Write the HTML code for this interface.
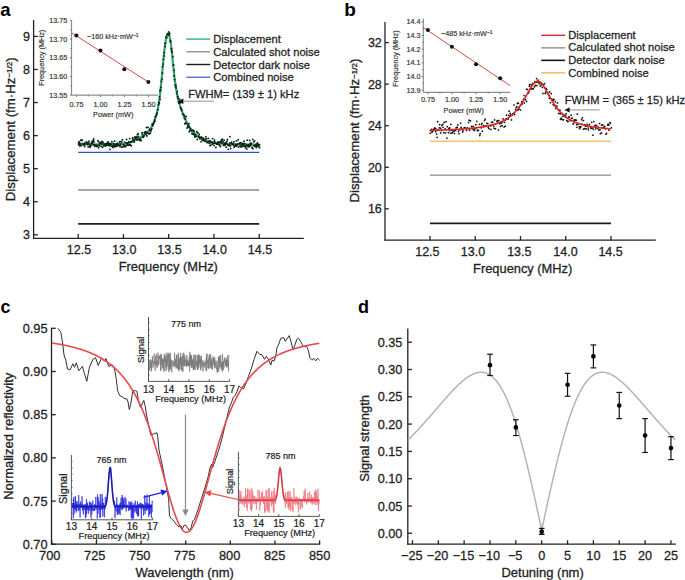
<!DOCTYPE html>
<html><head><meta charset="utf-8"><style>
html,body{margin:0;padding:0;background:#fff;}
svg{display:block;}
text{font-family:"Liberation Sans",sans-serif;}
</style></head><body>
<svg width="685" height="580" viewBox="0 0 685 580" font-family="Liberation Sans, sans-serif">
<rect width="685" height="580" fill="#fff"/>
<text x="0.3" y="15.7" font-size="18.5" text-anchor="start" font-weight="bold" fill="#000" >a</text>
<line x1="33.6" y1="20" x2="33.6" y2="238.9" stroke="#222" stroke-width="1.3" />
<line x1="33" y1="238.3" x2="303.8" y2="238.3" stroke="#222" stroke-width="1.3" />
<line x1="33.6" y1="234.82" x2="37.8" y2="234.82" stroke="#222" stroke-width="1.3" />
<text x="29.9" y="239.22" font-size="12.5" text-anchor="end" fill="#1f1f1f"  stroke="#1f1f1f" stroke-width="0.30">3</text>
<line x1="33.6" y1="201.75" x2="37.8" y2="201.75" stroke="#222" stroke-width="1.3" />
<text x="29.9" y="206.15" font-size="12.5" text-anchor="end" fill="#1f1f1f"  stroke="#1f1f1f" stroke-width="0.30">4</text>
<line x1="33.6" y1="168.68" x2="37.8" y2="168.68" stroke="#222" stroke-width="1.3" />
<text x="29.9" y="173.08" font-size="12.5" text-anchor="end" fill="#1f1f1f"  stroke="#1f1f1f" stroke-width="0.30">5</text>
<line x1="33.6" y1="135.61" x2="37.8" y2="135.61" stroke="#222" stroke-width="1.3" />
<text x="29.9" y="140.01" font-size="12.5" text-anchor="end" fill="#1f1f1f"  stroke="#1f1f1f" stroke-width="0.30">6</text>
<line x1="33.6" y1="102.54" x2="37.8" y2="102.54" stroke="#222" stroke-width="1.3" />
<text x="29.9" y="106.94" font-size="12.5" text-anchor="end" fill="#1f1f1f"  stroke="#1f1f1f" stroke-width="0.30">7</text>
<line x1="33.6" y1="69.47" x2="37.8" y2="69.47" stroke="#222" stroke-width="1.3" />
<text x="29.9" y="73.87" font-size="12.5" text-anchor="end" fill="#1f1f1f"  stroke="#1f1f1f" stroke-width="0.30">8</text>
<line x1="33.6" y1="36.4" x2="37.8" y2="36.4" stroke="#222" stroke-width="1.3" />
<text x="29.9" y="40.8" font-size="12.5" text-anchor="end" fill="#1f1f1f"  stroke="#1f1f1f" stroke-width="0.30">9</text>
<line x1="78.2" y1="238.3" x2="78.2" y2="234.1" stroke="#222" stroke-width="1.3" />
<text x="79" y="254.1" font-size="12.5" text-anchor="middle" fill="#1f1f1f"  stroke="#1f1f1f" stroke-width="0.30">12.5</text>
<line x1="123.45" y1="238.3" x2="123.45" y2="234.1" stroke="#222" stroke-width="1.3" />
<text x="124.25" y="254.1" font-size="12.5" text-anchor="middle" fill="#1f1f1f"  stroke="#1f1f1f" stroke-width="0.30">13.0</text>
<line x1="168.7" y1="238.3" x2="168.7" y2="234.1" stroke="#222" stroke-width="1.3" />
<text x="169.5" y="254.1" font-size="12.5" text-anchor="middle" fill="#1f1f1f"  stroke="#1f1f1f" stroke-width="0.30">13.5</text>
<line x1="213.95" y1="238.3" x2="213.95" y2="234.1" stroke="#222" stroke-width="1.3" />
<text x="214.75" y="254.1" font-size="12.5" text-anchor="middle" fill="#1f1f1f"  stroke="#1f1f1f" stroke-width="0.30">14.0</text>
<line x1="259.2" y1="238.3" x2="259.2" y2="234.1" stroke="#222" stroke-width="1.3" />
<text x="260" y="254.1" font-size="12.5" text-anchor="middle" fill="#1f1f1f"  stroke="#1f1f1f" stroke-width="0.30">14.5</text>
<text x="168.3" y="271" font-size="12.85" text-anchor="middle" fill="#1f1f1f"  stroke="#1f1f1f" stroke-width="0.30">Frequency (MHz)</text>
<text x="14.8" y="129.3" font-size="13.25" text-anchor="middle" fill="#1f1f1f" transform="rotate(-90 14.8 129.3)"  stroke="#1f1f1f" stroke-width="0.30">Displacement (fm·Hz<tspan font-size="8" dy="-2.4">−1/2</tspan><tspan dy="2.4">)</tspan></text>
<line x1="78.2" y1="152.4" x2="259.2" y2="152.4" stroke="#2e4cc4" stroke-width="1.3" />
<line x1="78.2" y1="190" x2="259.2" y2="190" stroke="#8a8a8a" stroke-width="1.3" />
<line x1="78.2" y1="223.85" x2="259.2" y2="223.85" stroke="#1c1c1c" stroke-width="1.8" />
<path d="M78.5 143.6 L78.75 143.62 L79 143.63 L79.25 143.65 L79.5 143.67 L79.75 143.69 L80 143.7 L80.25 143.72 L80.5 143.73 L80.75 143.75 L81 143.77 L81.25 143.78 L81.5 143.8 L81.75 143.81 L82 143.83 L82.25 143.84 L82.5 143.86 L82.75 143.87 L83 143.89 L83.25 143.9 L83.5 143.92 L83.75 143.93 L84 143.95 L84.25 143.96 L84.5 143.97 L84.75 143.99 L85 144 L85.25 144.01 L85.5 144.02 L85.75 144.04 L86 144.05 L86.25 144.06 L86.5 144.07 L86.75 144.08 L87 144.09 L87.25 144.1 L87.5 144.11 L87.75 144.12 L88 144.13 L88.25 144.14 L88.5 144.15 L88.75 144.16 L89 144.17 L89.25 144.18 L89.5 144.19 L89.75 144.19 L90 144.2 L90.25 144.21 L90.5 144.21 L90.75 144.22 L91 144.23 L91.25 144.24 L91.5 144.24 L91.75 144.25 L92 144.26 L92.25 144.26 L92.5 144.27 L92.75 144.28 L93 144.29 L93.25 144.29 L93.5 144.3 L93.75 144.31 L94 144.31 L94.25 144.32 L94.5 144.32 L94.75 144.33 L95 144.34 L95.25 144.34 L95.5 144.35 L95.75 144.35 L96 144.36 L96.25 144.36 L96.5 144.37 L96.75 144.37 L97 144.37 L97.25 144.38 L97.5 144.38 L97.75 144.39 L98 144.39 L98.25 144.39 L98.5 144.39 L98.75 144.4 L99 144.4 L99.25 144.4 L99.5 144.4 L99.75 144.4 L100 144.4 L100.25 144.4 L100.5 144.4 L100.75 144.4 L101 144.4 L101.25 144.4 L101.5 144.4 L101.75 144.4 L102 144.39 L102.25 144.39 L102.5 144.39 L102.75 144.39 L103 144.39 L103.25 144.39 L103.5 144.38 L103.75 144.38 L104 144.38 L104.25 144.38 L104.5 144.37 L104.75 144.37 L105 144.37 L105.25 144.37 L105.5 144.36 L105.75 144.36 L106 144.36 L106.25 144.35 L106.5 144.35 L106.75 144.35 L107 144.34 L107.25 144.34 L107.5 144.34 L107.75 144.33 L108 144.33 L108.25 144.33 L108.5 144.32 L108.75 144.32 L109 144.31 L109.25 144.31 L109.5 144.31 L109.75 144.3 L110 144.3 L110.25 144.3 L110.5 144.29 L110.75 144.29 L111 144.28 L111.25 144.28 L111.5 144.27 L111.75 144.27 L112 144.26 L112.25 144.26 L112.5 144.25 L112.75 144.25 L113 144.24 L113.25 144.24 L113.5 144.23 L113.75 144.22 L114 144.22 L114.25 144.21 L114.5 144.2 L114.75 144.2 L115 144.19 L115.25 144.18 L115.5 144.17 L115.75 144.17 L116 144.16 L116.25 144.15 L116.5 144.14 L116.75 144.13 L117 144.12 L117.25 144.12 L117.5 144.11 L117.75 144.1 L118 144.09 L118.25 144.08 L118.5 144.07 L118.75 144.06 L119 144.05 L119.25 144.03 L119.5 144.02 L119.75 144.01 L120 144 L120.25 143.99 L120.5 143.98 L120.75 143.96 L121 143.95 L121.25 143.93 L121.5 143.92 L121.75 143.9 L122 143.88 L122.25 143.87 L122.5 143.85 L122.75 143.83 L123 143.81 L123.25 143.79 L123.5 143.77 L123.75 143.74 L124 143.72 L124.25 143.7 L124.5 143.67 L124.75 143.64 L125 143.62 L125.25 143.59 L125.5 143.56 L125.75 143.53 L126 143.5 L126.25 143.46 L126.5 143.43 L126.75 143.39 L127 143.36 L127.25 143.32 L127.5 143.28 L127.75 143.24 L128 143.2 L128.25 143.15 L128.5 143.1 L128.75 143.03 L129 142.96 L129.25 142.88 L129.5 142.79 L129.75 142.69 L130 142.59 L130.25 142.49 L130.5 142.37 L130.75 142.26 L131 142.14 L131.25 142.01 L131.5 141.89 L131.75 141.76 L132 141.63 L132.25 141.5 L132.5 141.37 L132.75 141.24 L133 141.11 L133.25 140.98 L133.5 140.85 L133.75 140.72 L134 140.6 L134.25 140.48 L134.5 140.35 L134.75 140.23 L135 140.1 L135.25 139.97 L135.5 139.84 L135.75 139.71 L136 139.58 L136.25 139.45 L136.5 139.31 L136.75 139.17 L137 139.04 L137.25 138.9 L137.5 138.76 L137.75 138.62 L138 138.47 L138.25 138.33 L138.5 138.19 L138.75 138.04 L139 137.89 L139.25 137.75 L139.5 137.6 L139.75 137.45 L140 137.3 L140.25 137.15 L140.5 137 L140.75 136.86 L141 136.71 L141.25 136.57 L141.5 136.42 L141.75 136.28 L142 136.13 L142.25 135.99 L142.5 135.84 L142.75 135.69 L143 135.54 L143.25 135.39 L143.5 135.23 L143.75 135.07 L144 134.91 L144.25 134.74 L144.5 134.57 L144.75 134.39 L145 134.21 L145.25 134.03 L145.5 133.83 L145.75 133.64 L146 133.43 L146.25 133.22 L146.5 133 L146.75 132.77 L147 132.54 L147.25 132.3 L147.5 132.05 L147.75 131.79 L148 131.52 L148.25 131.25 L148.5 130.96 L148.75 130.67 L149 130.37 L149.25 130.05 L149.5 129.73 L149.75 129.4 L150 129.06 L150.25 128.71 L150.5 128.35 L150.75 127.97 L151 127.59 L151.25 127.19 L151.5 126.79 L151.75 126.37 L152 125.94 L152.25 125.5 L152.5 125.05 L152.75 124.58 L153 124.11 L153.25 123.6 L153.5 123.06 L153.75 122.49 L154 121.89 L154.25 121.26 L154.5 120.6 L154.75 119.91 L155 119.19 L155.25 118.43 L155.5 117.65 L155.75 116.83 L156 115.99 L156.25 115.11 L156.5 114.2 L156.75 113.27 L157 112.3 L157.25 111.3 L157.5 110.23 L157.75 109.07 L158 107.82 L158.25 106.49 L158.5 105.08 L158.75 103.59 L159 102.02 L159.25 100.37 L159.5 98.66 L159.75 96.87 L160 94.94 L160.25 92.76 L160.5 90.38 L160.75 87.86 L161 85.26 L161.25 82.63 L161.5 80.02 L161.75 77.46 L162 74.82 L162.25 72.16 L162.5 69.53 L162.75 66.96 L163 64.32 L163.25 61.65 L163.5 58.98 L163.75 56.37 L164 53.85 L164.25 51.48 L164.5 49.3 L164.75 47.36 L165 45.61 L165.25 43.94 L165.5 42.36 L165.75 40.88 L166 39.54 L166.25 38.36 L166.5 37.35 L166.75 36.49 L167 35.65 L167.25 34.86 L167.5 34.21 L167.75 33.76 L168 33.6 L168.25 33.72 L168.5 34.05 L168.75 34.56 L169 35.2 L169.25 35.92 L169.5 36.69 L169.75 37.52 L170 38.6 L170.25 39.91 L170.5 41.41 L170.75 43.06 L171 44.82 L171.25 46.63 L171.5 48.59 L171.75 50.87 L172 53.39 L172.25 56.07 L172.5 58.83 L172.75 61.58 L173 64.24 L173.25 66.73 L173.5 68.98 L173.75 71.14 L174 73.27 L174.25 75.34 L174.5 77.35 L174.75 79.3 L175 81.17 L175.25 82.95 L175.5 84.65 L175.75 86.26 L176 87.84 L176.25 89.38 L176.5 90.88 L176.75 92.33 L177 93.73 L177.25 95.08 L177.5 96.37 L177.75 97.59 L178 98.73 L178.25 99.8 L178.5 100.79 L178.75 101.72 L179 102.6 L179.25 103.45 L179.5 104.25 L179.75 105.03 L180 105.77 L180.25 106.5 L180.5 107.2 L180.75 107.88 L181 108.55 L181.25 109.22 L181.5 109.88 L181.75 110.54 L182 111.2 L182.25 111.87 L182.5 112.53 L182.75 113.19 L183 113.84 L183.25 114.49 L183.5 115.12 L183.75 115.75 L184 116.38 L184.25 116.99 L184.5 117.59 L184.75 118.17 L185 118.75 L185.25 119.31 L185.5 119.86 L185.75 120.39 L186 120.9 L186.25 121.4 L186.5 121.89 L186.75 122.36 L187 122.83 L187.25 123.3 L187.5 123.75 L187.75 124.2 L188 124.64 L188.25 125.07 L188.5 125.5 L188.75 125.92 L189 126.33 L189.25 126.73 L189.5 127.12 L189.75 127.51 L190 127.89 L190.25 128.25 L190.5 128.61 L190.75 128.96 L191 129.3 L191.25 129.63 L191.5 129.95 L191.75 130.26 L192 130.57 L192.25 130.87 L192.5 131.16 L192.75 131.45 L193 131.74 L193.25 132.02 L193.5 132.3 L193.75 132.58 L194 132.84 L194.25 133.11 L194.5 133.37 L194.75 133.62 L195 133.87 L195.25 134.11 L195.5 134.35 L195.75 134.59 L196 134.82 L196.25 135.04 L196.5 135.26 L196.75 135.47 L197 135.68 L197.25 135.88 L197.5 136.08 L197.75 136.27 L198 136.46 L198.25 136.64 L198.5 136.81 L198.75 136.99 L199 137.16 L199.25 137.34 L199.5 137.51 L199.75 137.67 L200 137.84 L200.25 138 L200.5 138.16 L200.75 138.32 L201 138.47 L201.25 138.63 L201.5 138.77 L201.75 138.92 L202 139.06 L202.25 139.19 L202.5 139.33 L202.75 139.46 L203 139.58 L203.25 139.7 L203.5 139.81 L203.75 139.93 L204 140.03 L204.25 140.13 L204.5 140.23 L204.75 140.32 L205 140.4 L205.25 140.48 L205.5 140.56 L205.75 140.64 L206 140.71 L206.25 140.79 L206.5 140.86 L206.75 140.94 L207 141.01 L207.25 141.08 L207.5 141.15 L207.75 141.22 L208 141.28 L208.25 141.35 L208.5 141.41 L208.75 141.48 L209 141.54 L209.25 141.6 L209.5 141.66 L209.75 141.72 L210 141.77 L210.25 141.83 L210.5 141.89 L210.75 141.94 L211 141.99 L211.25 142.04 L211.5 142.09 L211.75 142.14 L212 142.19 L212.25 142.24 L212.5 142.28 L212.75 142.33 L213 142.37 L213.25 142.41 L213.5 142.45 L213.75 142.49 L214 142.53 L214.25 142.57 L214.5 142.6 L214.75 142.64 L215 142.67 L215.25 142.71 L215.5 142.74 L215.75 142.77 L216 142.8 L216.25 142.83 L216.5 142.86 L216.75 142.89 L217 142.91 L217.25 142.94 L217.5 142.97 L217.75 143 L218 143.02 L218.25 143.05 L218.5 143.07 L218.75 143.1 L219 143.12 L219.25 143.15 L219.5 143.17 L219.75 143.2 L220 143.22 L220.25 143.24 L220.5 143.27 L220.75 143.29 L221 143.31 L221.25 143.33 L221.5 143.35 L221.75 143.37 L222 143.39 L222.25 143.41 L222.5 143.43 L222.75 143.45 L223 143.47 L223.25 143.49 L223.5 143.51 L223.75 143.53 L224 143.55 L224.25 143.57 L224.5 143.58 L224.75 143.6 L225 143.62 L225.25 143.63 L225.5 143.65 L225.75 143.67 L226 143.68 L226.25 143.7 L226.5 143.71 L226.75 143.73 L227 143.74 L227.25 143.76 L227.5 143.77 L227.75 143.79 L228 143.8 L228.25 143.81 L228.5 143.83 L228.75 143.84 L229 143.85 L229.25 143.86 L229.5 143.88 L229.75 143.89 L230 143.9 L230.25 143.91 L230.5 143.92 L230.75 143.93 L231 143.95 L231.25 143.96 L231.5 143.97 L231.75 143.98 L232 143.99 L232.25 144 L232.5 144.01 L232.75 144.02 L233 144.03 L233.25 144.04 L233.5 144.05 L233.75 144.06 L234 144.07 L234.25 144.07 L234.5 144.08 L234.75 144.09 L235 144.1 L235.25 144.11 L235.5 144.12 L235.75 144.13 L236 144.13 L236.25 144.14 L236.5 144.15 L236.75 144.16 L237 144.17 L237.25 144.17 L237.5 144.18 L237.75 144.19 L238 144.2 L238.25 144.21 L238.5 144.21 L238.75 144.22 L239 144.23 L239.25 144.23 L239.5 144.24 L239.75 144.25 L240 144.26 L240.25 144.26 L240.5 144.27 L240.75 144.28 L241 144.28 L241.25 144.29 L241.5 144.3 L241.75 144.31 L242 144.31 L242.25 144.32 L242.5 144.33 L242.75 144.33 L243 144.34 L243.25 144.35 L243.5 144.36 L243.75 144.36 L244 144.37 L244.25 144.38 L244.5 144.39 L244.75 144.39 L245 144.4 L245.25 144.41 L245.5 144.41 L245.75 144.42 L246 144.43 L246.25 144.44 L246.5 144.44 L246.75 144.45 L247 144.46 L247.25 144.47 L247.5 144.47 L247.75 144.48 L248 144.49 L248.25 144.5 L248.5 144.5 L248.75 144.51 L249 144.52 L249.25 144.52 L249.5 144.53 L249.75 144.54 L250 144.54 L250.25 144.55 L250.5 144.56 L250.75 144.57 L251 144.57 L251.25 144.58 L251.5 144.59 L251.75 144.59 L252 144.6 L252.25 144.61 L252.5 144.61 L252.75 144.62 L253 144.63 L253.25 144.63 L253.5 144.64 L253.75 144.65 L254 144.65 L254.25 144.66 L254.5 144.67 L254.75 144.67 L255 144.68 L255.25 144.69 L255.5 144.69 L255.75 144.7 L256 144.71 L256.25 144.71 L256.5 144.72 L256.75 144.72 L257 144.73 L257.25 144.74 L257.5 144.74 L257.75 144.75 L258 144.76 L258.25 144.76 L258.5 144.77 L258.75 144.77 L259 144.78 L259.25 144.79 L259.5 144.79 L259.75 144.8" fill="none" stroke="#30a870" stroke-width="2.2" stroke-linejoin="round" />
<path d="M77.64 143.06a0.95 0.95 0 1 0 1.9 0a0.95 0.95 0 1 0 -1.9 0M77.71 144.7a0.95 0.95 0 1 0 1.9 0a0.95 0.95 0 1 0 -1.9 0M78.11 141.7a0.95 0.95 0 1 0 1.9 0a0.95 0.95 0 1 0 -1.9 0M78.79 143.24a0.95 0.95 0 1 0 1.9 0a0.95 0.95 0 1 0 -1.9 0M78.94 145.89a0.95 0.95 0 1 0 1.9 0a0.95 0.95 0 1 0 -1.9 0M79.37 144.26a0.95 0.95 0 1 0 1.9 0a0.95 0.95 0 1 0 -1.9 0M79.8 140.27a0.95 0.95 0 1 0 1.9 0a0.95 0.95 0 1 0 -1.9 0M80.27 145.59a0.95 0.95 0 1 0 1.9 0a0.95 0.95 0 1 0 -1.9 0M80.9 140.27a0.95 0.95 0 1 0 1.9 0a0.95 0.95 0 1 0 -1.9 0M81.2 140.18a0.95 0.95 0 1 0 1.9 0a0.95 0.95 0 1 0 -1.9 0M81.89 144.51a0.95 0.95 0 1 0 1.9 0a0.95 0.95 0 1 0 -1.9 0M81.97 143.79a0.95 0.95 0 1 0 1.9 0a0.95 0.95 0 1 0 -1.9 0M82.39 144.56a0.95 0.95 0 1 0 1.9 0a0.95 0.95 0 1 0 -1.9 0M83.11 144.77a0.95 0.95 0 1 0 1.9 0a0.95 0.95 0 1 0 -1.9 0M83.42 145.13a0.95 0.95 0 1 0 1.9 0a0.95 0.95 0 1 0 -1.9 0M83.67 146.5a0.95 0.95 0 1 0 1.9 0a0.95 0.95 0 1 0 -1.9 0M83.89 143.28a0.95 0.95 0 1 0 1.9 0a0.95 0.95 0 1 0 -1.9 0M84.39 143.8a0.95 0.95 0 1 0 1.9 0a0.95 0.95 0 1 0 -1.9 0M84.87 143.1a0.95 0.95 0 1 0 1.9 0a0.95 0.95 0 1 0 -1.9 0M85.45 142.05a0.95 0.95 0 1 0 1.9 0a0.95 0.95 0 1 0 -1.9 0M85.99 142.38a0.95 0.95 0 1 0 1.9 0a0.95 0.95 0 1 0 -1.9 0M86.34 144.61a0.95 0.95 0 1 0 1.9 0a0.95 0.95 0 1 0 -1.9 0M86.65 144.22a0.95 0.95 0 1 0 1.9 0a0.95 0.95 0 1 0 -1.9 0M87.27 146.88a0.95 0.95 0 1 0 1.9 0a0.95 0.95 0 1 0 -1.9 0M87.75 143.93a0.95 0.95 0 1 0 1.9 0a0.95 0.95 0 1 0 -1.9 0M87.65 142.45a0.95 0.95 0 1 0 1.9 0a0.95 0.95 0 1 0 -1.9 0M88.08 141.1a0.95 0.95 0 1 0 1.9 0a0.95 0.95 0 1 0 -1.9 0M88.69 145.93a0.95 0.95 0 1 0 1.9 0a0.95 0.95 0 1 0 -1.9 0M89.27 147.23a0.95 0.95 0 1 0 1.9 0a0.95 0.95 0 1 0 -1.9 0M89.57 144.97a0.95 0.95 0 1 0 1.9 0a0.95 0.95 0 1 0 -1.9 0M90.06 145.52a0.95 0.95 0 1 0 1.9 0a0.95 0.95 0 1 0 -1.9 0M90.41 142.95a0.95 0.95 0 1 0 1.9 0a0.95 0.95 0 1 0 -1.9 0M90.97 142.22a0.95 0.95 0 1 0 1.9 0a0.95 0.95 0 1 0 -1.9 0M91.45 143.15a0.95 0.95 0 1 0 1.9 0a0.95 0.95 0 1 0 -1.9 0M91.33 141.21a0.95 0.95 0 1 0 1.9 0a0.95 0.95 0 1 0 -1.9 0M92.13 144.79a0.95 0.95 0 1 0 1.9 0a0.95 0.95 0 1 0 -1.9 0M92.61 140.31a0.95 0.95 0 1 0 1.9 0a0.95 0.95 0 1 0 -1.9 0M92.7 139.02a0.95 0.95 0 1 0 1.9 0a0.95 0.95 0 1 0 -1.9 0M92.96 141.96a0.95 0.95 0 1 0 1.9 0a0.95 0.95 0 1 0 -1.9 0M93.63 146.38a0.95 0.95 0 1 0 1.9 0a0.95 0.95 0 1 0 -1.9 0M93.8 144.85a0.95 0.95 0 1 0 1.9 0a0.95 0.95 0 1 0 -1.9 0M94.64 145.26a0.95 0.95 0 1 0 1.9 0a0.95 0.95 0 1 0 -1.9 0M94.83 145.44a0.95 0.95 0 1 0 1.9 0a0.95 0.95 0 1 0 -1.9 0M95.53 145.51a0.95 0.95 0 1 0 1.9 0a0.95 0.95 0 1 0 -1.9 0M95.75 146.38a0.95 0.95 0 1 0 1.9 0a0.95 0.95 0 1 0 -1.9 0M96.36 145.49a0.95 0.95 0 1 0 1.9 0a0.95 0.95 0 1 0 -1.9 0M96.41 146.15a0.95 0.95 0 1 0 1.9 0a0.95 0.95 0 1 0 -1.9 0M96.91 140.58a0.95 0.95 0 1 0 1.9 0a0.95 0.95 0 1 0 -1.9 0M97.65 141.64a0.95 0.95 0 1 0 1.9 0a0.95 0.95 0 1 0 -1.9 0M97.58 147.78a0.95 0.95 0 1 0 1.9 0a0.95 0.95 0 1 0 -1.9 0M98.04 145.08a0.95 0.95 0 1 0 1.9 0a0.95 0.95 0 1 0 -1.9 0M98.6 145.76a0.95 0.95 0 1 0 1.9 0a0.95 0.95 0 1 0 -1.9 0M98.73 143.01a0.95 0.95 0 1 0 1.9 0a0.95 0.95 0 1 0 -1.9 0M99.39 143.53a0.95 0.95 0 1 0 1.9 0a0.95 0.95 0 1 0 -1.9 0M100.12 142.55a0.95 0.95 0 1 0 1.9 0a0.95 0.95 0 1 0 -1.9 0M100.38 146.39a0.95 0.95 0 1 0 1.9 0a0.95 0.95 0 1 0 -1.9 0M100.78 141.5a0.95 0.95 0 1 0 1.9 0a0.95 0.95 0 1 0 -1.9 0M100.82 144.11a0.95 0.95 0 1 0 1.9 0a0.95 0.95 0 1 0 -1.9 0M101.73 147.34a0.95 0.95 0 1 0 1.9 0a0.95 0.95 0 1 0 -1.9 0M102.09 142.23a0.95 0.95 0 1 0 1.9 0a0.95 0.95 0 1 0 -1.9 0M102.09 142.73a0.95 0.95 0 1 0 1.9 0a0.95 0.95 0 1 0 -1.9 0M102.82 145.71a0.95 0.95 0 1 0 1.9 0a0.95 0.95 0 1 0 -1.9 0M102.98 145.1a0.95 0.95 0 1 0 1.9 0a0.95 0.95 0 1 0 -1.9 0M103.37 144.67a0.95 0.95 0 1 0 1.9 0a0.95 0.95 0 1 0 -1.9 0M103.68 144a0.95 0.95 0 1 0 1.9 0a0.95 0.95 0 1 0 -1.9 0M104.18 144.95a0.95 0.95 0 1 0 1.9 0a0.95 0.95 0 1 0 -1.9 0M104.52 145.96a0.95 0.95 0 1 0 1.9 0a0.95 0.95 0 1 0 -1.9 0M105.44 145.54a0.95 0.95 0 1 0 1.9 0a0.95 0.95 0 1 0 -1.9 0M105.48 143.45a0.95 0.95 0 1 0 1.9 0a0.95 0.95 0 1 0 -1.9 0M105.95 143.56a0.95 0.95 0 1 0 1.9 0a0.95 0.95 0 1 0 -1.9 0M106.67 143.63a0.95 0.95 0 1 0 1.9 0a0.95 0.95 0 1 0 -1.9 0M107.17 145.14a0.95 0.95 0 1 0 1.9 0a0.95 0.95 0 1 0 -1.9 0M107.04 141.97a0.95 0.95 0 1 0 1.9 0a0.95 0.95 0 1 0 -1.9 0M107.46 144.83a0.95 0.95 0 1 0 1.9 0a0.95 0.95 0 1 0 -1.9 0M108.31 143.41a0.95 0.95 0 1 0 1.9 0a0.95 0.95 0 1 0 -1.9 0M108.32 145.68a0.95 0.95 0 1 0 1.9 0a0.95 0.95 0 1 0 -1.9 0M108.95 149.4a0.95 0.95 0 1 0 1.9 0a0.95 0.95 0 1 0 -1.9 0M109.14 145.04a0.95 0.95 0 1 0 1.9 0a0.95 0.95 0 1 0 -1.9 0M109.78 143.81a0.95 0.95 0 1 0 1.9 0a0.95 0.95 0 1 0 -1.9 0M110.46 144.15a0.95 0.95 0 1 0 1.9 0a0.95 0.95 0 1 0 -1.9 0M110.45 146.39a0.95 0.95 0 1 0 1.9 0a0.95 0.95 0 1 0 -1.9 0M110.92 141.81a0.95 0.95 0 1 0 1.9 0a0.95 0.95 0 1 0 -1.9 0M111.43 146.06a0.95 0.95 0 1 0 1.9 0a0.95 0.95 0 1 0 -1.9 0M112 147.38a0.95 0.95 0 1 0 1.9 0a0.95 0.95 0 1 0 -1.9 0M112.43 143.52a0.95 0.95 0 1 0 1.9 0a0.95 0.95 0 1 0 -1.9 0M112.94 145.54a0.95 0.95 0 1 0 1.9 0a0.95 0.95 0 1 0 -1.9 0M113.26 146.5a0.95 0.95 0 1 0 1.9 0a0.95 0.95 0 1 0 -1.9 0M113.62 141.17a0.95 0.95 0 1 0 1.9 0a0.95 0.95 0 1 0 -1.9 0M113.81 144.56a0.95 0.95 0 1 0 1.9 0a0.95 0.95 0 1 0 -1.9 0M114.02 146.69a0.95 0.95 0 1 0 1.9 0a0.95 0.95 0 1 0 -1.9 0M114.57 145.84a0.95 0.95 0 1 0 1.9 0a0.95 0.95 0 1 0 -1.9 0M115.25 144.45a0.95 0.95 0 1 0 1.9 0a0.95 0.95 0 1 0 -1.9 0M115.81 146.34a0.95 0.95 0 1 0 1.9 0a0.95 0.95 0 1 0 -1.9 0M116.25 143.51a0.95 0.95 0 1 0 1.9 0a0.95 0.95 0 1 0 -1.9 0M116.2 146.03a0.95 0.95 0 1 0 1.9 0a0.95 0.95 0 1 0 -1.9 0M116.62 143.54a0.95 0.95 0 1 0 1.9 0a0.95 0.95 0 1 0 -1.9 0M117.27 144.55a0.95 0.95 0 1 0 1.9 0a0.95 0.95 0 1 0 -1.9 0M117.85 145.41a0.95 0.95 0 1 0 1.9 0a0.95 0.95 0 1 0 -1.9 0M118.11 145.34a0.95 0.95 0 1 0 1.9 0a0.95 0.95 0 1 0 -1.9 0M118.62 142.01a0.95 0.95 0 1 0 1.9 0a0.95 0.95 0 1 0 -1.9 0M119.09 146.67a0.95 0.95 0 1 0 1.9 0a0.95 0.95 0 1 0 -1.9 0M119.43 145.56a0.95 0.95 0 1 0 1.9 0a0.95 0.95 0 1 0 -1.9 0M119.48 143.97a0.95 0.95 0 1 0 1.9 0a0.95 0.95 0 1 0 -1.9 0M120.26 141.55a0.95 0.95 0 1 0 1.9 0a0.95 0.95 0 1 0 -1.9 0M120.78 142.05a0.95 0.95 0 1 0 1.9 0a0.95 0.95 0 1 0 -1.9 0M120.85 147.17a0.95 0.95 0 1 0 1.9 0a0.95 0.95 0 1 0 -1.9 0M121.46 139.72a0.95 0.95 0 1 0 1.9 0a0.95 0.95 0 1 0 -1.9 0M121.54 146.79a0.95 0.95 0 1 0 1.9 0a0.95 0.95 0 1 0 -1.9 0M122.4 144.64a0.95 0.95 0 1 0 1.9 0a0.95 0.95 0 1 0 -1.9 0M122.75 144.63a0.95 0.95 0 1 0 1.9 0a0.95 0.95 0 1 0 -1.9 0M123.27 146.11a0.95 0.95 0 1 0 1.9 0a0.95 0.95 0 1 0 -1.9 0M123.49 146.81a0.95 0.95 0 1 0 1.9 0a0.95 0.95 0 1 0 -1.9 0M123.58 142.08a0.95 0.95 0 1 0 1.9 0a0.95 0.95 0 1 0 -1.9 0M123.93 145.74a0.95 0.95 0 1 0 1.9 0a0.95 0.95 0 1 0 -1.9 0M124.65 146.54a0.95 0.95 0 1 0 1.9 0a0.95 0.95 0 1 0 -1.9 0M125.3 142.94a0.95 0.95 0 1 0 1.9 0a0.95 0.95 0 1 0 -1.9 0M125.65 139.55a0.95 0.95 0 1 0 1.9 0a0.95 0.95 0 1 0 -1.9 0M125.7 145.1a0.95 0.95 0 1 0 1.9 0a0.95 0.95 0 1 0 -1.9 0M126.13 143.3a0.95 0.95 0 1 0 1.9 0a0.95 0.95 0 1 0 -1.9 0M126.75 145.01a0.95 0.95 0 1 0 1.9 0a0.95 0.95 0 1 0 -1.9 0M126.89 143.06a0.95 0.95 0 1 0 1.9 0a0.95 0.95 0 1 0 -1.9 0M127.77 145.29a0.95 0.95 0 1 0 1.9 0a0.95 0.95 0 1 0 -1.9 0M127.98 141.58a0.95 0.95 0 1 0 1.9 0a0.95 0.95 0 1 0 -1.9 0M128.59 144.71a0.95 0.95 0 1 0 1.9 0a0.95 0.95 0 1 0 -1.9 0M128.76 138.59a0.95 0.95 0 1 0 1.9 0a0.95 0.95 0 1 0 -1.9 0M129.19 144.79a0.95 0.95 0 1 0 1.9 0a0.95 0.95 0 1 0 -1.9 0M129.55 141.95a0.95 0.95 0 1 0 1.9 0a0.95 0.95 0 1 0 -1.9 0M129.81 142.1a0.95 0.95 0 1 0 1.9 0a0.95 0.95 0 1 0 -1.9 0M130.22 145.72a0.95 0.95 0 1 0 1.9 0a0.95 0.95 0 1 0 -1.9 0M130.81 141.84a0.95 0.95 0 1 0 1.9 0a0.95 0.95 0 1 0 -1.9 0M131.13 141.12a0.95 0.95 0 1 0 1.9 0a0.95 0.95 0 1 0 -1.9 0M131.66 138.67a0.95 0.95 0 1 0 1.9 0a0.95 0.95 0 1 0 -1.9 0M131.83 137.64a0.95 0.95 0 1 0 1.9 0a0.95 0.95 0 1 0 -1.9 0M132.51 139.63a0.95 0.95 0 1 0 1.9 0a0.95 0.95 0 1 0 -1.9 0M133.05 140.69a0.95 0.95 0 1 0 1.9 0a0.95 0.95 0 1 0 -1.9 0M133.31 142.17a0.95 0.95 0 1 0 1.9 0a0.95 0.95 0 1 0 -1.9 0M133.96 136.99a0.95 0.95 0 1 0 1.9 0a0.95 0.95 0 1 0 -1.9 0M134.09 138.72a0.95 0.95 0 1 0 1.9 0a0.95 0.95 0 1 0 -1.9 0M134.55 137.95a0.95 0.95 0 1 0 1.9 0a0.95 0.95 0 1 0 -1.9 0M135.07 138.01a0.95 0.95 0 1 0 1.9 0a0.95 0.95 0 1 0 -1.9 0M135.35 136.93a0.95 0.95 0 1 0 1.9 0a0.95 0.95 0 1 0 -1.9 0M136.05 139.95a0.95 0.95 0 1 0 1.9 0a0.95 0.95 0 1 0 -1.9 0M136.46 137.61a0.95 0.95 0 1 0 1.9 0a0.95 0.95 0 1 0 -1.9 0M136.46 134.65a0.95 0.95 0 1 0 1.9 0a0.95 0.95 0 1 0 -1.9 0M137.22 133.81a0.95 0.95 0 1 0 1.9 0a0.95 0.95 0 1 0 -1.9 0M137.21 136.42a0.95 0.95 0 1 0 1.9 0a0.95 0.95 0 1 0 -1.9 0M137.59 139.65a0.95 0.95 0 1 0 1.9 0a0.95 0.95 0 1 0 -1.9 0M138.1 139.34a0.95 0.95 0 1 0 1.9 0a0.95 0.95 0 1 0 -1.9 0M138.84 140.33a0.95 0.95 0 1 0 1.9 0a0.95 0.95 0 1 0 -1.9 0M139.32 138.66a0.95 0.95 0 1 0 1.9 0a0.95 0.95 0 1 0 -1.9 0M139.59 138.92a0.95 0.95 0 1 0 1.9 0a0.95 0.95 0 1 0 -1.9 0M139.7 139.54a0.95 0.95 0 1 0 1.9 0a0.95 0.95 0 1 0 -1.9 0M140.16 140.63a0.95 0.95 0 1 0 1.9 0a0.95 0.95 0 1 0 -1.9 0M141.01 132.62a0.95 0.95 0 1 0 1.9 0a0.95 0.95 0 1 0 -1.9 0M141.44 134.13a0.95 0.95 0 1 0 1.9 0a0.95 0.95 0 1 0 -1.9 0M141.76 137.28a0.95 0.95 0 1 0 1.9 0a0.95 0.95 0 1 0 -1.9 0M141.98 136.76a0.95 0.95 0 1 0 1.9 0a0.95 0.95 0 1 0 -1.9 0M142.29 137.23a0.95 0.95 0 1 0 1.9 0a0.95 0.95 0 1 0 -1.9 0M142.93 135.68a0.95 0.95 0 1 0 1.9 0a0.95 0.95 0 1 0 -1.9 0M142.93 136.53a0.95 0.95 0 1 0 1.9 0a0.95 0.95 0 1 0 -1.9 0M143.34 132.38a0.95 0.95 0 1 0 1.9 0a0.95 0.95 0 1 0 -1.9 0M143.94 133.47a0.95 0.95 0 1 0 1.9 0a0.95 0.95 0 1 0 -1.9 0M144.19 132.12a0.95 0.95 0 1 0 1.9 0a0.95 0.95 0 1 0 -1.9 0M145.16 131.81a0.95 0.95 0 1 0 1.9 0a0.95 0.95 0 1 0 -1.9 0M145.04 134.58a0.95 0.95 0 1 0 1.9 0a0.95 0.95 0 1 0 -1.9 0M145.55 127.43a0.95 0.95 0 1 0 1.9 0a0.95 0.95 0 1 0 -1.9 0M145.97 136.02a0.95 0.95 0 1 0 1.9 0a0.95 0.95 0 1 0 -1.9 0M146.3 132.98a0.95 0.95 0 1 0 1.9 0a0.95 0.95 0 1 0 -1.9 0M147.12 127.57a0.95 0.95 0 1 0 1.9 0a0.95 0.95 0 1 0 -1.9 0M147.2 133.37a0.95 0.95 0 1 0 1.9 0a0.95 0.95 0 1 0 -1.9 0M147.8 133.5a0.95 0.95 0 1 0 1.9 0a0.95 0.95 0 1 0 -1.9 0M148.29 134.02a0.95 0.95 0 1 0 1.9 0a0.95 0.95 0 1 0 -1.9 0M148.7 130.3a0.95 0.95 0 1 0 1.9 0a0.95 0.95 0 1 0 -1.9 0M148.95 129.52a0.95 0.95 0 1 0 1.9 0a0.95 0.95 0 1 0 -1.9 0M149.49 133a0.95 0.95 0 1 0 1.9 0a0.95 0.95 0 1 0 -1.9 0M150 130.12a0.95 0.95 0 1 0 1.9 0a0.95 0.95 0 1 0 -1.9 0M149.98 130.87a0.95 0.95 0 1 0 1.9 0a0.95 0.95 0 1 0 -1.9 0M150.87 128.7a0.95 0.95 0 1 0 1.9 0a0.95 0.95 0 1 0 -1.9 0M151.09 124.09a0.95 0.95 0 1 0 1.9 0a0.95 0.95 0 1 0 -1.9 0M151.73 125.74a0.95 0.95 0 1 0 1.9 0a0.95 0.95 0 1 0 -1.9 0M151.9 124.3a0.95 0.95 0 1 0 1.9 0a0.95 0.95 0 1 0 -1.9 0M152.14 124.7a0.95 0.95 0 1 0 1.9 0a0.95 0.95 0 1 0 -1.9 0M152.44 123.66a0.95 0.95 0 1 0 1.9 0a0.95 0.95 0 1 0 -1.9 0M152.95 122.5a0.95 0.95 0 1 0 1.9 0a0.95 0.95 0 1 0 -1.9 0M153.69 119.95a0.95 0.95 0 1 0 1.9 0a0.95 0.95 0 1 0 -1.9 0M153.83 121.13a0.95 0.95 0 1 0 1.9 0a0.95 0.95 0 1 0 -1.9 0M154.27 116.92a0.95 0.95 0 1 0 1.9 0a0.95 0.95 0 1 0 -1.9 0M154.49 116.91a0.95 0.95 0 1 0 1.9 0a0.95 0.95 0 1 0 -1.9 0M155.33 115.5a0.95 0.95 0 1 0 1.9 0a0.95 0.95 0 1 0 -1.9 0M155.63 114.37a0.95 0.95 0 1 0 1.9 0a0.95 0.95 0 1 0 -1.9 0M156.28 113.31a0.95 0.95 0 1 0 1.9 0a0.95 0.95 0 1 0 -1.9 0M156.19 112.96a0.95 0.95 0 1 0 1.9 0a0.95 0.95 0 1 0 -1.9 0M156.84 109.8a0.95 0.95 0 1 0 1.9 0a0.95 0.95 0 1 0 -1.9 0M157.46 104.7a0.95 0.95 0 1 0 1.9 0a0.95 0.95 0 1 0 -1.9 0M157.78 102.43a0.95 0.95 0 1 0 1.9 0a0.95 0.95 0 1 0 -1.9 0M158.37 103.37a0.95 0.95 0 1 0 1.9 0a0.95 0.95 0 1 0 -1.9 0M158.62 96.86a0.95 0.95 0 1 0 1.9 0a0.95 0.95 0 1 0 -1.9 0M158.99 99.38a0.95 0.95 0 1 0 1.9 0a0.95 0.95 0 1 0 -1.9 0M159.05 90.96a0.95 0.95 0 1 0 1.9 0a0.95 0.95 0 1 0 -1.9 0M159.51 89.63a0.95 0.95 0 1 0 1.9 0a0.95 0.95 0 1 0 -1.9 0M160 87.36a0.95 0.95 0 1 0 1.9 0a0.95 0.95 0 1 0 -1.9 0M160.36 81.4a0.95 0.95 0 1 0 1.9 0a0.95 0.95 0 1 0 -1.9 0M161.2 79.12a0.95 0.95 0 1 0 1.9 0a0.95 0.95 0 1 0 -1.9 0M161.49 73.29a0.95 0.95 0 1 0 1.9 0a0.95 0.95 0 1 0 -1.9 0M161.67 66.66a0.95 0.95 0 1 0 1.9 0a0.95 0.95 0 1 0 -1.9 0M162.19 64.13a0.95 0.95 0 1 0 1.9 0a0.95 0.95 0 1 0 -1.9 0M162.48 59.44a0.95 0.95 0 1 0 1.9 0a0.95 0.95 0 1 0 -1.9 0M163.31 55.88a0.95 0.95 0 1 0 1.9 0a0.95 0.95 0 1 0 -1.9 0M163.3 52.75a0.95 0.95 0 1 0 1.9 0a0.95 0.95 0 1 0 -1.9 0M164.14 46.45a0.95 0.95 0 1 0 1.9 0a0.95 0.95 0 1 0 -1.9 0M163.98 43.37a0.95 0.95 0 1 0 1.9 0a0.95 0.95 0 1 0 -1.9 0M164.62 43.36a0.95 0.95 0 1 0 1.9 0a0.95 0.95 0 1 0 -1.9 0M164.92 36.83a0.95 0.95 0 1 0 1.9 0a0.95 0.95 0 1 0 -1.9 0M165.52 37.87a0.95 0.95 0 1 0 1.9 0a0.95 0.95 0 1 0 -1.9 0M165.68 37.7a0.95 0.95 0 1 0 1.9 0a0.95 0.95 0 1 0 -1.9 0M166.28 34.79a0.95 0.95 0 1 0 1.9 0a0.95 0.95 0 1 0 -1.9 0M166.64 34.26a0.95 0.95 0 1 0 1.9 0a0.95 0.95 0 1 0 -1.9 0M167.01 33.74a0.95 0.95 0 1 0 1.9 0a0.95 0.95 0 1 0 -1.9 0M167.73 31.89a0.95 0.95 0 1 0 1.9 0a0.95 0.95 0 1 0 -1.9 0M168.09 33.72a0.95 0.95 0 1 0 1.9 0a0.95 0.95 0 1 0 -1.9 0M168.34 35.33a0.95 0.95 0 1 0 1.9 0a0.95 0.95 0 1 0 -1.9 0M168.72 33.37a0.95 0.95 0 1 0 1.9 0a0.95 0.95 0 1 0 -1.9 0M169.37 40.72a0.95 0.95 0 1 0 1.9 0a0.95 0.95 0 1 0 -1.9 0M169.73 41.91a0.95 0.95 0 1 0 1.9 0a0.95 0.95 0 1 0 -1.9 0M170.29 48.71a0.95 0.95 0 1 0 1.9 0a0.95 0.95 0 1 0 -1.9 0M170.55 49.02a0.95 0.95 0 1 0 1.9 0a0.95 0.95 0 1 0 -1.9 0M170.67 51.31a0.95 0.95 0 1 0 1.9 0a0.95 0.95 0 1 0 -1.9 0M171.31 52.22a0.95 0.95 0 1 0 1.9 0a0.95 0.95 0 1 0 -1.9 0M171.89 56.62a0.95 0.95 0 1 0 1.9 0a0.95 0.95 0 1 0 -1.9 0M172.32 64.88a0.95 0.95 0 1 0 1.9 0a0.95 0.95 0 1 0 -1.9 0M172.65 65.02a0.95 0.95 0 1 0 1.9 0a0.95 0.95 0 1 0 -1.9 0M173.07 70.18a0.95 0.95 0 1 0 1.9 0a0.95 0.95 0 1 0 -1.9 0M173.14 75.91a0.95 0.95 0 1 0 1.9 0a0.95 0.95 0 1 0 -1.9 0M173.69 79.63a0.95 0.95 0 1 0 1.9 0a0.95 0.95 0 1 0 -1.9 0M174.22 85.32a0.95 0.95 0 1 0 1.9 0a0.95 0.95 0 1 0 -1.9 0M174.68 87.43a0.95 0.95 0 1 0 1.9 0a0.95 0.95 0 1 0 -1.9 0M175.01 85.39a0.95 0.95 0 1 0 1.9 0a0.95 0.95 0 1 0 -1.9 0M175.13 87.88a0.95 0.95 0 1 0 1.9 0a0.95 0.95 0 1 0 -1.9 0M175.84 93.59a0.95 0.95 0 1 0 1.9 0a0.95 0.95 0 1 0 -1.9 0M176.27 91.5a0.95 0.95 0 1 0 1.9 0a0.95 0.95 0 1 0 -1.9 0M176.81 96.52a0.95 0.95 0 1 0 1.9 0a0.95 0.95 0 1 0 -1.9 0M176.93 98.21a0.95 0.95 0 1 0 1.9 0a0.95 0.95 0 1 0 -1.9 0M177.63 102.04a0.95 0.95 0 1 0 1.9 0a0.95 0.95 0 1 0 -1.9 0M177.73 102.84a0.95 0.95 0 1 0 1.9 0a0.95 0.95 0 1 0 -1.9 0M178.31 103.14a0.95 0.95 0 1 0 1.9 0a0.95 0.95 0 1 0 -1.9 0M178.66 99.1a0.95 0.95 0 1 0 1.9 0a0.95 0.95 0 1 0 -1.9 0M179.3 102.89a0.95 0.95 0 1 0 1.9 0a0.95 0.95 0 1 0 -1.9 0M179.63 107.63a0.95 0.95 0 1 0 1.9 0a0.95 0.95 0 1 0 -1.9 0M179.76 107.81a0.95 0.95 0 1 0 1.9 0a0.95 0.95 0 1 0 -1.9 0M180.24 108.78a0.95 0.95 0 1 0 1.9 0a0.95 0.95 0 1 0 -1.9 0M180.84 110.45a0.95 0.95 0 1 0 1.9 0a0.95 0.95 0 1 0 -1.9 0M180.92 109.84a0.95 0.95 0 1 0 1.9 0a0.95 0.95 0 1 0 -1.9 0M181.73 114.26a0.95 0.95 0 1 0 1.9 0a0.95 0.95 0 1 0 -1.9 0M182.15 114.42a0.95 0.95 0 1 0 1.9 0a0.95 0.95 0 1 0 -1.9 0M182.46 114.08a0.95 0.95 0 1 0 1.9 0a0.95 0.95 0 1 0 -1.9 0M182.84 114.35a0.95 0.95 0 1 0 1.9 0a0.95 0.95 0 1 0 -1.9 0M183.51 115.89a0.95 0.95 0 1 0 1.9 0a0.95 0.95 0 1 0 -1.9 0M183.51 118.13a0.95 0.95 0 1 0 1.9 0a0.95 0.95 0 1 0 -1.9 0M183.81 123.74a0.95 0.95 0 1 0 1.9 0a0.95 0.95 0 1 0 -1.9 0M184.49 119.1a0.95 0.95 0 1 0 1.9 0a0.95 0.95 0 1 0 -1.9 0M184.9 123a0.95 0.95 0 1 0 1.9 0a0.95 0.95 0 1 0 -1.9 0M185.2 116.49a0.95 0.95 0 1 0 1.9 0a0.95 0.95 0 1 0 -1.9 0M185.58 123.54a0.95 0.95 0 1 0 1.9 0a0.95 0.95 0 1 0 -1.9 0M186.21 127.95a0.95 0.95 0 1 0 1.9 0a0.95 0.95 0 1 0 -1.9 0M186.85 125.41a0.95 0.95 0 1 0 1.9 0a0.95 0.95 0 1 0 -1.9 0M186.77 126.53a0.95 0.95 0 1 0 1.9 0a0.95 0.95 0 1 0 -1.9 0M187.64 126.32a0.95 0.95 0 1 0 1.9 0a0.95 0.95 0 1 0 -1.9 0M187.94 123.68a0.95 0.95 0 1 0 1.9 0a0.95 0.95 0 1 0 -1.9 0M188.22 127.14a0.95 0.95 0 1 0 1.9 0a0.95 0.95 0 1 0 -1.9 0M188.36 131.72a0.95 0.95 0 1 0 1.9 0a0.95 0.95 0 1 0 -1.9 0M189.03 130.34a0.95 0.95 0 1 0 1.9 0a0.95 0.95 0 1 0 -1.9 0M189.35 128.55a0.95 0.95 0 1 0 1.9 0a0.95 0.95 0 1 0 -1.9 0M189.77 130.29a0.95 0.95 0 1 0 1.9 0a0.95 0.95 0 1 0 -1.9 0M190.5 131.11a0.95 0.95 0 1 0 1.9 0a0.95 0.95 0 1 0 -1.9 0M190.91 133.65a0.95 0.95 0 1 0 1.9 0a0.95 0.95 0 1 0 -1.9 0M190.89 130.69a0.95 0.95 0 1 0 1.9 0a0.95 0.95 0 1 0 -1.9 0M191.77 134.11a0.95 0.95 0 1 0 1.9 0a0.95 0.95 0 1 0 -1.9 0M191.82 130.14a0.95 0.95 0 1 0 1.9 0a0.95 0.95 0 1 0 -1.9 0M192.66 130.63a0.95 0.95 0 1 0 1.9 0a0.95 0.95 0 1 0 -1.9 0M192.83 134.05a0.95 0.95 0 1 0 1.9 0a0.95 0.95 0 1 0 -1.9 0M193.05 131.56a0.95 0.95 0 1 0 1.9 0a0.95 0.95 0 1 0 -1.9 0M193.33 135.12a0.95 0.95 0 1 0 1.9 0a0.95 0.95 0 1 0 -1.9 0M193.88 137.03a0.95 0.95 0 1 0 1.9 0a0.95 0.95 0 1 0 -1.9 0M194.69 136.61a0.95 0.95 0 1 0 1.9 0a0.95 0.95 0 1 0 -1.9 0M194.84 134.63a0.95 0.95 0 1 0 1.9 0a0.95 0.95 0 1 0 -1.9 0M195.06 136.65a0.95 0.95 0 1 0 1.9 0a0.95 0.95 0 1 0 -1.9 0M195.89 131.68a0.95 0.95 0 1 0 1.9 0a0.95 0.95 0 1 0 -1.9 0M196.26 139.45a0.95 0.95 0 1 0 1.9 0a0.95 0.95 0 1 0 -1.9 0M196.75 132.87a0.95 0.95 0 1 0 1.9 0a0.95 0.95 0 1 0 -1.9 0M196.93 132.94a0.95 0.95 0 1 0 1.9 0a0.95 0.95 0 1 0 -1.9 0M197.45 136.52a0.95 0.95 0 1 0 1.9 0a0.95 0.95 0 1 0 -1.9 0M197.7 136.28a0.95 0.95 0 1 0 1.9 0a0.95 0.95 0 1 0 -1.9 0M198.01 137.28a0.95 0.95 0 1 0 1.9 0a0.95 0.95 0 1 0 -1.9 0M198.28 134.49a0.95 0.95 0 1 0 1.9 0a0.95 0.95 0 1 0 -1.9 0M198.95 138.77a0.95 0.95 0 1 0 1.9 0a0.95 0.95 0 1 0 -1.9 0M199.29 137.57a0.95 0.95 0 1 0 1.9 0a0.95 0.95 0 1 0 -1.9 0M200.08 137.3a0.95 0.95 0 1 0 1.9 0a0.95 0.95 0 1 0 -1.9 0M200.06 141.86a0.95 0.95 0 1 0 1.9 0a0.95 0.95 0 1 0 -1.9 0M200.65 137.82a0.95 0.95 0 1 0 1.9 0a0.95 0.95 0 1 0 -1.9 0M200.97 137.57a0.95 0.95 0 1 0 1.9 0a0.95 0.95 0 1 0 -1.9 0M201.27 139.89a0.95 0.95 0 1 0 1.9 0a0.95 0.95 0 1 0 -1.9 0M202.1 140.57a0.95 0.95 0 1 0 1.9 0a0.95 0.95 0 1 0 -1.9 0M202.51 138.21a0.95 0.95 0 1 0 1.9 0a0.95 0.95 0 1 0 -1.9 0M202.98 139.9a0.95 0.95 0 1 0 1.9 0a0.95 0.95 0 1 0 -1.9 0M202.91 138.95a0.95 0.95 0 1 0 1.9 0a0.95 0.95 0 1 0 -1.9 0M203.26 140.57a0.95 0.95 0 1 0 1.9 0a0.95 0.95 0 1 0 -1.9 0M203.77 139.86a0.95 0.95 0 1 0 1.9 0a0.95 0.95 0 1 0 -1.9 0M204.19 141.26a0.95 0.95 0 1 0 1.9 0a0.95 0.95 0 1 0 -1.9 0M204.9 136.65a0.95 0.95 0 1 0 1.9 0a0.95 0.95 0 1 0 -1.9 0M205.11 138.89a0.95 0.95 0 1 0 1.9 0a0.95 0.95 0 1 0 -1.9 0M205.5 138.68a0.95 0.95 0 1 0 1.9 0a0.95 0.95 0 1 0 -1.9 0M205.89 142.31a0.95 0.95 0 1 0 1.9 0a0.95 0.95 0 1 0 -1.9 0M206.68 142.67a0.95 0.95 0 1 0 1.9 0a0.95 0.95 0 1 0 -1.9 0M206.59 141.86a0.95 0.95 0 1 0 1.9 0a0.95 0.95 0 1 0 -1.9 0M207.44 138.37a0.95 0.95 0 1 0 1.9 0a0.95 0.95 0 1 0 -1.9 0M207.47 141.37a0.95 0.95 0 1 0 1.9 0a0.95 0.95 0 1 0 -1.9 0M207.99 141.33a0.95 0.95 0 1 0 1.9 0a0.95 0.95 0 1 0 -1.9 0M208.43 143.21a0.95 0.95 0 1 0 1.9 0a0.95 0.95 0 1 0 -1.9 0M209.1 145.65a0.95 0.95 0 1 0 1.9 0a0.95 0.95 0 1 0 -1.9 0M209 140.66a0.95 0.95 0 1 0 1.9 0a0.95 0.95 0 1 0 -1.9 0M209.94 145.15a0.95 0.95 0 1 0 1.9 0a0.95 0.95 0 1 0 -1.9 0M210.1 142.67a0.95 0.95 0 1 0 1.9 0a0.95 0.95 0 1 0 -1.9 0M210.47 142.05a0.95 0.95 0 1 0 1.9 0a0.95 0.95 0 1 0 -1.9 0M211.2 142.15a0.95 0.95 0 1 0 1.9 0a0.95 0.95 0 1 0 -1.9 0M211.64 144.13a0.95 0.95 0 1 0 1.9 0a0.95 0.95 0 1 0 -1.9 0M211.62 138.65a0.95 0.95 0 1 0 1.9 0a0.95 0.95 0 1 0 -1.9 0M212.2 143.33a0.95 0.95 0 1 0 1.9 0a0.95 0.95 0 1 0 -1.9 0M212.71 143.23a0.95 0.95 0 1 0 1.9 0a0.95 0.95 0 1 0 -1.9 0M213.1 145.66a0.95 0.95 0 1 0 1.9 0a0.95 0.95 0 1 0 -1.9 0M213.58 141.38a0.95 0.95 0 1 0 1.9 0a0.95 0.95 0 1 0 -1.9 0M213.56 140.08a0.95 0.95 0 1 0 1.9 0a0.95 0.95 0 1 0 -1.9 0M214.42 143.4a0.95 0.95 0 1 0 1.9 0a0.95 0.95 0 1 0 -1.9 0M214.75 143.27a0.95 0.95 0 1 0 1.9 0a0.95 0.95 0 1 0 -1.9 0M214.96 147.49a0.95 0.95 0 1 0 1.9 0a0.95 0.95 0 1 0 -1.9 0M215.57 143.96a0.95 0.95 0 1 0 1.9 0a0.95 0.95 0 1 0 -1.9 0M216.02 144.05a0.95 0.95 0 1 0 1.9 0a0.95 0.95 0 1 0 -1.9 0M216.33 143.55a0.95 0.95 0 1 0 1.9 0a0.95 0.95 0 1 0 -1.9 0M216.78 143.51a0.95 0.95 0 1 0 1.9 0a0.95 0.95 0 1 0 -1.9 0M217.2 141.89a0.95 0.95 0 1 0 1.9 0a0.95 0.95 0 1 0 -1.9 0M217.26 144.04a0.95 0.95 0 1 0 1.9 0a0.95 0.95 0 1 0 -1.9 0M218.24 142.37a0.95 0.95 0 1 0 1.9 0a0.95 0.95 0 1 0 -1.9 0M218.46 145.37a0.95 0.95 0 1 0 1.9 0a0.95 0.95 0 1 0 -1.9 0M218.63 144.97a0.95 0.95 0 1 0 1.9 0a0.95 0.95 0 1 0 -1.9 0M219.05 141.64a0.95 0.95 0 1 0 1.9 0a0.95 0.95 0 1 0 -1.9 0M219.5 146.45a0.95 0.95 0 1 0 1.9 0a0.95 0.95 0 1 0 -1.9 0M219.74 142.5a0.95 0.95 0 1 0 1.9 0a0.95 0.95 0 1 0 -1.9 0M220.39 140.2a0.95 0.95 0 1 0 1.9 0a0.95 0.95 0 1 0 -1.9 0M220.71 143.41a0.95 0.95 0 1 0 1.9 0a0.95 0.95 0 1 0 -1.9 0M221.1 141.04a0.95 0.95 0 1 0 1.9 0a0.95 0.95 0 1 0 -1.9 0M221.4 139.29a0.95 0.95 0 1 0 1.9 0a0.95 0.95 0 1 0 -1.9 0M222.2 142.32a0.95 0.95 0 1 0 1.9 0a0.95 0.95 0 1 0 -1.9 0M222.33 145.37a0.95 0.95 0 1 0 1.9 0a0.95 0.95 0 1 0 -1.9 0M222.92 144.54a0.95 0.95 0 1 0 1.9 0a0.95 0.95 0 1 0 -1.9 0M223.16 140.27a0.95 0.95 0 1 0 1.9 0a0.95 0.95 0 1 0 -1.9 0M223.94 145.38a0.95 0.95 0 1 0 1.9 0a0.95 0.95 0 1 0 -1.9 0M224 143.28a0.95 0.95 0 1 0 1.9 0a0.95 0.95 0 1 0 -1.9 0M224.45 144.29a0.95 0.95 0 1 0 1.9 0a0.95 0.95 0 1 0 -1.9 0M225.26 147.17a0.95 0.95 0 1 0 1.9 0a0.95 0.95 0 1 0 -1.9 0M225.23 142.35a0.95 0.95 0 1 0 1.9 0a0.95 0.95 0 1 0 -1.9 0M225.76 143.76a0.95 0.95 0 1 0 1.9 0a0.95 0.95 0 1 0 -1.9 0M226.01 141.15a0.95 0.95 0 1 0 1.9 0a0.95 0.95 0 1 0 -1.9 0M226.57 139.36a0.95 0.95 0 1 0 1.9 0a0.95 0.95 0 1 0 -1.9 0M226.84 145.11a0.95 0.95 0 1 0 1.9 0a0.95 0.95 0 1 0 -1.9 0M227.19 149.34a0.95 0.95 0 1 0 1.9 0a0.95 0.95 0 1 0 -1.9 0M228.12 145.79a0.95 0.95 0 1 0 1.9 0a0.95 0.95 0 1 0 -1.9 0M228.52 144.64a0.95 0.95 0 1 0 1.9 0a0.95 0.95 0 1 0 -1.9 0M228.96 143.1a0.95 0.95 0 1 0 1.9 0a0.95 0.95 0 1 0 -1.9 0M229.01 136.67a0.95 0.95 0 1 0 1.9 0a0.95 0.95 0 1 0 -1.9 0M229.68 145.86a0.95 0.95 0 1 0 1.9 0a0.95 0.95 0 1 0 -1.9 0M229.66 148.46a0.95 0.95 0 1 0 1.9 0a0.95 0.95 0 1 0 -1.9 0M230.28 142.91a0.95 0.95 0 1 0 1.9 0a0.95 0.95 0 1 0 -1.9 0M230.67 142.22a0.95 0.95 0 1 0 1.9 0a0.95 0.95 0 1 0 -1.9 0M231.05 144.07a0.95 0.95 0 1 0 1.9 0a0.95 0.95 0 1 0 -1.9 0M231.5 144.15a0.95 0.95 0 1 0 1.9 0a0.95 0.95 0 1 0 -1.9 0M232.28 145.06a0.95 0.95 0 1 0 1.9 0a0.95 0.95 0 1 0 -1.9 0M232.24 143.74a0.95 0.95 0 1 0 1.9 0a0.95 0.95 0 1 0 -1.9 0M233.03 141.64a0.95 0.95 0 1 0 1.9 0a0.95 0.95 0 1 0 -1.9 0M233.2 147.13a0.95 0.95 0 1 0 1.9 0a0.95 0.95 0 1 0 -1.9 0M233.58 146.35a0.95 0.95 0 1 0 1.9 0a0.95 0.95 0 1 0 -1.9 0M234.32 144.83a0.95 0.95 0 1 0 1.9 0a0.95 0.95 0 1 0 -1.9 0M234.72 144.82a0.95 0.95 0 1 0 1.9 0a0.95 0.95 0 1 0 -1.9 0M234.62 146a0.95 0.95 0 1 0 1.9 0a0.95 0.95 0 1 0 -1.9 0M235.47 140.89a0.95 0.95 0 1 0 1.9 0a0.95 0.95 0 1 0 -1.9 0M235.45 146.2a0.95 0.95 0 1 0 1.9 0a0.95 0.95 0 1 0 -1.9 0M236.39 144.91a0.95 0.95 0 1 0 1.9 0a0.95 0.95 0 1 0 -1.9 0M236.4 144.35a0.95 0.95 0 1 0 1.9 0a0.95 0.95 0 1 0 -1.9 0M236.87 144.12a0.95 0.95 0 1 0 1.9 0a0.95 0.95 0 1 0 -1.9 0M237.24 139.72a0.95 0.95 0 1 0 1.9 0a0.95 0.95 0 1 0 -1.9 0M237.65 147.03a0.95 0.95 0 1 0 1.9 0a0.95 0.95 0 1 0 -1.9 0M238.33 143.47a0.95 0.95 0 1 0 1.9 0a0.95 0.95 0 1 0 -1.9 0M238.32 143.56a0.95 0.95 0 1 0 1.9 0a0.95 0.95 0 1 0 -1.9 0M239.18 145.8a0.95 0.95 0 1 0 1.9 0a0.95 0.95 0 1 0 -1.9 0M239.71 146.84a0.95 0.95 0 1 0 1.9 0a0.95 0.95 0 1 0 -1.9 0M239.57 142.79a0.95 0.95 0 1 0 1.9 0a0.95 0.95 0 1 0 -1.9 0M240.54 144.53a0.95 0.95 0 1 0 1.9 0a0.95 0.95 0 1 0 -1.9 0M240.95 146.68a0.95 0.95 0 1 0 1.9 0a0.95 0.95 0 1 0 -1.9 0M241.05 143.11a0.95 0.95 0 1 0 1.9 0a0.95 0.95 0 1 0 -1.9 0M241.5 145.37a0.95 0.95 0 1 0 1.9 0a0.95 0.95 0 1 0 -1.9 0M242.1 145.54a0.95 0.95 0 1 0 1.9 0a0.95 0.95 0 1 0 -1.9 0M242.47 143.77a0.95 0.95 0 1 0 1.9 0a0.95 0.95 0 1 0 -1.9 0M242.81 145.96a0.95 0.95 0 1 0 1.9 0a0.95 0.95 0 1 0 -1.9 0M243.05 141.13a0.95 0.95 0 1 0 1.9 0a0.95 0.95 0 1 0 -1.9 0M243.74 143.54a0.95 0.95 0 1 0 1.9 0a0.95 0.95 0 1 0 -1.9 0M243.73 146.2a0.95 0.95 0 1 0 1.9 0a0.95 0.95 0 1 0 -1.9 0M244.24 145.55a0.95 0.95 0 1 0 1.9 0a0.95 0.95 0 1 0 -1.9 0M244.55 147.74a0.95 0.95 0 1 0 1.9 0a0.95 0.95 0 1 0 -1.9 0M245.12 147.04a0.95 0.95 0 1 0 1.9 0a0.95 0.95 0 1 0 -1.9 0M245.92 145.01a0.95 0.95 0 1 0 1.9 0a0.95 0.95 0 1 0 -1.9 0M245.91 149.1a0.95 0.95 0 1 0 1.9 0a0.95 0.95 0 1 0 -1.9 0M246.21 140.3a0.95 0.95 0 1 0 1.9 0a0.95 0.95 0 1 0 -1.9 0M247 146.51a0.95 0.95 0 1 0 1.9 0a0.95 0.95 0 1 0 -1.9 0M247.25 145.9a0.95 0.95 0 1 0 1.9 0a0.95 0.95 0 1 0 -1.9 0M247.77 144.72a0.95 0.95 0 1 0 1.9 0a0.95 0.95 0 1 0 -1.9 0M248.22 146.69a0.95 0.95 0 1 0 1.9 0a0.95 0.95 0 1 0 -1.9 0M248.62 144.48a0.95 0.95 0 1 0 1.9 0a0.95 0.95 0 1 0 -1.9 0M248.71 140.47a0.95 0.95 0 1 0 1.9 0a0.95 0.95 0 1 0 -1.9 0M249.39 145.5a0.95 0.95 0 1 0 1.9 0a0.95 0.95 0 1 0 -1.9 0M249.69 143.09a0.95 0.95 0 1 0 1.9 0a0.95 0.95 0 1 0 -1.9 0M250.03 144.47a0.95 0.95 0 1 0 1.9 0a0.95 0.95 0 1 0 -1.9 0M250.44 143.19a0.95 0.95 0 1 0 1.9 0a0.95 0.95 0 1 0 -1.9 0M251.05 147.09a0.95 0.95 0 1 0 1.9 0a0.95 0.95 0 1 0 -1.9 0M251.31 148.19a0.95 0.95 0 1 0 1.9 0a0.95 0.95 0 1 0 -1.9 0M251.83 139.41a0.95 0.95 0 1 0 1.9 0a0.95 0.95 0 1 0 -1.9 0M252.08 148.62a0.95 0.95 0 1 0 1.9 0a0.95 0.95 0 1 0 -1.9 0M252.95 145.74a0.95 0.95 0 1 0 1.9 0a0.95 0.95 0 1 0 -1.9 0M252.83 141.8a0.95 0.95 0 1 0 1.9 0a0.95 0.95 0 1 0 -1.9 0M253.69 140.83a0.95 0.95 0 1 0 1.9 0a0.95 0.95 0 1 0 -1.9 0M254.14 145.29a0.95 0.95 0 1 0 1.9 0a0.95 0.95 0 1 0 -1.9 0M254.08 146.38a0.95 0.95 0 1 0 1.9 0a0.95 0.95 0 1 0 -1.9 0M254.53 145.14a0.95 0.95 0 1 0 1.9 0a0.95 0.95 0 1 0 -1.9 0M255.39 147.45a0.95 0.95 0 1 0 1.9 0a0.95 0.95 0 1 0 -1.9 0M255.47 144.25a0.95 0.95 0 1 0 1.9 0a0.95 0.95 0 1 0 -1.9 0M255.82 146.26a0.95 0.95 0 1 0 1.9 0a0.95 0.95 0 1 0 -1.9 0M256.54 143.03a0.95 0.95 0 1 0 1.9 0a0.95 0.95 0 1 0 -1.9 0M256.84 145.69a0.95 0.95 0 1 0 1.9 0a0.95 0.95 0 1 0 -1.9 0M257.27 144.43a0.95 0.95 0 1 0 1.9 0a0.95 0.95 0 1 0 -1.9 0M257.4 145.18a0.95 0.95 0 1 0 1.9 0a0.95 0.95 0 1 0 -1.9 0M257.85 146.75a0.95 0.95 0 1 0 1.9 0a0.95 0.95 0 1 0 -1.9 0M258.53 144.7a0.95 0.95 0 1 0 1.9 0a0.95 0.95 0 1 0 -1.9 0M258.67 147.64a0.95 0.95 0 1 0 1.9 0a0.95 0.95 0 1 0 -1.9 0" fill="#0c2418"/>
<line x1="186.3" y1="39.1" x2="210.3" y2="39.1" stroke="#35b37a" stroke-width="1.4" />
<line x1="186.3" y1="51.8" x2="210.3" y2="51.8" stroke="#8a8a8a" stroke-width="1.3" />
<line x1="186.3" y1="64.5" x2="210.3" y2="64.5" stroke="#1c1c1c" stroke-width="1.4" />
<line x1="186.3" y1="77.2" x2="210.3" y2="77.2" stroke="#3a56c8" stroke-width="1.2" />
<text x="213.3" y="43.1" font-size="11.15" text-anchor="start" fill="#1f1f1f"  stroke="#1f1f1f" stroke-width="0.27">Displacement</text>
<text x="213.3" y="55.8" font-size="11.15" text-anchor="start" fill="#1f1f1f"  stroke="#1f1f1f" stroke-width="0.27">Calculated shot noise</text>
<text x="213.3" y="68.5" font-size="11.15" text-anchor="start" fill="#1f1f1f"  stroke="#1f1f1f" stroke-width="0.27">Detector dark noise</text>
<text x="213.3" y="81.2" font-size="11.15" text-anchor="start" fill="#1f1f1f"  stroke="#1f1f1f" stroke-width="0.27">Combined noise</text>
<text x="188.2" y="97.6" font-size="11.15" text-anchor="start" fill="#1f1f1f"  stroke="#1f1f1f" stroke-width="0.27">FWHM= (139 ± 1) kHz</text>
<line x1="183.2" y1="101.2" x2="213.8" y2="101.2" stroke="#9a9a9a" stroke-width="1.1" />
<path d="M177.7 101.2 L183.4 98.5 L183.4 103.9 Z" fill="#111"/>
<line x1="71.5" y1="20.4" x2="71.5" y2="95.2" stroke="#8e8e8e" stroke-width="1.2" />
<line x1="71.5" y1="95.2" x2="158" y2="95.2" stroke="#8e8e8e" stroke-width="1.2" />
<line x1="70.4" y1="85.85" x2="71.5" y2="85.85" stroke="#555" stroke-width="0.7" />
<line x1="70.4" y1="67.15" x2="71.5" y2="67.15" stroke="#555" stroke-width="0.7" />
<line x1="70.4" y1="48.45" x2="71.5" y2="48.45" stroke="#555" stroke-width="0.7" />
<line x1="70.4" y1="29.75" x2="71.5" y2="29.75" stroke="#555" stroke-width="0.7" />
<line x1="69.9" y1="95.2" x2="71.5" y2="95.2" stroke="#555" stroke-width="0.8" />
<text x="67.3" y="97.7" font-size="7.2" text-anchor="end" fill="#333"  stroke="#333" stroke-width="0.17">13.55</text>
<line x1="69.9" y1="76.5" x2="71.5" y2="76.5" stroke="#555" stroke-width="0.8" />
<text x="67.3" y="79" font-size="7.2" text-anchor="end" fill="#333"  stroke="#333" stroke-width="0.17">13.60</text>
<line x1="69.9" y1="57.8" x2="71.5" y2="57.8" stroke="#555" stroke-width="0.8" />
<text x="67.3" y="60.3" font-size="7.2" text-anchor="end" fill="#333"  stroke="#333" stroke-width="0.17">13.65</text>
<line x1="69.9" y1="39.1" x2="71.5" y2="39.1" stroke="#555" stroke-width="0.8" />
<text x="67.3" y="41.6" font-size="7.2" text-anchor="end" fill="#333"  stroke="#333" stroke-width="0.17">13.70</text>
<line x1="69.9" y1="20.4" x2="71.5" y2="20.4" stroke="#555" stroke-width="0.8" />
<text x="67.3" y="22.9" font-size="7.2" text-anchor="end" fill="#333"  stroke="#333" stroke-width="0.17">13.75</text>
<line x1="76.4" y1="95.2" x2="76.4" y2="97" stroke="#555" stroke-width="0.8" />
<text x="76.4" y="106.7" font-size="7.2" text-anchor="middle" fill="#333"  stroke="#333" stroke-width="0.17">0.75</text>
<line x1="88.4" y1="95.2" x2="88.4" y2="96.5" stroke="#555" stroke-width="0.8" />
<line x1="100.4" y1="95.2" x2="100.4" y2="97" stroke="#555" stroke-width="0.8" />
<text x="100.4" y="106.7" font-size="7.2" text-anchor="middle" fill="#333"  stroke="#333" stroke-width="0.17">1.00</text>
<line x1="112.4" y1="95.2" x2="112.4" y2="96.5" stroke="#555" stroke-width="0.8" />
<line x1="124.4" y1="95.2" x2="124.4" y2="97" stroke="#555" stroke-width="0.8" />
<text x="124.4" y="106.7" font-size="7.2" text-anchor="middle" fill="#333"  stroke="#333" stroke-width="0.17">1.25</text>
<line x1="136.4" y1="95.2" x2="136.4" y2="96.5" stroke="#555" stroke-width="0.8" />
<line x1="148.4" y1="95.2" x2="148.4" y2="97" stroke="#555" stroke-width="0.8" />
<text x="148.4" y="106.7" font-size="7.2" text-anchor="middle" fill="#333"  stroke="#333" stroke-width="0.17">1.50</text>
<text x="113.2" y="117.2" font-size="7.25" text-anchor="middle" fill="#333"  stroke="#333" stroke-width="0.17">Power (mW)</text>
<text x="44.5" y="57.8" font-size="7.25" text-anchor="middle" fill="#333" transform="rotate(-90 44.5 57.8)"  stroke="#333" stroke-width="0.17">Frequency (MHz)</text>
<line x1="71.5" y1="32.7" x2="148.4" y2="82.1" stroke="#e04848" stroke-width="1.0" />
<circle cx="76.4" cy="35.5" r="2.0" fill="#111"/>
<circle cx="100.4" cy="50.5" r="2.0" fill="#111"/>
<circle cx="124.3" cy="69.3" r="2.0" fill="#111"/>
<circle cx="148.4" cy="82.1" r="2.0" fill="#111"/>
<text x="87" y="39.3" font-size="7.2" text-anchor="start" fill="#333"  stroke="#333" stroke-width="0.17">−160 kHz·mW<tspan font-size="5.2" dy="-2.5">−1</tspan></text>
<text x="344.3" y="15.7" font-size="19" text-anchor="start" font-weight="bold" fill="#000" >b</text>
<line x1="385" y1="21.9" x2="385" y2="240.8" stroke="#222" stroke-width="1.3" />
<line x1="384.4" y1="240.2" x2="655.8" y2="240.2" stroke="#222" stroke-width="1.3" />
<line x1="385" y1="208.84" x2="388.8" y2="208.84" stroke="#222" stroke-width="1.3" />
<text x="381.8" y="213.24" font-size="12.5" text-anchor="end" fill="#1f1f1f"  stroke="#1f1f1f" stroke-width="0.30">16</text>
<line x1="385" y1="167.28" x2="388.8" y2="167.28" stroke="#222" stroke-width="1.3" />
<text x="381.8" y="171.68" font-size="12.5" text-anchor="end" fill="#1f1f1f"  stroke="#1f1f1f" stroke-width="0.30">20</text>
<line x1="385" y1="125.72" x2="388.8" y2="125.72" stroke="#222" stroke-width="1.3" />
<text x="381.8" y="130.12" font-size="12.5" text-anchor="end" fill="#1f1f1f"  stroke="#1f1f1f" stroke-width="0.30">24</text>
<line x1="385" y1="84.16" x2="388.8" y2="84.16" stroke="#222" stroke-width="1.3" />
<text x="381.8" y="88.56" font-size="12.5" text-anchor="end" fill="#1f1f1f"  stroke="#1f1f1f" stroke-width="0.30">28</text>
<line x1="385" y1="42.6" x2="388.8" y2="42.6" stroke="#222" stroke-width="1.3" />
<text x="381.8" y="47" font-size="12.5" text-anchor="end" fill="#1f1f1f"  stroke="#1f1f1f" stroke-width="0.30">32</text>
<line x1="430" y1="240.2" x2="430" y2="236" stroke="#222" stroke-width="1.3" />
<text x="427.4" y="256" font-size="12.5" text-anchor="middle" fill="#1f1f1f"  stroke="#1f1f1f" stroke-width="0.30">12.5</text>
<line x1="475.25" y1="240.2" x2="475.25" y2="236" stroke="#222" stroke-width="1.3" />
<text x="473" y="256" font-size="12.5" text-anchor="middle" fill="#1f1f1f"  stroke="#1f1f1f" stroke-width="0.30">13.0</text>
<line x1="520.5" y1="240.2" x2="520.5" y2="236" stroke="#222" stroke-width="1.3" />
<text x="519.3" y="256" font-size="12.5" text-anchor="middle" fill="#1f1f1f"  stroke="#1f1f1f" stroke-width="0.30">13.5</text>
<line x1="565.75" y1="240.2" x2="565.75" y2="236" stroke="#222" stroke-width="1.3" />
<text x="565.5" y="256" font-size="12.5" text-anchor="middle" fill="#1f1f1f"  stroke="#1f1f1f" stroke-width="0.30">14.0</text>
<line x1="611" y1="240.2" x2="611" y2="236" stroke="#222" stroke-width="1.3" />
<text x="610.6" y="256" font-size="12.5" text-anchor="middle" fill="#1f1f1f"  stroke="#1f1f1f" stroke-width="0.30">14.5</text>
<text x="522.7" y="273" font-size="12.85" text-anchor="middle" fill="#1f1f1f"  stroke="#1f1f1f" stroke-width="0.30">Frequency (MHz)</text>
<text x="359.3" y="130.6" font-size="13.25" text-anchor="middle" fill="#1f1f1f" transform="rotate(-90 359.3 130.6)"  stroke="#1f1f1f" stroke-width="0.30">Displacement (fm·Hz<tspan font-size="8" dy="-2.4">−1/2</tspan><tspan dy="2.4">)</tspan></text>
<line x1="430" y1="141.2" x2="611" y2="141.2" stroke="#f3c468" stroke-width="1.5" />
<line x1="430" y1="175.2" x2="611" y2="175.2" stroke="#8a8a8a" stroke-width="1.3" />
<line x1="430" y1="223.3" x2="611" y2="223.3" stroke="#1c1c1c" stroke-width="1.7" />
<path d="M429.26 133.29a0.88 0.88 0 1 0 1.76 0a0.88 0.88 0 1 0 -1.76 0M429.47 130.55a0.88 0.88 0 1 0 1.76 0a0.88 0.88 0 1 0 -1.76 0M430.57 129.48a0.88 0.88 0 1 0 1.76 0a0.88 0.88 0 1 0 -1.76 0M430.97 132.37a0.88 0.88 0 1 0 1.76 0a0.88 0.88 0 1 0 -1.76 0M431.46 131.7a0.88 0.88 0 1 0 1.76 0a0.88 0.88 0 1 0 -1.76 0M432.19 130.87a0.88 0.88 0 1 0 1.76 0a0.88 0.88 0 1 0 -1.76 0M432.48 129.34a0.88 0.88 0 1 0 1.76 0a0.88 0.88 0 1 0 -1.76 0M433.51 129.14a0.88 0.88 0 1 0 1.76 0a0.88 0.88 0 1 0 -1.76 0M433.81 127.96a0.88 0.88 0 1 0 1.76 0a0.88 0.88 0 1 0 -1.76 0M434.93 131.66a0.88 0.88 0 1 0 1.76 0a0.88 0.88 0 1 0 -1.76 0M435.06 128.56a0.88 0.88 0 1 0 1.76 0a0.88 0.88 0 1 0 -1.76 0M435.71 134.12a0.88 0.88 0 1 0 1.76 0a0.88 0.88 0 1 0 -1.76 0M436.28 137.48a0.88 0.88 0 1 0 1.76 0a0.88 0.88 0 1 0 -1.76 0M436.75 121.75a0.88 0.88 0 1 0 1.76 0a0.88 0.88 0 1 0 -1.76 0M437.2 129.81a0.88 0.88 0 1 0 1.76 0a0.88 0.88 0 1 0 -1.76 0M438.52 127.89a0.88 0.88 0 1 0 1.76 0a0.88 0.88 0 1 0 -1.76 0M438.73 124.65a0.88 0.88 0 1 0 1.76 0a0.88 0.88 0 1 0 -1.76 0M439.72 132.88a0.88 0.88 0 1 0 1.76 0a0.88 0.88 0 1 0 -1.76 0M439.63 128.13a0.88 0.88 0 1 0 1.76 0a0.88 0.88 0 1 0 -1.76 0M440.66 130.5a0.88 0.88 0 1 0 1.76 0a0.88 0.88 0 1 0 -1.76 0M440.9 125.41a0.88 0.88 0 1 0 1.76 0a0.88 0.88 0 1 0 -1.76 0M441.93 124.38a0.88 0.88 0 1 0 1.76 0a0.88 0.88 0 1 0 -1.76 0M442.15 127.26a0.88 0.88 0 1 0 1.76 0a0.88 0.88 0 1 0 -1.76 0M442.87 132.77a0.88 0.88 0 1 0 1.76 0a0.88 0.88 0 1 0 -1.76 0M443.34 122.46a0.88 0.88 0 1 0 1.76 0a0.88 0.88 0 1 0 -1.76 0M444.25 128.89a0.88 0.88 0 1 0 1.76 0a0.88 0.88 0 1 0 -1.76 0M444.62 132.77a0.88 0.88 0 1 0 1.76 0a0.88 0.88 0 1 0 -1.76 0M445.17 121.73a0.88 0.88 0 1 0 1.76 0a0.88 0.88 0 1 0 -1.76 0M446.06 138.24a0.88 0.88 0 1 0 1.76 0a0.88 0.88 0 1 0 -1.76 0M446.32 126.64a0.88 0.88 0 1 0 1.76 0a0.88 0.88 0 1 0 -1.76 0M447.6 132.69a0.88 0.88 0 1 0 1.76 0a0.88 0.88 0 1 0 -1.76 0M447.98 128.27a0.88 0.88 0 1 0 1.76 0a0.88 0.88 0 1 0 -1.76 0M448.72 130.59a0.88 0.88 0 1 0 1.76 0a0.88 0.88 0 1 0 -1.76 0M448.87 127.94a0.88 0.88 0 1 0 1.76 0a0.88 0.88 0 1 0 -1.76 0M449.97 124.39a0.88 0.88 0 1 0 1.76 0a0.88 0.88 0 1 0 -1.76 0M450.05 133.24a0.88 0.88 0 1 0 1.76 0a0.88 0.88 0 1 0 -1.76 0M450.93 130.26a0.88 0.88 0 1 0 1.76 0a0.88 0.88 0 1 0 -1.76 0M451.42 132.84a0.88 0.88 0 1 0 1.76 0a0.88 0.88 0 1 0 -1.76 0M452.3 131.32a0.88 0.88 0 1 0 1.76 0a0.88 0.88 0 1 0 -1.76 0M453.05 131.25a0.88 0.88 0 1 0 1.76 0a0.88 0.88 0 1 0 -1.76 0M453.54 133.58a0.88 0.88 0 1 0 1.76 0a0.88 0.88 0 1 0 -1.76 0M453.57 130.53a0.88 0.88 0 1 0 1.76 0a0.88 0.88 0 1 0 -1.76 0M454.62 130.28a0.88 0.88 0 1 0 1.76 0a0.88 0.88 0 1 0 -1.76 0M455.19 127.98a0.88 0.88 0 1 0 1.76 0a0.88 0.88 0 1 0 -1.76 0M455.69 127.38a0.88 0.88 0 1 0 1.76 0a0.88 0.88 0 1 0 -1.76 0M456.43 127.29a0.88 0.88 0 1 0 1.76 0a0.88 0.88 0 1 0 -1.76 0M456.92 124.96a0.88 0.88 0 1 0 1.76 0a0.88 0.88 0 1 0 -1.76 0M457.52 131.42a0.88 0.88 0 1 0 1.76 0a0.88 0.88 0 1 0 -1.76 0M458.17 133.74a0.88 0.88 0 1 0 1.76 0a0.88 0.88 0 1 0 -1.76 0M458.57 129.84a0.88 0.88 0 1 0 1.76 0a0.88 0.88 0 1 0 -1.76 0M459.35 129.62a0.88 0.88 0 1 0 1.76 0a0.88 0.88 0 1 0 -1.76 0M459.74 123.37a0.88 0.88 0 1 0 1.76 0a0.88 0.88 0 1 0 -1.76 0M460.3 127.5a0.88 0.88 0 1 0 1.76 0a0.88 0.88 0 1 0 -1.76 0M461.15 129.27a0.88 0.88 0 1 0 1.76 0a0.88 0.88 0 1 0 -1.76 0M461.82 131.96a0.88 0.88 0 1 0 1.76 0a0.88 0.88 0 1 0 -1.76 0M462.05 130.87a0.88 0.88 0 1 0 1.76 0a0.88 0.88 0 1 0 -1.76 0M463.21 127.99a0.88 0.88 0 1 0 1.76 0a0.88 0.88 0 1 0 -1.76 0M463.85 127.8a0.88 0.88 0 1 0 1.76 0a0.88 0.88 0 1 0 -1.76 0M464.23 127.69a0.88 0.88 0 1 0 1.76 0a0.88 0.88 0 1 0 -1.76 0M464.74 128.66a0.88 0.88 0 1 0 1.76 0a0.88 0.88 0 1 0 -1.76 0M465.73 130.4a0.88 0.88 0 1 0 1.76 0a0.88 0.88 0 1 0 -1.76 0M466.44 128.1a0.88 0.88 0 1 0 1.76 0a0.88 0.88 0 1 0 -1.76 0M466.41 127.91a0.88 0.88 0 1 0 1.76 0a0.88 0.88 0 1 0 -1.76 0M467.64 122.52a0.88 0.88 0 1 0 1.76 0a0.88 0.88 0 1 0 -1.76 0M468.2 120.23a0.88 0.88 0 1 0 1.76 0a0.88 0.88 0 1 0 -1.76 0M468.2 128.86a0.88 0.88 0 1 0 1.76 0a0.88 0.88 0 1 0 -1.76 0M468.73 130.2a0.88 0.88 0 1 0 1.76 0a0.88 0.88 0 1 0 -1.76 0M469.56 120.92a0.88 0.88 0 1 0 1.76 0a0.88 0.88 0 1 0 -1.76 0M470.6 128.34a0.88 0.88 0 1 0 1.76 0a0.88 0.88 0 1 0 -1.76 0M470.71 126.27a0.88 0.88 0 1 0 1.76 0a0.88 0.88 0 1 0 -1.76 0M471.5 128.88a0.88 0.88 0 1 0 1.76 0a0.88 0.88 0 1 0 -1.76 0M472.44 126.4a0.88 0.88 0 1 0 1.76 0a0.88 0.88 0 1 0 -1.76 0M472.71 128.69a0.88 0.88 0 1 0 1.76 0a0.88 0.88 0 1 0 -1.76 0M473.17 130.44a0.88 0.88 0 1 0 1.76 0a0.88 0.88 0 1 0 -1.76 0M473.64 129.92a0.88 0.88 0 1 0 1.76 0a0.88 0.88 0 1 0 -1.76 0M474.87 128.29a0.88 0.88 0 1 0 1.76 0a0.88 0.88 0 1 0 -1.76 0M474.86 124.75a0.88 0.88 0 1 0 1.76 0a0.88 0.88 0 1 0 -1.76 0M475.96 121.33a0.88 0.88 0 1 0 1.76 0a0.88 0.88 0 1 0 -1.76 0M476.45 130.64a0.88 0.88 0 1 0 1.76 0a0.88 0.88 0 1 0 -1.76 0M476.83 130.2a0.88 0.88 0 1 0 1.76 0a0.88 0.88 0 1 0 -1.76 0M477.61 130.37a0.88 0.88 0 1 0 1.76 0a0.88 0.88 0 1 0 -1.76 0M478.46 124.35a0.88 0.88 0 1 0 1.76 0a0.88 0.88 0 1 0 -1.76 0M478.86 135.5a0.88 0.88 0 1 0 1.76 0a0.88 0.88 0 1 0 -1.76 0M479.28 133.53a0.88 0.88 0 1 0 1.76 0a0.88 0.88 0 1 0 -1.76 0M480.36 127.86a0.88 0.88 0 1 0 1.76 0a0.88 0.88 0 1 0 -1.76 0M480.64 124.53a0.88 0.88 0 1 0 1.76 0a0.88 0.88 0 1 0 -1.76 0M481.13 123.33a0.88 0.88 0 1 0 1.76 0a0.88 0.88 0 1 0 -1.76 0M481.53 131.14a0.88 0.88 0 1 0 1.76 0a0.88 0.88 0 1 0 -1.76 0M482.65 126.68a0.88 0.88 0 1 0 1.76 0a0.88 0.88 0 1 0 -1.76 0M482.8 125.58a0.88 0.88 0 1 0 1.76 0a0.88 0.88 0 1 0 -1.76 0M483.67 120.42a0.88 0.88 0 1 0 1.76 0a0.88 0.88 0 1 0 -1.76 0M484.34 119.12a0.88 0.88 0 1 0 1.76 0a0.88 0.88 0 1 0 -1.76 0M484.44 126.21a0.88 0.88 0 1 0 1.76 0a0.88 0.88 0 1 0 -1.76 0M485.14 126.36a0.88 0.88 0 1 0 1.76 0a0.88 0.88 0 1 0 -1.76 0M486.03 123.44a0.88 0.88 0 1 0 1.76 0a0.88 0.88 0 1 0 -1.76 0M486.94 123.59a0.88 0.88 0 1 0 1.76 0a0.88 0.88 0 1 0 -1.76 0M487.36 127.41a0.88 0.88 0 1 0 1.76 0a0.88 0.88 0 1 0 -1.76 0M487.46 127.43a0.88 0.88 0 1 0 1.76 0a0.88 0.88 0 1 0 -1.76 0M488.13 128.63a0.88 0.88 0 1 0 1.76 0a0.88 0.88 0 1 0 -1.76 0M488.94 125.46a0.88 0.88 0 1 0 1.76 0a0.88 0.88 0 1 0 -1.76 0M489.73 125.97a0.88 0.88 0 1 0 1.76 0a0.88 0.88 0 1 0 -1.76 0M490.02 129.43a0.88 0.88 0 1 0 1.76 0a0.88 0.88 0 1 0 -1.76 0M490.57 122.3a0.88 0.88 0 1 0 1.76 0a0.88 0.88 0 1 0 -1.76 0M491.82 122.18a0.88 0.88 0 1 0 1.76 0a0.88 0.88 0 1 0 -1.76 0M491.75 124.72a0.88 0.88 0 1 0 1.76 0a0.88 0.88 0 1 0 -1.76 0M492.79 126.35a0.88 0.88 0 1 0 1.76 0a0.88 0.88 0 1 0 -1.76 0M493.21 128.28a0.88 0.88 0 1 0 1.76 0a0.88 0.88 0 1 0 -1.76 0M493.7 119.95a0.88 0.88 0 1 0 1.76 0a0.88 0.88 0 1 0 -1.76 0M494.55 128.67a0.88 0.88 0 1 0 1.76 0a0.88 0.88 0 1 0 -1.76 0M494.98 124.09a0.88 0.88 0 1 0 1.76 0a0.88 0.88 0 1 0 -1.76 0M496.06 121.37a0.88 0.88 0 1 0 1.76 0a0.88 0.88 0 1 0 -1.76 0M496.5 120.51a0.88 0.88 0 1 0 1.76 0a0.88 0.88 0 1 0 -1.76 0M496.55 123.19a0.88 0.88 0 1 0 1.76 0a0.88 0.88 0 1 0 -1.76 0M497.55 130.04a0.88 0.88 0 1 0 1.76 0a0.88 0.88 0 1 0 -1.76 0M497.78 120.66a0.88 0.88 0 1 0 1.76 0a0.88 0.88 0 1 0 -1.76 0M498.96 123.79a0.88 0.88 0 1 0 1.76 0a0.88 0.88 0 1 0 -1.76 0M499.69 126.36a0.88 0.88 0 1 0 1.76 0a0.88 0.88 0 1 0 -1.76 0M499.66 122.26a0.88 0.88 0 1 0 1.76 0a0.88 0.88 0 1 0 -1.76 0M500.56 123.08a0.88 0.88 0 1 0 1.76 0a0.88 0.88 0 1 0 -1.76 0M501.27 125.69a0.88 0.88 0 1 0 1.76 0a0.88 0.88 0 1 0 -1.76 0M501.61 121.91a0.88 0.88 0 1 0 1.76 0a0.88 0.88 0 1 0 -1.76 0M502.21 118.94a0.88 0.88 0 1 0 1.76 0a0.88 0.88 0 1 0 -1.76 0M503.2 127.12a0.88 0.88 0 1 0 1.76 0a0.88 0.88 0 1 0 -1.76 0M503.75 122.27a0.88 0.88 0 1 0 1.76 0a0.88 0.88 0 1 0 -1.76 0M504.38 126.23a0.88 0.88 0 1 0 1.76 0a0.88 0.88 0 1 0 -1.76 0M504.76 119.78a0.88 0.88 0 1 0 1.76 0a0.88 0.88 0 1 0 -1.76 0M505.18 118.98a0.88 0.88 0 1 0 1.76 0a0.88 0.88 0 1 0 -1.76 0M505.68 115.18a0.88 0.88 0 1 0 1.76 0a0.88 0.88 0 1 0 -1.76 0M506.47 118.51a0.88 0.88 0 1 0 1.76 0a0.88 0.88 0 1 0 -1.76 0M507.41 118.93a0.88 0.88 0 1 0 1.76 0a0.88 0.88 0 1 0 -1.76 0M507.98 115.43a0.88 0.88 0 1 0 1.76 0a0.88 0.88 0 1 0 -1.76 0M508.23 111.16a0.88 0.88 0 1 0 1.76 0a0.88 0.88 0 1 0 -1.76 0M509.26 113.37a0.88 0.88 0 1 0 1.76 0a0.88 0.88 0 1 0 -1.76 0M509.65 115.06a0.88 0.88 0 1 0 1.76 0a0.88 0.88 0 1 0 -1.76 0M510.61 115.29a0.88 0.88 0 1 0 1.76 0a0.88 0.88 0 1 0 -1.76 0M510.62 119.95a0.88 0.88 0 1 0 1.76 0a0.88 0.88 0 1 0 -1.76 0M511.26 115.13a0.88 0.88 0 1 0 1.76 0a0.88 0.88 0 1 0 -1.76 0M511.84 113.77a0.88 0.88 0 1 0 1.76 0a0.88 0.88 0 1 0 -1.76 0M512.86 113.28a0.88 0.88 0 1 0 1.76 0a0.88 0.88 0 1 0 -1.76 0M513.13 105.06a0.88 0.88 0 1 0 1.76 0a0.88 0.88 0 1 0 -1.76 0M513.66 114.53a0.88 0.88 0 1 0 1.76 0a0.88 0.88 0 1 0 -1.76 0M514.8 109.72a0.88 0.88 0 1 0 1.76 0a0.88 0.88 0 1 0 -1.76 0M515.21 107.61a0.88 0.88 0 1 0 1.76 0a0.88 0.88 0 1 0 -1.76 0M516.07 106.66a0.88 0.88 0 1 0 1.76 0a0.88 0.88 0 1 0 -1.76 0M516.45 103.46a0.88 0.88 0 1 0 1.76 0a0.88 0.88 0 1 0 -1.76 0M517.18 110.11a0.88 0.88 0 1 0 1.76 0a0.88 0.88 0 1 0 -1.76 0M517.56 103.24a0.88 0.88 0 1 0 1.76 0a0.88 0.88 0 1 0 -1.76 0M517.95 109.37a0.88 0.88 0 1 0 1.76 0a0.88 0.88 0 1 0 -1.76 0M518.37 107.59a0.88 0.88 0 1 0 1.76 0a0.88 0.88 0 1 0 -1.76 0M519.65 110.12a0.88 0.88 0 1 0 1.76 0a0.88 0.88 0 1 0 -1.76 0M519.61 105.23a0.88 0.88 0 1 0 1.76 0a0.88 0.88 0 1 0 -1.76 0M520.87 104.45a0.88 0.88 0 1 0 1.76 0a0.88 0.88 0 1 0 -1.76 0M520.76 101.88a0.88 0.88 0 1 0 1.76 0a0.88 0.88 0 1 0 -1.76 0M521.37 103.44a0.88 0.88 0 1 0 1.76 0a0.88 0.88 0 1 0 -1.76 0M522.5 99.29a0.88 0.88 0 1 0 1.76 0a0.88 0.88 0 1 0 -1.76 0M523.14 95.55a0.88 0.88 0 1 0 1.76 0a0.88 0.88 0 1 0 -1.76 0M523.45 102.93a0.88 0.88 0 1 0 1.76 0a0.88 0.88 0 1 0 -1.76 0M524.41 99.6a0.88 0.88 0 1 0 1.76 0a0.88 0.88 0 1 0 -1.76 0M524.42 99.7a0.88 0.88 0 1 0 1.76 0a0.88 0.88 0 1 0 -1.76 0M525.67 89.37a0.88 0.88 0 1 0 1.76 0a0.88 0.88 0 1 0 -1.76 0M525.66 101.39a0.88 0.88 0 1 0 1.76 0a0.88 0.88 0 1 0 -1.76 0M526.35 89.42a0.88 0.88 0 1 0 1.76 0a0.88 0.88 0 1 0 -1.76 0M527.47 93.05a0.88 0.88 0 1 0 1.76 0a0.88 0.88 0 1 0 -1.76 0M528.04 91.87a0.88 0.88 0 1 0 1.76 0a0.88 0.88 0 1 0 -1.76 0M528.5 86.13a0.88 0.88 0 1 0 1.76 0a0.88 0.88 0 1 0 -1.76 0M528.83 84.58a0.88 0.88 0 1 0 1.76 0a0.88 0.88 0 1 0 -1.76 0M529.81 89.37a0.88 0.88 0 1 0 1.76 0a0.88 0.88 0 1 0 -1.76 0M529.98 88.06a0.88 0.88 0 1 0 1.76 0a0.88 0.88 0 1 0 -1.76 0M530.44 84.79a0.88 0.88 0 1 0 1.76 0a0.88 0.88 0 1 0 -1.76 0M531.23 88.51a0.88 0.88 0 1 0 1.76 0a0.88 0.88 0 1 0 -1.76 0M531.92 83.49a0.88 0.88 0 1 0 1.76 0a0.88 0.88 0 1 0 -1.76 0M532.49 88.93a0.88 0.88 0 1 0 1.76 0a0.88 0.88 0 1 0 -1.76 0M533.52 86.95a0.88 0.88 0 1 0 1.76 0a0.88 0.88 0 1 0 -1.76 0M533.94 81.7a0.88 0.88 0 1 0 1.76 0a0.88 0.88 0 1 0 -1.76 0M534.4 85.44a0.88 0.88 0 1 0 1.76 0a0.88 0.88 0 1 0 -1.76 0M535.27 82.38a0.88 0.88 0 1 0 1.76 0a0.88 0.88 0 1 0 -1.76 0M535.69 78.51a0.88 0.88 0 1 0 1.76 0a0.88 0.88 0 1 0 -1.76 0M536.04 85.53a0.88 0.88 0 1 0 1.76 0a0.88 0.88 0 1 0 -1.76 0M537.13 82.19a0.88 0.88 0 1 0 1.76 0a0.88 0.88 0 1 0 -1.76 0M537.21 80.22a0.88 0.88 0 1 0 1.76 0a0.88 0.88 0 1 0 -1.76 0M538.29 83.71a0.88 0.88 0 1 0 1.76 0a0.88 0.88 0 1 0 -1.76 0M539.07 81.8a0.88 0.88 0 1 0 1.76 0a0.88 0.88 0 1 0 -1.76 0M539.29 86.01a0.88 0.88 0 1 0 1.76 0a0.88 0.88 0 1 0 -1.76 0M540.14 82.78a0.88 0.88 0 1 0 1.76 0a0.88 0.88 0 1 0 -1.76 0M540.38 84.81a0.88 0.88 0 1 0 1.76 0a0.88 0.88 0 1 0 -1.76 0M541.38 87.48a0.88 0.88 0 1 0 1.76 0a0.88 0.88 0 1 0 -1.76 0M541.54 84.17a0.88 0.88 0 1 0 1.76 0a0.88 0.88 0 1 0 -1.76 0M542.09 93.43a0.88 0.88 0 1 0 1.76 0a0.88 0.88 0 1 0 -1.76 0M542.61 85.21a0.88 0.88 0 1 0 1.76 0a0.88 0.88 0 1 0 -1.76 0M543.64 83.68a0.88 0.88 0 1 0 1.76 0a0.88 0.88 0 1 0 -1.76 0M544.29 93.43a0.88 0.88 0 1 0 1.76 0a0.88 0.88 0 1 0 -1.76 0M544.97 92.21a0.88 0.88 0 1 0 1.76 0a0.88 0.88 0 1 0 -1.76 0M545.27 88.28a0.88 0.88 0 1 0 1.76 0a0.88 0.88 0 1 0 -1.76 0M545.87 89.28a0.88 0.88 0 1 0 1.76 0a0.88 0.88 0 1 0 -1.76 0M546.87 93.68a0.88 0.88 0 1 0 1.76 0a0.88 0.88 0 1 0 -1.76 0M546.78 92.8a0.88 0.88 0 1 0 1.76 0a0.88 0.88 0 1 0 -1.76 0M548.09 95.49a0.88 0.88 0 1 0 1.76 0a0.88 0.88 0 1 0 -1.76 0M548.38 98.36a0.88 0.88 0 1 0 1.76 0a0.88 0.88 0 1 0 -1.76 0M548.77 91.99a0.88 0.88 0 1 0 1.76 0a0.88 0.88 0 1 0 -1.76 0M549.55 102.74a0.88 0.88 0 1 0 1.76 0a0.88 0.88 0 1 0 -1.76 0M550.39 93.66a0.88 0.88 0 1 0 1.76 0a0.88 0.88 0 1 0 -1.76 0M550.91 99.03a0.88 0.88 0 1 0 1.76 0a0.88 0.88 0 1 0 -1.76 0M551.13 99.43a0.88 0.88 0 1 0 1.76 0a0.88 0.88 0 1 0 -1.76 0M552.28 104.51a0.88 0.88 0 1 0 1.76 0a0.88 0.88 0 1 0 -1.76 0M552.35 100.23a0.88 0.88 0 1 0 1.76 0a0.88 0.88 0 1 0 -1.76 0M553.17 99.4a0.88 0.88 0 1 0 1.76 0a0.88 0.88 0 1 0 -1.76 0M553.52 105.57a0.88 0.88 0 1 0 1.76 0a0.88 0.88 0 1 0 -1.76 0M554.4 101.51a0.88 0.88 0 1 0 1.76 0a0.88 0.88 0 1 0 -1.76 0M554.79 108.49a0.88 0.88 0 1 0 1.76 0a0.88 0.88 0 1 0 -1.76 0M555.48 105.88a0.88 0.88 0 1 0 1.76 0a0.88 0.88 0 1 0 -1.76 0M555.97 106.44a0.88 0.88 0 1 0 1.76 0a0.88 0.88 0 1 0 -1.76 0M556.57 102.97a0.88 0.88 0 1 0 1.76 0a0.88 0.88 0 1 0 -1.76 0M557.47 109.84a0.88 0.88 0 1 0 1.76 0a0.88 0.88 0 1 0 -1.76 0M557.79 113.44a0.88 0.88 0 1 0 1.76 0a0.88 0.88 0 1 0 -1.76 0M559.05 110.19a0.88 0.88 0 1 0 1.76 0a0.88 0.88 0 1 0 -1.76 0M559.45 113.75a0.88 0.88 0 1 0 1.76 0a0.88 0.88 0 1 0 -1.76 0M559.56 119.28a0.88 0.88 0 1 0 1.76 0a0.88 0.88 0 1 0 -1.76 0M560.39 118.16a0.88 0.88 0 1 0 1.76 0a0.88 0.88 0 1 0 -1.76 0M561.27 119.54a0.88 0.88 0 1 0 1.76 0a0.88 0.88 0 1 0 -1.76 0M561.64 113.67a0.88 0.88 0 1 0 1.76 0a0.88 0.88 0 1 0 -1.76 0M561.98 116.37a0.88 0.88 0 1 0 1.76 0a0.88 0.88 0 1 0 -1.76 0M562.67 119.78a0.88 0.88 0 1 0 1.76 0a0.88 0.88 0 1 0 -1.76 0M563.43 115.18a0.88 0.88 0 1 0 1.76 0a0.88 0.88 0 1 0 -1.76 0M564.35 116.89a0.88 0.88 0 1 0 1.76 0a0.88 0.88 0 1 0 -1.76 0M564.82 115.44a0.88 0.88 0 1 0 1.76 0a0.88 0.88 0 1 0 -1.76 0M565.29 113.59a0.88 0.88 0 1 0 1.76 0a0.88 0.88 0 1 0 -1.76 0M565.85 120.49a0.88 0.88 0 1 0 1.76 0a0.88 0.88 0 1 0 -1.76 0M566.73 121.58a0.88 0.88 0 1 0 1.76 0a0.88 0.88 0 1 0 -1.76 0M567.2 121.41a0.88 0.88 0 1 0 1.76 0a0.88 0.88 0 1 0 -1.76 0M567.94 116.95a0.88 0.88 0 1 0 1.76 0a0.88 0.88 0 1 0 -1.76 0M568.53 117.14a0.88 0.88 0 1 0 1.76 0a0.88 0.88 0 1 0 -1.76 0M569.26 120.72a0.88 0.88 0 1 0 1.76 0a0.88 0.88 0 1 0 -1.76 0M569.84 120.7a0.88 0.88 0 1 0 1.76 0a0.88 0.88 0 1 0 -1.76 0M570.31 115.19a0.88 0.88 0 1 0 1.76 0a0.88 0.88 0 1 0 -1.76 0M570.62 118.29a0.88 0.88 0 1 0 1.76 0a0.88 0.88 0 1 0 -1.76 0M571.48 118.06a0.88 0.88 0 1 0 1.76 0a0.88 0.88 0 1 0 -1.76 0M572.21 123.98a0.88 0.88 0 1 0 1.76 0a0.88 0.88 0 1 0 -1.76 0M572.76 123.44a0.88 0.88 0 1 0 1.76 0a0.88 0.88 0 1 0 -1.76 0M573.13 120.01a0.88 0.88 0 1 0 1.76 0a0.88 0.88 0 1 0 -1.76 0M573.76 120.17a0.88 0.88 0 1 0 1.76 0a0.88 0.88 0 1 0 -1.76 0M574.54 119.8a0.88 0.88 0 1 0 1.76 0a0.88 0.88 0 1 0 -1.76 0M575.35 120.14a0.88 0.88 0 1 0 1.76 0a0.88 0.88 0 1 0 -1.76 0M575.84 124.69a0.88 0.88 0 1 0 1.76 0a0.88 0.88 0 1 0 -1.76 0M576.13 127.34a0.88 0.88 0 1 0 1.76 0a0.88 0.88 0 1 0 -1.76 0M576.46 114.24a0.88 0.88 0 1 0 1.76 0a0.88 0.88 0 1 0 -1.76 0M577.47 123.95a0.88 0.88 0 1 0 1.76 0a0.88 0.88 0 1 0 -1.76 0M578.39 126.64a0.88 0.88 0 1 0 1.76 0a0.88 0.88 0 1 0 -1.76 0M578.66 128.66a0.88 0.88 0 1 0 1.76 0a0.88 0.88 0 1 0 -1.76 0M579.28 127.45a0.88 0.88 0 1 0 1.76 0a0.88 0.88 0 1 0 -1.76 0M580.03 126.72a0.88 0.88 0 1 0 1.76 0a0.88 0.88 0 1 0 -1.76 0M580.72 119.64a0.88 0.88 0 1 0 1.76 0a0.88 0.88 0 1 0 -1.76 0M581.08 124.15a0.88 0.88 0 1 0 1.76 0a0.88 0.88 0 1 0 -1.76 0M581.44 117.89a0.88 0.88 0 1 0 1.76 0a0.88 0.88 0 1 0 -1.76 0M582.42 129.12a0.88 0.88 0 1 0 1.76 0a0.88 0.88 0 1 0 -1.76 0M582.58 120.62a0.88 0.88 0 1 0 1.76 0a0.88 0.88 0 1 0 -1.76 0M583.87 128.64a0.88 0.88 0 1 0 1.76 0a0.88 0.88 0 1 0 -1.76 0M583.91 124.6a0.88 0.88 0 1 0 1.76 0a0.88 0.88 0 1 0 -1.76 0M584.61 126.32a0.88 0.88 0 1 0 1.76 0a0.88 0.88 0 1 0 -1.76 0M585.24 128.99a0.88 0.88 0 1 0 1.76 0a0.88 0.88 0 1 0 -1.76 0M586.06 125.99a0.88 0.88 0 1 0 1.76 0a0.88 0.88 0 1 0 -1.76 0M586.29 124.28a0.88 0.88 0 1 0 1.76 0a0.88 0.88 0 1 0 -1.76 0M587.31 128.03a0.88 0.88 0 1 0 1.76 0a0.88 0.88 0 1 0 -1.76 0M587.5 129.83a0.88 0.88 0 1 0 1.76 0a0.88 0.88 0 1 0 -1.76 0M588.57 124.71a0.88 0.88 0 1 0 1.76 0a0.88 0.88 0 1 0 -1.76 0M588.64 124.54a0.88 0.88 0 1 0 1.76 0a0.88 0.88 0 1 0 -1.76 0M589.76 127.85a0.88 0.88 0 1 0 1.76 0a0.88 0.88 0 1 0 -1.76 0M590.12 128.24a0.88 0.88 0 1 0 1.76 0a0.88 0.88 0 1 0 -1.76 0M590.8 122.28a0.88 0.88 0 1 0 1.76 0a0.88 0.88 0 1 0 -1.76 0M591.24 128.01a0.88 0.88 0 1 0 1.76 0a0.88 0.88 0 1 0 -1.76 0M592.07 135.24a0.88 0.88 0 1 0 1.76 0a0.88 0.88 0 1 0 -1.76 0M592.54 129.47a0.88 0.88 0 1 0 1.76 0a0.88 0.88 0 1 0 -1.76 0M593.01 121.51a0.88 0.88 0 1 0 1.76 0a0.88 0.88 0 1 0 -1.76 0M594.04 125.49a0.88 0.88 0 1 0 1.76 0a0.88 0.88 0 1 0 -1.76 0M594.26 126.69a0.88 0.88 0 1 0 1.76 0a0.88 0.88 0 1 0 -1.76 0M594.89 128.83a0.88 0.88 0 1 0 1.76 0a0.88 0.88 0 1 0 -1.76 0M595.39 125.27a0.88 0.88 0 1 0 1.76 0a0.88 0.88 0 1 0 -1.76 0M595.8 125.56a0.88 0.88 0 1 0 1.76 0a0.88 0.88 0 1 0 -1.76 0M596.98 128.48a0.88 0.88 0 1 0 1.76 0a0.88 0.88 0 1 0 -1.76 0M597.25 127.13a0.88 0.88 0 1 0 1.76 0a0.88 0.88 0 1 0 -1.76 0M598 130.11a0.88 0.88 0 1 0 1.76 0a0.88 0.88 0 1 0 -1.76 0M598.75 123.52a0.88 0.88 0 1 0 1.76 0a0.88 0.88 0 1 0 -1.76 0M599.11 129.87a0.88 0.88 0 1 0 1.76 0a0.88 0.88 0 1 0 -1.76 0M599.47 133.74a0.88 0.88 0 1 0 1.76 0a0.88 0.88 0 1 0 -1.76 0M600.7 125.16a0.88 0.88 0 1 0 1.76 0a0.88 0.88 0 1 0 -1.76 0M600.75 132.83a0.88 0.88 0 1 0 1.76 0a0.88 0.88 0 1 0 -1.76 0M601.91 124.87a0.88 0.88 0 1 0 1.76 0a0.88 0.88 0 1 0 -1.76 0M601.86 127.77a0.88 0.88 0 1 0 1.76 0a0.88 0.88 0 1 0 -1.76 0M603.22 127.79a0.88 0.88 0 1 0 1.76 0a0.88 0.88 0 1 0 -1.76 0M603.14 126.88a0.88 0.88 0 1 0 1.76 0a0.88 0.88 0 1 0 -1.76 0M603.78 126.26a0.88 0.88 0 1 0 1.76 0a0.88 0.88 0 1 0 -1.76 0M604.55 128.98a0.88 0.88 0 1 0 1.76 0a0.88 0.88 0 1 0 -1.76 0M605 134.13a0.88 0.88 0 1 0 1.76 0a0.88 0.88 0 1 0 -1.76 0M605.62 133.32a0.88 0.88 0 1 0 1.76 0a0.88 0.88 0 1 0 -1.76 0M606.8 125.24a0.88 0.88 0 1 0 1.76 0a0.88 0.88 0 1 0 -1.76 0M607.23 124.13a0.88 0.88 0 1 0 1.76 0a0.88 0.88 0 1 0 -1.76 0M608.01 125.03a0.88 0.88 0 1 0 1.76 0a0.88 0.88 0 1 0 -1.76 0M608.06 130.2a0.88 0.88 0 1 0 1.76 0a0.88 0.88 0 1 0 -1.76 0M609.06 122.63a0.88 0.88 0 1 0 1.76 0a0.88 0.88 0 1 0 -1.76 0M609.47 123.47a0.88 0.88 0 1 0 1.76 0a0.88 0.88 0 1 0 -1.76 0M610.43 127.8a0.88 0.88 0 1 0 1.76 0a0.88 0.88 0 1 0 -1.76 0" fill="#111"/>
<path d="M430 130.36 L430.3 130.35 L430.6 130.34 L430.9 130.34 L431.21 130.33 L431.51 130.32 L431.81 130.31 L432.11 130.3 L432.41 130.3 L432.71 130.29 L433.02 130.28 L433.32 130.27 L433.62 130.26 L433.92 130.26 L434.22 130.25 L434.53 130.24 L434.83 130.23 L435.13 130.22 L435.43 130.21 L435.73 130.2 L436.03 130.19 L436.34 130.19 L436.64 130.18 L436.94 130.17 L437.24 130.16 L437.54 130.15 L437.84 130.14 L438.14 130.13 L438.45 130.12 L438.75 130.11 L439.05 130.1 L439.35 130.09 L439.65 130.08 L439.95 130.07 L440.26 130.06 L440.56 130.05 L440.86 130.04 L441.16 130.03 L441.46 130.02 L441.77 130.01 L442.07 130 L442.37 129.99 L442.67 129.98 L442.97 129.97 L443.27 129.96 L443.58 129.95 L443.88 129.93 L444.18 129.92 L444.48 129.91 L444.78 129.9 L445.08 129.89 L445.38 129.88 L445.69 129.86 L445.99 129.85 L446.29 129.84 L446.59 129.83 L446.89 129.82 L447.19 129.8 L447.5 129.79 L447.8 129.78 L448.1 129.77 L448.4 129.75 L448.7 129.74 L449.01 129.73 L449.31 129.71 L449.61 129.7 L449.91 129.69 L450.21 129.67 L450.51 129.66 L450.82 129.65 L451.12 129.63 L451.42 129.62 L451.72 129.6 L452.02 129.59 L452.32 129.57 L452.62 129.56 L452.93 129.54 L453.23 129.53 L453.53 129.51 L453.83 129.5 L454.13 129.48 L454.43 129.47 L454.74 129.45 L455.04 129.44 L455.34 129.42 L455.64 129.4 L455.94 129.39 L456.24 129.37 L456.55 129.35 L456.85 129.34 L457.15 129.32 L457.45 129.3 L457.75 129.28 L458.06 129.27 L458.36 129.25 L458.66 129.23 L458.96 129.21 L459.26 129.19 L459.56 129.17 L459.87 129.16 L460.17 129.14 L460.47 129.12 L460.77 129.1 L461.07 129.08 L461.37 129.06 L461.67 129.04 L461.98 129.02 L462.28 129 L462.58 128.98 L462.88 128.95 L463.18 128.93 L463.48 128.91 L463.79 128.89 L464.09 128.87 L464.39 128.84 L464.69 128.82 L464.99 128.8 L465.3 128.78 L465.6 128.75 L465.9 128.73 L466.2 128.7 L466.5 128.68 L466.8 128.66 L467.11 128.63 L467.41 128.61 L467.71 128.58 L468.01 128.55 L468.31 128.53 L468.61 128.5 L468.91 128.48 L469.22 128.45 L469.52 128.42 L469.82 128.39 L470.12 128.37 L470.42 128.34 L470.72 128.31 L471.03 128.28 L471.33 128.25 L471.63 128.22 L471.93 128.19 L472.23 128.16 L472.54 128.13 L472.84 128.1 L473.14 128.07 L473.44 128.03 L473.74 128 L474.04 127.97 L474.35 127.94 L474.65 127.9 L474.95 127.87 L475.25 127.83 L475.55 127.8 L475.85 127.76 L476.15 127.73 L476.46 127.69 L476.76 127.65 L477.06 127.61 L477.36 127.58 L477.66 127.54 L477.96 127.5 L478.27 127.46 L478.57 127.42 L478.87 127.38 L479.17 127.34 L479.47 127.3 L479.78 127.25 L480.08 127.21 L480.38 127.17 L480.68 127.12 L480.98 127.08 L481.28 127.03 L481.59 126.99 L481.89 126.94 L482.19 126.89 L482.49 126.84 L482.79 126.8 L483.09 126.75 L483.39 126.7 L483.7 126.65 L484 126.59 L484.3 126.54 L484.6 126.49 L484.9 126.43 L485.2 126.38 L485.51 126.32 L485.81 126.27 L486.11 126.21 L486.41 126.15 L486.71 126.09 L487.02 126.03 L487.32 125.97 L487.62 125.91 L487.92 125.85 L488.22 125.79 L488.52 125.72 L488.83 125.66 L489.13 125.59 L489.43 125.52 L489.73 125.45 L490.03 125.38 L490.33 125.31 L490.63 125.24 L490.94 125.17 L491.24 125.09 L491.54 125.02 L491.84 124.94 L492.14 124.86 L492.44 124.78 L492.75 124.7 L493.05 124.62 L493.35 124.54 L493.65 124.45 L493.95 124.36 L494.26 124.28 L494.56 124.19 L494.86 124.1 L495.16 124 L495.46 123.91 L495.76 123.82 L496.07 123.72 L496.37 123.62 L496.67 123.52 L496.97 123.42 L497.27 123.31 L497.57 123.21 L497.88 123.1 L498.18 122.99 L498.48 122.88 L498.78 122.77 L499.08 122.65 L499.38 122.53 L499.68 122.41 L499.99 122.29 L500.29 122.17 L500.59 122.04 L500.89 121.91 L501.19 121.78 L501.49 121.65 L501.8 121.51 L502.1 121.37 L502.4 121.23 L502.7 121.09 L503 120.94 L503.31 120.79 L503.61 120.64 L503.91 120.49 L504.21 120.33 L504.51 120.17 L504.81 120 L505.12 119.84 L505.42 119.67 L505.72 119.49 L506.02 119.32 L506.32 119.14 L506.62 118.95 L506.92 118.77 L507.23 118.57 L507.53 118.38 L507.83 118.18 L508.13 117.98 L508.43 117.77 L508.73 117.56 L509.04 117.35 L509.34 117.13 L509.64 116.91 L509.94 116.68 L510.24 116.45 L510.55 116.21 L510.85 115.97 L511.15 115.72 L511.45 115.47 L511.75 115.21 L512.05 114.95 L512.36 114.69 L512.66 114.42 L512.96 114.14 L513.26 113.86 L513.56 113.57 L513.86 113.27 L514.16 112.97 L514.47 112.67 L514.77 112.36 L515.07 112.04 L515.37 111.72 L515.67 111.39 L515.97 111.05 L516.28 110.71 L516.58 110.36 L516.88 110 L517.18 109.64 L517.48 109.27 L517.79 108.9 L518.09 108.52 L518.39 108.13 L518.69 107.73 L518.99 107.33 L519.29 106.92 L519.6 106.5 L519.9 106.07 L520.2 105.64 L520.5 105.2 L520.8 104.76 L521.1 104.31 L521.4 103.85 L521.71 103.38 L522.01 102.91 L522.31 102.43 L522.61 101.95 L522.91 101.45 L523.21 100.96 L523.52 100.45 L523.82 99.94 L524.12 99.43 L524.42 98.91 L524.72 98.39 L525.03 97.86 L525.33 97.32 L525.63 96.79 L525.93 96.25 L526.23 95.71 L526.53 95.16 L526.84 94.62 L527.14 94.07 L527.44 93.52 L527.74 92.98 L528.04 92.43 L528.34 91.89 L528.64 91.35 L528.95 90.81 L529.25 90.28 L529.55 89.75 L529.85 89.23 L530.15 88.72 L530.45 88.22 L530.76 87.72 L531.06 87.24 L531.36 86.76 L531.66 86.3 L531.96 85.85 L532.26 85.42 L532.57 85 L532.87 84.6 L533.17 84.22 L533.47 83.86 L533.77 83.51 L534.08 83.19 L534.38 82.89 L534.68 82.62 L534.98 82.36 L535.28 82.13 L535.58 81.93 L535.88 81.75 L536.19 81.6 L536.49 81.47 L536.79 81.38 L537.09 81.31 L537.39 81.26 L537.69 81.25 L538 81.26 L538.3 81.31 L538.6 81.38 L538.9 81.47 L539.2 81.6 L539.51 81.75 L539.81 81.93 L540.11 82.13 L540.41 82.36 L540.71 82.62 L541.01 82.89 L541.32 83.19 L541.62 83.51 L541.92 83.86 L542.22 84.22 L542.52 84.6 L542.82 85 L543.12 85.42 L543.43 85.85 L543.73 86.3 L544.03 86.76 L544.33 87.24 L544.63 87.72 L544.93 88.22 L545.24 88.72 L545.54 89.23 L545.84 89.75 L546.14 90.28 L546.44 90.81 L546.74 91.35 L547.05 91.89 L547.35 92.43 L547.65 92.98 L547.95 93.52 L548.25 94.07 L548.56 94.62 L548.86 95.16 L549.16 95.71 L549.46 96.25 L549.76 96.79 L550.06 97.32 L550.37 97.86 L550.67 98.39 L550.97 98.91 L551.27 99.43 L551.57 99.94 L551.87 100.45 L552.17 100.96 L552.48 101.45 L552.78 101.95 L553.08 102.43 L553.38 102.91 L553.68 103.38 L553.99 103.85 L554.29 104.31 L554.59 104.76 L554.89 105.2 L555.19 105.64 L555.49 106.07 L555.8 106.5 L556.1 106.92 L556.4 107.33 L556.7 107.73 L557 108.13 L557.3 108.52 L557.61 108.9 L557.91 109.27 L558.21 109.64 L558.51 110 L558.81 110.36 L559.11 110.71 L559.41 111.05 L559.72 111.39 L560.02 111.72 L560.32 112.04 L560.62 112.36 L560.92 112.67 L561.22 112.97 L561.53 113.27 L561.83 113.57 L562.13 113.86 L562.43 114.14 L562.73 114.42 L563.04 114.69 L563.34 114.95 L563.64 115.21 L563.94 115.47 L564.24 115.72 L564.54 115.97 L564.85 116.21 L565.15 116.45 L565.45 116.68 L565.75 116.91 L566.05 117.13 L566.35 117.35 L566.65 117.56 L566.96 117.77 L567.26 117.98 L567.56 118.18 L567.86 118.38 L568.16 118.57 L568.46 118.77 L568.77 118.95 L569.07 119.14 L569.37 119.32 L569.67 119.49 L569.97 119.67 L570.28 119.84 L570.58 120 L570.88 120.17 L571.18 120.33 L571.48 120.49 L571.78 120.64 L572.09 120.79 L572.39 120.94 L572.69 121.09 L572.99 121.23 L573.29 121.37 L573.59 121.51 L573.89 121.65 L574.2 121.78 L574.5 121.91 L574.8 122.04 L575.1 122.17 L575.4 122.29 L575.7 122.41 L576.01 122.53 L576.31 122.65 L576.61 122.77 L576.91 122.88 L577.21 122.99 L577.51 123.1 L577.82 123.21 L578.12 123.31 L578.42 123.42 L578.72 123.52 L579.02 123.62 L579.33 123.72 L579.63 123.82 L579.93 123.91 L580.23 124 L580.53 124.1 L580.83 124.19 L581.13 124.28 L581.44 124.36 L581.74 124.45 L582.04 124.54 L582.34 124.62 L582.64 124.7 L582.94 124.78 L583.25 124.86 L583.55 124.94 L583.85 125.02 L584.15 125.09 L584.45 125.17 L584.76 125.24 L585.06 125.31 L585.36 125.38 L585.66 125.45 L585.96 125.52 L586.26 125.59 L586.57 125.66 L586.87 125.72 L587.17 125.79 L587.47 125.85 L587.77 125.91 L588.07 125.97 L588.38 126.03 L588.68 126.09 L588.98 126.15 L589.28 126.21 L589.58 126.27 L589.88 126.32 L590.18 126.38 L590.49 126.43 L590.79 126.49 L591.09 126.54 L591.39 126.59 L591.69 126.65 L591.99 126.7 L592.3 126.75 L592.6 126.8 L592.9 126.84 L593.2 126.89 L593.5 126.94 L593.81 126.99 L594.11 127.03 L594.41 127.08 L594.71 127.12 L595.01 127.17 L595.31 127.21 L595.62 127.25 L595.92 127.3 L596.22 127.34 L596.52 127.38 L596.82 127.42 L597.12 127.46 L597.42 127.5 L597.73 127.54 L598.03 127.58 L598.33 127.61 L598.63 127.65 L598.93 127.69 L599.24 127.73 L599.54 127.76 L599.84 127.8 L600.14 127.83 L600.44 127.87 L600.74 127.9 L601.05 127.94 L601.35 127.97 L601.65 128 L601.95 128.03 L602.25 128.07 L602.55 128.1 L602.86 128.13 L603.16 128.16 L603.46 128.19 L603.76 128.22 L604.06 128.25 L604.36 128.28 L604.66 128.31 L604.97 128.34 L605.27 128.37 L605.57 128.39 L605.87 128.42 L606.17 128.45 L606.47 128.48 L606.78 128.5 L607.08 128.53 L607.38 128.55 L607.68 128.58 L607.98 128.61 L608.29 128.63 L608.59 128.66 L608.89 128.68 L609.19 128.7 L609.49 128.73 L609.79 128.75 L610.1 128.78 L610.4 128.8 L610.7 128.82 L611 128.84" fill="none" stroke="#e02424" stroke-width="1.6" stroke-linejoin="round" />
<line x1="541.2" y1="35.35" x2="565.1" y2="35.35" stroke="#d42a30" stroke-width="1.4" />
<line x1="541.2" y1="47.85" x2="565.1" y2="47.85" stroke="#9c9c9c" stroke-width="1.6" />
<line x1="541.2" y1="60.35" x2="565.1" y2="60.35" stroke="#141414" stroke-width="1.6" />
<line x1="541.2" y1="72.85" x2="565.1" y2="72.85" stroke="#f4c070" stroke-width="1.7" />
<text x="568.2" y="38.9" font-size="11.15" text-anchor="start" fill="#1f1f1f"  stroke="#1f1f1f" stroke-width="0.27">Displacement</text>
<text x="568.2" y="51.45" font-size="11.15" text-anchor="start" fill="#1f1f1f"  stroke="#1f1f1f" stroke-width="0.27">Calculated shot noise</text>
<text x="568.2" y="64" font-size="11.15" text-anchor="start" fill="#1f1f1f"  stroke="#1f1f1f" stroke-width="0.27">Detector dark noise</text>
<text x="568.2" y="76.55" font-size="11.15" text-anchor="start" fill="#1f1f1f"  stroke="#1f1f1f" stroke-width="0.27">Combined noise</text>
<text x="564.8" y="104.3" font-size="11.15" text-anchor="start" fill="#1f1f1f"  stroke="#1f1f1f" stroke-width="0.27">FWHM = (365 ± 15) kHz</text>
<line x1="569.2" y1="109.9" x2="599.6" y2="109.9" stroke="#9a9a9a" stroke-width="1.1" />
<path d="M564.4 109.9 L569.6 107.3 L569.6 112.5 Z" fill="#111"/>
<line x1="423.3" y1="18.4" x2="423.3" y2="92.3" stroke="#8e8e8e" stroke-width="1.2" />
<line x1="423.3" y1="92.3" x2="510.2" y2="92.3" stroke="#8e8e8e" stroke-width="1.2" />
<line x1="422.2" y1="83.37" x2="423.3" y2="83.37" stroke="#555" stroke-width="0.7" />
<line x1="422.2" y1="69.71" x2="423.3" y2="69.71" stroke="#555" stroke-width="0.7" />
<line x1="422.2" y1="56.05" x2="423.3" y2="56.05" stroke="#555" stroke-width="0.7" />
<line x1="422.2" y1="42.39" x2="423.3" y2="42.39" stroke="#555" stroke-width="0.7" />
<line x1="422.2" y1="28.73" x2="423.3" y2="28.73" stroke="#555" stroke-width="0.7" />
<line x1="421.7" y1="90.2" x2="423.3" y2="90.2" stroke="#555" stroke-width="0.8" />
<text x="420.6" y="92.7" font-size="7.2" text-anchor="end" fill="#333"  stroke="#333" stroke-width="0.17">13.9</text>
<line x1="421.7" y1="76.54" x2="423.3" y2="76.54" stroke="#555" stroke-width="0.8" />
<text x="420.6" y="79.04" font-size="7.2" text-anchor="end" fill="#333"  stroke="#333" stroke-width="0.17">14.0</text>
<line x1="421.7" y1="62.88" x2="423.3" y2="62.88" stroke="#555" stroke-width="0.8" />
<text x="420.6" y="65.38" font-size="7.2" text-anchor="end" fill="#333"  stroke="#333" stroke-width="0.17">14.1</text>
<line x1="421.7" y1="49.22" x2="423.3" y2="49.22" stroke="#555" stroke-width="0.8" />
<text x="420.6" y="51.72" font-size="7.2" text-anchor="end" fill="#333"  stroke="#333" stroke-width="0.17">14.2</text>
<line x1="421.7" y1="35.56" x2="423.3" y2="35.56" stroke="#555" stroke-width="0.8" />
<text x="420.6" y="38.06" font-size="7.2" text-anchor="end" fill="#333"  stroke="#333" stroke-width="0.17">14.3</text>
<line x1="421.7" y1="21.9" x2="423.3" y2="21.9" stroke="#555" stroke-width="0.8" />
<text x="420.6" y="24.4" font-size="7.2" text-anchor="end" fill="#333"  stroke="#333" stroke-width="0.17">14.4</text>
<line x1="427.9" y1="92.3" x2="427.9" y2="94.1" stroke="#555" stroke-width="0.8" />
<text x="427.9" y="102.2" font-size="7.2" text-anchor="middle" fill="#333"  stroke="#333" stroke-width="0.17">0.75</text>
<line x1="439.95" y1="92.3" x2="439.95" y2="93.6" stroke="#555" stroke-width="0.8" />
<line x1="452" y1="92.3" x2="452" y2="94.1" stroke="#555" stroke-width="0.8" />
<text x="452" y="102.2" font-size="7.2" text-anchor="middle" fill="#333"  stroke="#333" stroke-width="0.17">1.00</text>
<line x1="464.05" y1="92.3" x2="464.05" y2="93.6" stroke="#555" stroke-width="0.8" />
<line x1="476.1" y1="92.3" x2="476.1" y2="94.1" stroke="#555" stroke-width="0.8" />
<text x="476.1" y="102.2" font-size="7.2" text-anchor="middle" fill="#333"  stroke="#333" stroke-width="0.17">1.25</text>
<line x1="488.15" y1="92.3" x2="488.15" y2="93.6" stroke="#555" stroke-width="0.8" />
<line x1="500.2" y1="92.3" x2="500.2" y2="94.1" stroke="#555" stroke-width="0.8" />
<text x="500.2" y="102.2" font-size="7.2" text-anchor="middle" fill="#333"  stroke="#333" stroke-width="0.17">1.50</text>
<text x="463.7" y="112.5" font-size="7.25" text-anchor="middle" fill="#333"  stroke="#333" stroke-width="0.17">Power (mW)</text>
<text x="398.5" y="58.6" font-size="7.3" text-anchor="middle" fill="#333" transform="rotate(-90 398.5 58.6)"  stroke="#333" stroke-width="0.18">Frequency (MHz)</text>
<line x1="423.2" y1="27.5" x2="510.2" y2="85.7" stroke="#e04848" stroke-width="1.0" />
<circle cx="427.9" cy="30.1" r="2.0" fill="#111"/>
<circle cx="451.9" cy="46.8" r="2.0" fill="#111"/>
<circle cx="476" cy="64.3" r="2.0" fill="#111"/>
<circle cx="500.2" cy="78.3" r="2.0" fill="#111"/>
<text x="441" y="36.2" font-size="7.2" text-anchor="start" fill="#333"  stroke="#333" stroke-width="0.17">−485 kHz·mW<tspan font-size="5.2" dy="-2.5">−1</tspan></text>
<text x="0.5" y="313.2" font-size="18" text-anchor="start" font-weight="bold" fill="#000" >c</text>
<line x1="51.5" y1="327.8" x2="51.5" y2="544.8" stroke="#222" stroke-width="1.3" />
<line x1="50.9" y1="544.2" x2="320.2" y2="544.2" stroke="#222" stroke-width="1.3" />
<line x1="51.5" y1="544.3" x2="55.7" y2="544.3" stroke="#222" stroke-width="1.3" />
<text x="47.6" y="548.8" font-size="12.8" text-anchor="end" fill="#1f1f1f"  stroke="#1f1f1f" stroke-width="0.30">0.70</text>
<line x1="51.5" y1="501.1" x2="55.7" y2="501.1" stroke="#222" stroke-width="1.3" />
<text x="47.6" y="505.6" font-size="12.8" text-anchor="end" fill="#1f1f1f"  stroke="#1f1f1f" stroke-width="0.30">0.75</text>
<line x1="51.5" y1="457.9" x2="55.7" y2="457.9" stroke="#222" stroke-width="1.3" />
<text x="47.6" y="462.4" font-size="12.8" text-anchor="end" fill="#1f1f1f"  stroke="#1f1f1f" stroke-width="0.30">0.80</text>
<line x1="51.5" y1="414.7" x2="55.7" y2="414.7" stroke="#222" stroke-width="1.3" />
<text x="47.6" y="419.2" font-size="12.8" text-anchor="end" fill="#1f1f1f"  stroke="#1f1f1f" stroke-width="0.30">0.85</text>
<line x1="51.5" y1="371.5" x2="55.7" y2="371.5" stroke="#222" stroke-width="1.3" />
<text x="47.6" y="376" font-size="12.8" text-anchor="end" fill="#1f1f1f"  stroke="#1f1f1f" stroke-width="0.30">0.90</text>
<line x1="51.5" y1="328.3" x2="55.7" y2="328.3" stroke="#222" stroke-width="1.3" />
<text x="47.6" y="332.8" font-size="12.8" text-anchor="end" fill="#1f1f1f"  stroke="#1f1f1f" stroke-width="0.30">0.95</text>
<line x1="51.8" y1="544.2" x2="51.8" y2="540.4" stroke="#222" stroke-width="1.3" />
<text x="49.8" y="559.7" font-size="12.8" text-anchor="middle" fill="#1f1f1f"  stroke="#1f1f1f" stroke-width="0.30">700</text>
<line x1="96.43" y1="544.2" x2="96.43" y2="540.4" stroke="#222" stroke-width="1.3" />
<text x="94.77" y="559.7" font-size="12.8" text-anchor="middle" fill="#1f1f1f"  stroke="#1f1f1f" stroke-width="0.30">725</text>
<line x1="141.06" y1="544.2" x2="141.06" y2="540.4" stroke="#222" stroke-width="1.3" />
<text x="139.73" y="559.7" font-size="12.8" text-anchor="middle" fill="#1f1f1f"  stroke="#1f1f1f" stroke-width="0.30">750</text>
<line x1="185.7" y1="544.2" x2="185.7" y2="540.4" stroke="#222" stroke-width="1.3" />
<text x="184.7" y="559.7" font-size="12.8" text-anchor="middle" fill="#1f1f1f"  stroke="#1f1f1f" stroke-width="0.30">775</text>
<line x1="230.33" y1="544.2" x2="230.33" y2="540.4" stroke="#222" stroke-width="1.3" />
<text x="229.66" y="559.7" font-size="12.8" text-anchor="middle" fill="#1f1f1f"  stroke="#1f1f1f" stroke-width="0.30">800</text>
<line x1="274.96" y1="544.2" x2="274.96" y2="540.4" stroke="#222" stroke-width="1.3" />
<text x="274.63" y="559.7" font-size="12.8" text-anchor="middle" fill="#1f1f1f"  stroke="#1f1f1f" stroke-width="0.30">825</text>
<line x1="319.6" y1="544.2" x2="319.6" y2="540.4" stroke="#222" stroke-width="1.3" />
<text x="319.6" y="559.7" font-size="12.8" text-anchor="middle" fill="#1f1f1f"  stroke="#1f1f1f" stroke-width="0.30">850</text>
<text x="184.7" y="576.7" font-size="13" text-anchor="middle" fill="#1f1f1f"  stroke="#1f1f1f" stroke-width="0.30">Wavelength (nm)</text>
<text x="13.5" y="436.2" font-size="13" text-anchor="middle" fill="#1f1f1f" transform="rotate(-90 13.5 436.2)"  stroke="#1f1f1f" stroke-width="0.30">Normalized reflectivity</text>
<path d="M57.8 328.3 L60.9 332.3 L62.6 342.8 L64 355 L65.8 360.3 L67.5 369 L70.1 369.9 L72.8 363.8 L74.5 367.3 L76.3 362.9 L78.9 370.8 L82.4 366.4 L84.1 372.5 L86.8 381.3 L89.4 367.3 L92.9 359.4 L95.5 357.7 L98.2 365.5 L101.7 357.7 L104.3 361.2 L106 358.5 L108.7 366.4 L112.2 364.7 L113.9 367.3 L114.8 370.7 L116.2 378.3 L117.6 390.7 L119.7 395.6 L122.4 396.9 L125.2 399 L126.6 398.3 L128 401.8 L129.3 409.4 L130.7 404.5 L132.8 390.7 L135.5 390.7 L136.9 391.4 L138.3 399.7 L140.4 407.3 L142.5 403.1 L143.8 400.4 L145.2 405.9 L146.6 415.6 L148.7 425.2 L150.7 434.9 L152.8 434.2 L154.9 433.5 L157 432.8 L157.7 436.3 L159 450 L163.4 471 L166.9 490 L168.6 498.6 L169.5 515.9 L171.2 518.4 L173.8 521 L176.4 524.5 L179 527.1 L180.7 525.3 L182.4 528.8 L184.1 525.3 L185.9 525.3 L187.6 527.9 L189.3 530.5 L191 527.9 L192.8 521 L194.5 519.3 L197.1 512.4 L201.4 498.6 L204.8 488.3 L208.3 476.2 L210 467.6 L211.7 464.1 L212.6 467.6 L215.2 460.7 L218.6 450.3 L221.2 441.7 L226.6 419 L229.5 406.7 L231.4 402.9 L233.3 397.2 L235.2 395.3 L237.1 391.5 L239 385.8 L240.9 387.7 L243.7 388.7 L246.5 382 L248.4 376.4 L251.3 368.8 L254.1 359.3 L257 351.3 L259.8 354.5 L261.7 354.5 L264.5 359.3 L266.4 356.4 L268.3 359.3 L270.8 365 L272.1 360.2 L274 361.2 L275.9 355.5 L276.9 347.9 L278.8 344.1 L280.7 338.4 L283.5 337.5 L285.4 341.3 L287.3 338.4 L289.2 335.6 L291.1 342.2 L293 349.8 L294.9 345.1 L296.8 339.4 L298.7 338.4 L300.6 341.3 L302.5 345.1 L304.4 347 L306.3 346 L308.2 349.8 L310 358.3 L311.9 360.2 L313.8 358.3 L315.7 360.8 L317.6 358.3 L319.5 360.2" fill="none" stroke="#1a1a1a" stroke-width="0.9" stroke-linejoin="round" />
<path d="M51.8 342.96 L52.3 343.04 L52.8 343.11 L53.3 343.19 L53.8 343.27 L54.3 343.35 L54.8 343.43 L55.3 343.51 L55.8 343.59 L56.3 343.67 L56.8 343.76 L57.3 343.84 L57.8 343.93 L58.3 344.02 L58.8 344.11 L59.3 344.2 L59.8 344.29 L60.3 344.38 L60.8 344.47 L61.3 344.57 L61.8 344.66 L62.3 344.76 L62.8 344.86 L63.3 344.95 L63.8 345.06 L64.3 345.16 L64.8 345.26 L65.3 345.36 L65.8 345.47 L66.3 345.58 L66.8 345.68 L67.3 345.79 L67.8 345.9 L68.3 346.02 L68.8 346.13 L69.3 346.25 L69.8 346.36 L70.3 346.48 L70.8 346.6 L71.3 346.72 L71.8 346.85 L72.3 346.97 L72.8 347.1 L73.3 347.23 L73.8 347.36 L74.3 347.49 L74.8 347.62 L75.3 347.76 L75.8 347.9 L76.3 348.03 L76.8 348.18 L77.3 348.32 L77.8 348.46 L78.3 348.61 L78.8 348.76 L79.3 348.91 L79.8 349.06 L80.3 349.22 L80.8 349.38 L81.3 349.54 L81.8 349.7 L82.3 349.86 L82.8 350.03 L83.3 350.2 L83.8 350.37 L84.3 350.54 L84.8 350.72 L85.3 350.9 L85.8 351.08 L86.3 351.26 L86.8 351.45 L87.3 351.64 L87.8 351.83 L88.3 352.03 L88.8 352.23 L89.3 352.43 L89.8 352.63 L90.3 352.84 L90.8 353.05 L91.3 353.26 L91.8 353.48 L92.3 353.7 L92.8 353.92 L93.3 354.15 L93.8 354.37 L94.3 354.61 L94.8 354.84 L95.3 355.09 L95.8 355.33 L96.3 355.58 L96.8 355.83 L97.3 356.08 L97.8 356.34 L98.3 356.61 L98.8 356.88 L99.3 357.15 L99.8 357.42 L100.3 357.7 L100.8 357.99 L101.3 358.28 L101.8 358.57 L102.3 358.87 L102.8 359.17 L103.3 359.48 L103.8 359.8 L104.3 360.12 L104.8 360.44 L105.3 360.77 L105.8 361.1 L106.3 361.44 L106.8 361.79 L107.3 362.14 L107.8 362.49 L108.3 362.86 L108.8 363.22 L109.3 363.6 L109.8 363.98 L110.3 364.37 L110.8 364.76 L111.3 365.16 L111.8 365.57 L112.3 365.98 L112.8 366.4 L113.3 366.83 L113.8 367.26 L114.3 367.7 L114.8 368.15 L115.3 368.61 L115.8 369.08 L116.3 369.55 L116.8 370.03 L117.3 370.52 L117.8 371.02 L118.3 371.52 L118.8 372.04 L119.3 372.56 L119.8 373.09 L120.3 373.64 L120.8 374.19 L121.3 374.75 L121.8 375.32 L122.3 375.9 L122.8 376.49 L123.3 377.09 L123.8 377.7 L124.3 378.32 L124.8 378.96 L125.3 379.6 L125.8 380.26 L126.3 380.92 L126.8 381.6 L127.3 382.29 L127.8 382.99 L128.3 383.71 L128.8 384.43 L129.3 385.17 L129.8 385.92 L130.3 386.69 L130.8 387.47 L131.3 388.26 L131.8 389.07 L132.3 389.89 L132.8 390.72 L133.3 391.57 L133.8 392.44 L134.3 393.31 L134.8 394.21 L135.3 395.12 L135.8 396.04 L136.3 396.98 L136.8 397.94 L137.3 398.91 L137.8 399.9 L138.3 400.91 L138.8 401.93 L139.3 402.97 L139.8 404.03 L140.3 405.11 L140.8 406.2 L141.3 407.31 L141.8 408.44 L142.3 409.59 L142.8 410.75 L143.3 411.94 L143.8 413.14 L144.3 414.36 L144.8 415.61 L145.3 416.87 L145.8 418.15 L146.3 419.45 L146.8 420.77 L147.3 422.1 L147.8 423.46 L148.3 424.84 L148.8 426.24 L149.3 427.65 L149.8 429.09 L150.3 430.55 L150.8 432.02 L151.3 433.52 L151.8 435.03 L152.3 436.57 L152.8 438.12 L153.3 439.69 L153.8 441.28 L154.3 442.89 L154.8 444.51 L155.3 446.15 L155.8 447.81 L156.3 449.49 L156.8 451.18 L157.3 452.88 L157.8 454.61 L158.3 456.34 L158.8 458.09 L159.3 459.85 L159.8 461.62 L160.3 463.41 L160.8 465.2 L161.3 467.01 L161.8 468.82 L162.3 470.63 L162.8 472.46 L163.3 474.28 L163.8 476.12 L164.3 477.95 L164.8 479.78 L165.3 481.61 L165.8 483.44 L166.3 485.27 L166.8 487.09 L167.3 488.9 L167.8 490.7 L168.3 492.49 L168.8 494.27 L169.3 496.03 L169.8 497.78 L170.3 499.51 L170.8 501.21 L171.3 502.89 L171.8 504.55 L172.3 506.18 L172.8 507.78 L173.3 509.35 L173.8 510.88 L174.3 512.38 L174.8 513.84 L175.3 515.26 L175.8 516.64 L176.3 517.97 L176.8 519.25 L177.3 520.49 L177.8 521.67 L178.3 522.8 L178.8 523.88 L179.3 524.89 L179.8 525.85 L180.3 526.75 L180.8 527.59 L181.3 528.36 L181.8 529.07 L182.3 529.71 L182.8 530.28 L183.3 530.78 L183.8 531.22 L184.3 531.58 L184.8 531.87 L185.3 532.1 L185.8 532.24 L186.3 532.32 L186.8 532.32 L187.3 532.25 L187.8 532.11 L188.3 531.9 L188.8 531.61 L189.3 531.25 L189.8 530.82 L190.3 530.32 L190.8 529.76 L191.3 529.12 L191.8 528.42 L192.3 527.65 L192.8 526.82 L193.3 525.93 L193.8 524.97 L194.3 523.96 L194.8 522.89 L195.3 521.76 L195.8 520.58 L196.3 519.35 L196.8 518.07 L197.3 516.74 L197.8 515.37 L198.3 513.96 L198.8 512.5 L199.3 511.01 L199.8 509.47 L200.3 507.91 L200.8 506.31 L201.3 504.68 L201.8 503.03 L202.3 501.35 L202.8 499.64 L203.3 497.92 L203.8 496.17 L204.3 494.41 L204.8 492.63 L205.3 490.84 L205.8 489.04 L206.3 487.23 L206.8 485.41 L207.3 483.59 L207.8 481.76 L208.3 479.93 L208.8 478.09 L209.3 476.26 L209.8 474.43 L210.3 472.6 L210.8 470.78 L211.3 468.96 L211.8 467.15 L212.3 465.35 L212.8 463.55 L213.3 461.77 L213.8 459.99 L214.3 458.23 L214.8 456.48 L215.3 454.74 L215.8 453.02 L216.3 451.31 L216.8 449.62 L217.3 447.95 L217.8 446.28 L218.3 444.64 L218.8 443.02 L219.3 441.41 L219.8 439.82 L220.3 438.24 L220.8 436.69 L221.3 435.16 L221.8 433.64 L222.3 432.14 L222.8 430.67 L223.3 429.21 L223.8 427.77 L224.3 426.35 L224.8 424.95 L225.3 423.57 L225.8 422.21 L226.3 420.87 L226.8 419.55 L227.3 418.25 L227.8 416.97 L228.3 415.71 L228.8 414.46 L229.3 413.24 L229.8 412.03 L230.3 410.85 L230.8 409.68 L231.3 408.53 L231.8 407.4 L232.3 406.29 L232.8 405.19 L233.3 404.12 L233.8 403.06 L234.3 402.01 L234.8 400.99 L235.3 399.98 L235.8 398.99 L236.3 398.02 L236.8 397.06 L237.3 396.12 L237.8 395.19 L238.3 394.28 L238.8 393.39 L239.3 392.51 L239.8 391.64 L240.3 390.79 L240.8 389.95 L241.3 389.13 L241.8 388.33 L242.3 387.53 L242.8 386.75 L243.3 385.99 L243.8 385.23 L244.3 384.49 L244.8 383.76 L245.3 383.05 L245.8 382.35 L246.3 381.65 L246.8 380.98 L247.3 380.31 L247.8 379.65 L248.3 379.01 L248.8 378.37 L249.3 377.75 L249.8 377.14 L250.3 376.54 L250.8 375.95 L251.3 375.37 L251.8 374.79 L252.3 374.23 L252.8 373.68 L253.3 373.14 L253.8 372.6 L254.3 372.08 L254.8 371.56 L255.3 371.06 L255.8 370.56 L256.3 370.07 L256.8 369.59 L257.3 369.11 L257.8 368.65 L258.3 368.19 L258.8 367.74 L259.3 367.3 L259.8 366.86 L260.3 366.43 L260.8 366.01 L261.3 365.6 L261.8 365.19 L262.3 364.79 L262.8 364.4 L263.3 364.01 L263.8 363.63 L264.3 363.25 L264.8 362.89 L265.3 362.52 L265.8 362.17 L266.3 361.81 L266.8 361.47 L267.3 361.13 L267.8 360.79 L268.3 360.46 L268.8 360.14 L269.3 359.82 L269.8 359.51 L270.3 359.2 L270.8 358.9 L271.3 358.6 L271.8 358.3 L272.3 358.01 L272.8 357.73 L273.3 357.45 L273.8 357.17 L274.3 356.9 L274.8 356.63 L275.3 356.36 L275.8 356.11 L276.3 355.85 L276.8 355.6 L277.3 355.35 L277.8 355.1 L278.3 354.86 L278.8 354.63 L279.3 354.39 L279.8 354.16 L280.3 353.94 L280.8 353.71 L281.3 353.49 L281.8 353.28 L282.3 353.06 L282.8 352.85 L283.3 352.65 L283.8 352.44 L284.3 352.24 L284.8 352.04 L285.3 351.85 L285.8 351.66 L286.3 351.47 L286.8 351.28 L287.3 351.09 L287.8 350.91 L288.3 350.73 L288.8 350.56 L289.3 350.38 L289.8 350.21 L290.3 350.04 L290.8 349.88 L291.3 349.71 L291.8 349.55 L292.3 349.39 L292.8 349.23 L293.3 349.08 L293.8 348.92 L294.3 348.77 L294.8 348.62 L295.3 348.48 L295.8 348.33 L296.3 348.19 L296.8 348.05 L297.3 347.91 L297.8 347.77 L298.3 347.63 L298.8 347.5 L299.3 347.37 L299.8 347.24 L300.3 347.11 L300.8 346.98 L301.3 346.86 L301.8 346.73 L302.3 346.61 L302.8 346.49 L303.3 346.37 L303.8 346.26 L304.3 346.14 L304.8 346.03 L305.3 345.91 L305.8 345.8 L306.3 345.69 L306.8 345.58 L307.3 345.48 L307.8 345.37 L308.3 345.27 L308.8 345.16 L309.3 345.06 L309.8 344.96 L310.3 344.86 L310.8 344.77 L311.3 344.67 L311.8 344.57 L312.3 344.48 L312.8 344.39 L313.3 344.29 L313.8 344.2 L314.3 344.11 L314.8 344.03 L315.3 343.94 L315.8 343.85 L316.3 343.77 L316.8 343.68 L317.3 343.6 L317.8 343.52 L318.3 343.43 L318.8 343.35 L319.3 343.27" fill="none" stroke="#e8484b" stroke-width="1.6" stroke-linejoin="round" />
<line x1="148.5" y1="316.9" x2="148.5" y2="381.4" stroke="#444" stroke-width="0.9" />
<line x1="148.5" y1="381.4" x2="229.5" y2="381.4" stroke="#444" stroke-width="0.9" />
<line x1="148.5" y1="374.9" x2="149.7" y2="374.9" stroke="#444" stroke-width="0.7" />
<line x1="148.5" y1="368.4" x2="149.7" y2="368.4" stroke="#444" stroke-width="0.7" />
<line x1="148.5" y1="361.9" x2="149.7" y2="361.9" stroke="#444" stroke-width="0.7" />
<line x1="148.5" y1="355.4" x2="149.7" y2="355.4" stroke="#444" stroke-width="0.7" />
<line x1="148.5" y1="348.9" x2="149.7" y2="348.9" stroke="#444" stroke-width="0.7" />
<line x1="148.5" y1="342.4" x2="149.7" y2="342.4" stroke="#444" stroke-width="0.7" />
<line x1="148.5" y1="335.9" x2="149.7" y2="335.9" stroke="#444" stroke-width="0.7" />
<line x1="148.5" y1="329.4" x2="149.7" y2="329.4" stroke="#444" stroke-width="0.7" />
<line x1="148.5" y1="322.9" x2="149.7" y2="322.9" stroke="#444" stroke-width="0.7" />
<line x1="148.5" y1="381.4" x2="148.5" y2="379.2" stroke="#444" stroke-width="0.9" />
<text x="148.5" y="392.7" font-size="10" text-anchor="middle" fill="#1f1f1f"  stroke="#1f1f1f" stroke-width="0.24">13</text>
<line x1="168.75" y1="381.4" x2="168.75" y2="379.2" stroke="#444" stroke-width="0.9" />
<text x="168.75" y="392.7" font-size="10" text-anchor="middle" fill="#1f1f1f"  stroke="#1f1f1f" stroke-width="0.24">14</text>
<line x1="189" y1="381.4" x2="189" y2="379.2" stroke="#444" stroke-width="0.9" />
<text x="189" y="392.7" font-size="10" text-anchor="middle" fill="#1f1f1f"  stroke="#1f1f1f" stroke-width="0.24">15</text>
<line x1="209.25" y1="381.4" x2="209.25" y2="379.2" stroke="#444" stroke-width="0.9" />
<text x="209.25" y="392.7" font-size="10" text-anchor="middle" fill="#1f1f1f"  stroke="#1f1f1f" stroke-width="0.24">16</text>
<line x1="229.5" y1="381.4" x2="229.5" y2="379.2" stroke="#444" stroke-width="0.9" />
<text x="229.5" y="392.7" font-size="10" text-anchor="middle" fill="#1f1f1f"  stroke="#1f1f1f" stroke-width="0.24">17</text>
<text x="190.7" y="402.3" font-size="9.2" text-anchor="middle" fill="#1f1f1f"  stroke="#1f1f1f" stroke-width="0.22">Frequency (MHz)</text>
<text x="186" y="327.4" font-size="9" text-anchor="middle" fill="#1f1f1f"  stroke="#1f1f1f" stroke-width="0.22">775 nm</text>
<text x="144.5" y="349.8" font-size="9.5" text-anchor="middle" fill="#1f1f1f" transform="rotate(-90 144.5 349.8)"  stroke="#1f1f1f" stroke-width="0.23">Signal</text>
<path d="M149.3 362.26 L149.45 370.29 L149.61 365.12 L149.76 361.67 L149.91 359.92 L150.07 362.29 L150.22 360.38 L150.37 359.48 L150.53 362.55 L150.68 367.9 L150.83 362.5 L150.99 362.06 L151.14 371.54 L151.29 369.92 L151.45 361.92 L151.6 370.63 L151.75 364.72 L151.91 359.87 L152.06 362.82 L152.21 360.04 L152.37 356.14 L152.52 360.26 L152.67 358.99 L152.83 364.92 L152.98 367.68 L153.13 361.68 L153.29 361.26 L153.44 365.27 L153.59 362.72 L153.74 361.49 L153.9 361.4 L154.05 362.18 L154.2 353.39 L154.36 362.63 L154.51 361.24 L154.66 361.05 L154.82 363.93 L154.97 363.57 L155.12 370.63 L155.28 361.45 L155.43 365.06 L155.58 355.66 L155.74 359.74 L155.89 359.93 L156.04 361.44 L156.2 360.91 L156.35 365.97 L156.5 366.89 L156.66 353.63 L156.81 364.07 L156.96 361.39 L157.12 363.26 L157.27 367.78 L157.42 362.27 L157.58 361.07 L157.73 362.05 L157.88 359.85 L158.04 352.57 L158.19 359.78 L158.34 365.44 L158.5 365.31 L158.65 356.84 L158.8 364.31 L158.96 362.4 L159.11 356.03 L159.26 356.95 L159.42 358.84 L159.57 355.88 L159.72 357.44 L159.88 355.56 L160.03 355.18 L160.18 357.17 L160.34 358.95 L160.49 370.53 L160.64 367.2 L160.8 354.35 L160.95 370.61 L161.1 364.46 L161.25 354.06 L161.41 362.16 L161.56 363.73 L161.71 364.01 L161.87 359.64 L162.02 364.89 L162.17 358.24 L162.33 365.17 L162.48 360.24 L162.63 367.69 L162.79 358.53 L162.94 368.84 L163.09 367.87 L163.25 359.58 L163.4 367.3 L163.55 368.36 L163.71 369.23 L163.86 371.49 L164.01 362.51 L164.17 354.16 L164.32 360.73 L164.47 358.88 L164.63 362.55 L164.78 356.12 L164.93 371.36 L165.09 355.77 L165.24 358.82 L165.39 357.75 L165.55 363.2 L165.7 364.86 L165.85 367.57 L166.01 358.95 L166.16 352.89 L166.31 365 L166.47 359.72 L166.62 370.49 L166.77 365.4 L166.93 363.43 L167.08 362.62 L167.23 357.86 L167.39 362.9 L167.54 354.71 L167.69 366.41 L167.85 365.18 L168 352.53 L168.15 361.87 L168.31 354.71 L168.46 354.07 L168.61 364.76 L168.77 372.11 L168.92 365.16 L169.07 364.19 L169.23 368.41 L169.38 360.68 L169.53 364.41 L169.68 370.5 L169.84 353.31 L169.99 367.78 L170.14 352.8 L170.3 359.43 L170.45 357.41 L170.6 369.36 L170.76 359.2 L170.91 359.67 L171.06 365.17 L171.22 365.65 L171.37 359.97 L171.52 366.26 L171.68 371.94 L171.83 372.29 L171.98 368.18 L172.14 363.91 L172.29 362.69 L172.44 362.68 L172.6 364.28 L172.75 362.3 L172.9 360.24 L173.06 360.6 L173.21 363.27 L173.36 367.12 L173.52 363.24 L173.67 362.38 L173.82 364.23 L173.98 364.97 L174.13 366.05 L174.28 366.61 L174.44 360.41 L174.59 352.65 L174.74 362.31 L174.9 365.15 L175.05 360.65 L175.2 363.58 L175.36 365.67 L175.51 366.55 L175.66 358.61 L175.82 362.24 L175.97 361.73 L176.12 368.59 L176.28 365.81 L176.43 354.89 L176.58 364.7 L176.74 366.85 L176.89 361.77 L177.04 356.45 L177.19 354.59 L177.35 367.86 L177.5 364.85 L177.65 368.67 L177.81 364.74 L177.96 365.27 L178.11 368.17 L178.27 359.34 L178.42 352.82 L178.57 370.37 L178.73 358.45 L178.88 371.13 L179.03 371.07 L179.19 358.58 L179.34 360.05 L179.49 367.62 L179.65 369.28 L179.8 365.24 L179.95 358.09 L180.11 362.13 L180.26 356.38 L180.41 364.68 L180.57 364.14 L180.72 352.87 L180.87 362.01 L181.03 369.34 L181.18 362.78 L181.33 366.39 L181.49 357.27 L181.64 370.43 L181.79 363.91 L181.95 363.67 L182.1 362.87 L182.25 365.06 L182.41 355.52 L182.56 370.97 L182.71 367.8 L182.87 371.81 L183.02 369.19 L183.17 364.66 L183.33 353.17 L183.48 366.5 L183.63 365.28 L183.79 352.71 L183.94 356.09 L184.09 358 L184.25 364.89 L184.4 365.98 L184.55 364.12 L184.71 355.4 L184.86 366.46 L185.01 357.33 L185.17 362.44 L185.32 361.25 L185.47 359.91 L185.62 360.52 L185.78 360.61 L185.93 365.32 L186.08 361.6 L186.24 366.02 L186.39 365.82 L186.54 362.03 L186.7 366.51 L186.85 354.94 L187 366.58 L187.16 360.11 L187.31 362.32 L187.46 359.54 L187.62 363.13 L187.77 366 L187.92 364.88 L188.08 360.57 L188.23 365.68 L188.38 363.13 L188.54 366.05 L188.69 361.81 L188.84 365.54 L189 361.56 L189.15 364.31 L189.3 356.71 L189.46 369.7 L189.61 371.67 L189.76 360.76 L189.92 351.75 L190.07 361.08 L190.22 357.87 L190.38 354.42 L190.53 365.17 L190.68 356.64 L190.84 361.84 L190.99 356.26 L191.14 363.48 L191.3 367.58 L191.45 355.01 L191.6 367.72 L191.76 357.02 L191.91 365.61 L192.06 359.63 L192.22 365.21 L192.37 361.55 L192.52 365.95 L192.68 359.73 L192.83 368.2 L192.98 360.34 L193.13 363.29 L193.29 370.41 L193.44 369.12 L193.59 367.28 L193.75 354.77 L193.9 362.95 L194.05 369 L194.21 362.22 L194.36 359.69 L194.51 359.86 L194.67 358.86 L194.82 369.77 L194.97 354.87 L195.13 370 L195.28 364.21 L195.43 363.82 L195.59 364.42 L195.74 363.34 L195.89 354.83 L196.05 362.46 L196.2 360.92 L196.35 365.27 L196.51 363.91 L196.66 361.58 L196.81 365.67 L196.97 367.5 L197.12 361.59 L197.27 364.5 L197.43 369.85 L197.58 355.73 L197.73 361.81 L197.89 361.7 L198.04 360.58 L198.19 369.49 L198.35 354.16 L198.5 367.67 L198.65 359.83 L198.81 361.57 L198.96 367.21 L199.11 362.41 L199.27 354.91 L199.42 363.91 L199.57 362.76 L199.73 358.76 L199.88 363.27 L200.03 360.61 L200.19 355.73 L200.34 358.16 L200.49 368.82 L200.65 367.06 L200.8 359.12 L200.95 370.41 L201.11 363.6 L201.26 360.51 L201.41 355.93 L201.56 360.63 L201.72 360.88 L201.87 367.11 L202.02 365.05 L202.18 361.67 L202.33 363.05 L202.48 365.55 L202.64 363.21 L202.79 359.91 L202.94 366.23 L203.1 371.35 L203.25 365.84 L203.4 365.44 L203.56 364.19 L203.71 363.24 L203.86 362.57 L204.02 364.84 L204.17 367.69 L204.32 363.66 L204.48 362.07 L204.63 360.97 L204.78 365.21 L204.94 365.3 L205.09 364.31 L205.24 365.33 L205.4 364.88 L205.55 361.86 L205.7 363.06 L205.86 370.48 L206.01 366.41 L206.16 358.92 L206.32 361.71 L206.47 354.11 L206.62 371.18 L206.78 368.14 L206.93 355.55 L207.08 353.62 L207.24 363.53 L207.39 363.55 L207.54 361.65 L207.7 362.63 L207.85 360.15 L208 368.13 L208.16 361.76 L208.31 366.08 L208.46 367.8 L208.62 368.38 L208.77 357.69 L208.92 359.72 L209.07 368.74 L209.23 355.35 L209.38 360.93 L209.53 353.94 L209.69 354.46 L209.84 360.85 L209.99 365.78 L210.15 367.4 L210.3 366.83 L210.45 360.83 L210.61 354.36 L210.76 361.43 L210.91 364.11 L211.07 361.81 L211.22 368.47 L211.37 358.22 L211.53 367.87 L211.68 368.55 L211.83 361.62 L211.99 367.25 L212.14 365.36 L212.29 363.89 L212.45 369.71 L212.6 359.93 L212.75 359.9 L212.91 356.13 L213.06 361.41 L213.21 360.31 L213.37 363.24 L213.52 358.39 L213.67 364.6 L213.83 358.4 L213.98 363.01 L214.13 359.91 L214.29 364.14 L214.44 368.19 L214.59 365.39 L214.75 356.9 L214.9 368.17 L215.05 363.11 L215.21 366.28 L215.36 366.7 L215.51 361.26 L215.67 361.19 L215.82 361.58 L215.97 360.63 L216.13 360.47 L216.28 363.86 L216.43 368.53 L216.59 369.02 L216.74 369.74 L216.89 369.73 L217.05 361.37 L217.2 372.46 L217.35 366.96 L217.5 372.4 L217.66 365.73 L217.81 365.13 L217.96 362.05 L218.12 362.38 L218.27 356.65 L218.42 356.44 L218.58 362.55 L218.73 371.7 L218.88 364.47 L219.04 358 L219.19 357.19 L219.34 363.96 L219.5 355.88 L219.65 365.19 L219.8 368.66 L219.96 359.22 L220.11 361.41 L220.26 367 L220.42 363.69 L220.57 360.35 L220.72 354.99 L220.88 360.39 L221.03 362.51 L221.18 367.31 L221.34 365.15 L221.49 364.03 L221.64 369.9 L221.8 362.21 L221.95 367.35 L222.1 363.49 L222.26 363.37 L222.41 371.95 L222.56 354.17 L222.72 363.59 L222.87 364.04 L223.02 365.09 L223.18 361.13 L223.33 370.08 L223.48 364.44 L223.64 361.03 L223.79 361.02 L223.94 368.22 L224.1 365.71 L224.25 359.97 L224.4 358.6 L224.56 361.42 L224.71 360.87 L224.86 357.84 L225.01 357.29 L225.17 361.77 L225.32 360.61 L225.47 365.69 L225.63 361.31 L225.78 362.32 L225.93 365.08 L226.09 362.5 L226.24 359.95 L226.39 364.55 L226.55 367.45 L226.7 358.16 L226.85 363.67 L227.01 366.42 L227.16 359.99 L227.31 363.1 L227.47 360.66 L227.62 367.12 L227.77 355.06 L227.93 358.52 L228.08 362.12 L228.23 364.8 L228.39 362.03 L228.54 371.38 L228.69 357.26 L228.85 355.2 L229 355.37" fill="none" stroke="#7a7a7a" stroke-width="0.7" stroke-linejoin="round" />
<line x1="71.4" y1="454.9" x2="71.4" y2="519.8" stroke="#444" stroke-width="0.9" />
<line x1="71.4" y1="519.8" x2="152.6" y2="519.8" stroke="#444" stroke-width="0.9" />
<line x1="71.4" y1="513.3" x2="72.6" y2="513.3" stroke="#444" stroke-width="0.7" />
<line x1="71.4" y1="506.8" x2="72.6" y2="506.8" stroke="#444" stroke-width="0.7" />
<line x1="71.4" y1="500.3" x2="72.6" y2="500.3" stroke="#444" stroke-width="0.7" />
<line x1="71.4" y1="493.8" x2="72.6" y2="493.8" stroke="#444" stroke-width="0.7" />
<line x1="71.4" y1="487.3" x2="72.6" y2="487.3" stroke="#444" stroke-width="0.7" />
<line x1="71.4" y1="480.8" x2="72.6" y2="480.8" stroke="#444" stroke-width="0.7" />
<line x1="71.4" y1="474.3" x2="72.6" y2="474.3" stroke="#444" stroke-width="0.7" />
<line x1="71.4" y1="467.8" x2="72.6" y2="467.8" stroke="#444" stroke-width="0.7" />
<line x1="71.4" y1="461.3" x2="72.6" y2="461.3" stroke="#444" stroke-width="0.7" />
<line x1="71.4" y1="519.8" x2="71.4" y2="517.6" stroke="#444" stroke-width="0.9" />
<text x="71.4" y="529.5" font-size="10" text-anchor="middle" fill="#1f1f1f"  stroke="#1f1f1f" stroke-width="0.24">13</text>
<line x1="91.7" y1="519.8" x2="91.7" y2="517.6" stroke="#444" stroke-width="0.9" />
<text x="91.7" y="529.5" font-size="10" text-anchor="middle" fill="#1f1f1f"  stroke="#1f1f1f" stroke-width="0.24">14</text>
<line x1="112" y1="519.8" x2="112" y2="517.6" stroke="#444" stroke-width="0.9" />
<text x="112" y="529.5" font-size="10" text-anchor="middle" fill="#1f1f1f"  stroke="#1f1f1f" stroke-width="0.24">15</text>
<line x1="132.3" y1="519.8" x2="132.3" y2="517.6" stroke="#444" stroke-width="0.9" />
<text x="132.3" y="529.5" font-size="10" text-anchor="middle" fill="#1f1f1f"  stroke="#1f1f1f" stroke-width="0.24">16</text>
<line x1="152.6" y1="519.8" x2="152.6" y2="517.6" stroke="#444" stroke-width="0.9" />
<text x="152.6" y="529.5" font-size="10" text-anchor="middle" fill="#1f1f1f"  stroke="#1f1f1f" stroke-width="0.24">17</text>
<text x="114.1" y="539.1" font-size="9.2" text-anchor="middle" fill="#1f1f1f"  stroke="#1f1f1f" stroke-width="0.22">Frequency (MHz)</text>
<text x="111.5" y="463.3" font-size="9" text-anchor="middle" fill="#1f1f1f"  stroke="#1f1f1f" stroke-width="0.22">765 nm</text>
<text x="67.1" y="488.7" font-size="11" text-anchor="middle" fill="#1f1f1f" transform="rotate(-90 67.1 488.7)"  stroke="#1f1f1f" stroke-width="0.26">Signal</text>
<path d="M71.9 503.08 L72.05 503.24 L72.21 507.6 L72.36 505.54 L72.52 506.91 L72.67 502.99 L72.83 503.86 L72.98 509.41 L73.14 509.74 L73.29 518.32 L73.45 498.45 L73.6 507.48 L73.76 508.27 L73.91 496.93 L74.06 514.3 L74.22 503.91 L74.37 505.7 L74.53 504.43 L74.68 503.04 L74.84 505.72 L74.99 508.79 L75.15 506.79 L75.3 509.61 L75.46 496.07 L75.61 503.52 L75.77 510.06 L75.92 501.36 L76.07 507.39 L76.23 512.59 L76.38 504.56 L76.54 506.23 L76.69 507.67 L76.85 510.91 L77 501.06 L77.16 507.71 L77.31 504.89 L77.47 506.78 L77.62 503.97 L77.78 504.46 L77.93 505.95 L78.08 507.18 L78.24 503.75 L78.39 505.18 L78.55 511.06 L78.7 495.07 L78.86 503.96 L79.01 505.33 L79.17 508.08 L79.32 509.96 L79.48 505.24 L79.63 506.41 L79.79 503.74 L79.94 504.27 L80.09 517.47 L80.25 505.83 L80.4 501.51 L80.56 506.48 L80.71 507.55 L80.87 507.92 L81.02 504.61 L81.18 507.96 L81.33 505.46 L81.49 505.91 L81.64 503.43 L81.8 505.06 L81.95 496.31 L82.1 498.12 L82.26 500.36 L82.41 507.88 L82.57 510.64 L82.72 504.44 L82.88 509.02 L83.03 504.79 L83.19 506.64 L83.34 514.4 L83.5 507.08 L83.65 505.65 L83.81 505.33 L83.96 505.81 L84.11 506.02 L84.27 505.89 L84.42 507.69 L84.58 509.03 L84.73 504.18 L84.89 504.75 L85.04 510.14 L85.2 505.66 L85.35 518.28 L85.51 518.14 L85.66 504.63 L85.82 511.14 L85.97 516.77 L86.12 504.81 L86.28 514.12 L86.43 499.17 L86.59 510.32 L86.74 508.96 L86.9 504.01 L87.05 504.99 L87.21 504.68 L87.36 510.05 L87.52 506.95 L87.67 502.46 L87.83 509.21 L87.98 506.23 L88.13 507.79 L88.29 513.75 L88.44 506.14 L88.6 508.58 L88.75 509.34 L88.91 509.7 L89.06 505.3 L89.22 507.76 L89.37 510.59 L89.53 506.2 L89.68 501.43 L89.84 507.14 L89.99 503.71 L90.14 502.16 L90.3 508.31 L90.45 508.54 L90.61 505.21 L90.76 510.08 L90.92 517.48 L91.07 507.18 L91.23 502.88 L91.38 510.28 L91.54 506.98 L91.69 514.67 L91.85 506.14 L92 504.87 L92.15 507.47 L92.31 510.82 L92.46 506.1 L92.62 507.32 L92.77 500.68 L92.93 506.78 L93.08 506.71 L93.24 505.2 L93.39 509.58 L93.55 510.57 L93.7 507.95 L93.86 510.57 L94.01 507.78 L94.16 510.19 L94.32 510.93 L94.47 509.66 L94.63 510.93 L94.78 504.37 L94.94 506.56 L95.09 504.62 L95.25 508.09 L95.4 504.87 L95.56 507.91 L95.71 507.61 L95.87 496.82 L96.02 509.82 L96.17 506.98 L96.33 506.89 L96.48 507.48 L96.64 505.76 L96.79 505.24 L96.95 507.25 L97.1 506.39 L97.26 518.56 L97.41 503.78 L97.57 494.55 L97.72 506.75 L97.88 507.52 L98.03 513.55 L98.18 497.45 L98.34 506.37 L98.49 506.87 L98.65 503.69 L98.8 505.77 L98.96 509.28 L99.11 503.89 L99.27 500.97 L99.42 509.74 L99.58 505.47 L99.73 507.31 L99.89 517.61 L100.04 511.08 L100.19 506.35 L100.35 494.19 L100.5 517.55 L100.66 505.3 L100.81 504.3 L100.97 504.97 L101.12 504.44 L101.28 503.34 L101.43 509.67 L101.59 506.06 L101.74 507.29 L101.9 504.18 L102.05 494.09 L102.2 502.81 L102.36 509.16 L102.51 502.61 L102.67 498.24 L102.82 516.5 L102.98 502.62 L103.13 506.7 L103.29 508.06 L103.44 503.72 L103.6 503.1 L103.75 508.83 L103.91 507.18 L104.06 507.52 L104.21 507.46 L104.37 517.27 L104.52 505.26 L104.68 509.69 L104.83 505.16 L104.99 506.54 L105.14 507.34 L105.3 496.96 L105.45 508.2 L105.61 503.85 L105.76 505.51 L105.92 502.69 L106.07 503.65 L106.22 503.27 L106.38 502.91 L106.53 502.72 L106.69 500.94 L106.84 500.24 L107 498.74 L107.15 498.97 L107.31 496.16 L107.46 494.87 L107.62 492.11 L107.77 491.57 L107.93 489.43 L108.08 486.87 L108.23 485.65 L108.39 480.37 L108.54 483.53 L108.7 477.99 L108.85 477.73 L109.01 478.63 L109.16 472.41 L109.32 472.02 L109.47 473.17 L109.63 469.19 L109.78 467.86 L109.94 466.92 L110.09 470.83 L110.24 468 L110.4 468.07 L110.55 467.06 L110.71 467.21 L110.86 468.24 L111.02 474.16 L111.17 475.23 L111.33 478.07 L111.48 478.74 L111.64 480.4 L111.79 485.92 L111.95 487.53 L112.1 487.93 L112.25 488.46 L112.41 493.59 L112.56 492.95 L112.72 494.12 L112.87 496.15 L113.03 496.79 L113.18 497.69 L113.34 501.27 L113.49 502.54 L113.65 501.87 L113.8 501.91 L113.96 500.85 L114.11 503.91 L114.26 505.15 L114.42 504.72 L114.57 501.17 L114.73 508.02 L114.88 504.81 L115.04 518.09 L115.19 509.37 L115.35 510.01 L115.5 510.16 L115.66 506.75 L115.81 507.16 L115.97 510.26 L116.12 505.14 L116.27 506.24 L116.43 503.89 L116.58 506.3 L116.74 497.38 L116.89 506.34 L117.05 511.8 L117.2 510.06 L117.36 515 L117.51 507.89 L117.67 505.31 L117.82 509.39 L117.98 504.52 L118.13 510.71 L118.28 508.97 L118.44 514.11 L118.59 506.3 L118.75 506.05 L118.9 505.1 L119.06 505.39 L119.21 513.89 L119.37 508.71 L119.52 509.32 L119.68 505.51 L119.83 506.61 L119.99 503.79 L120.14 514.92 L120.29 503.12 L120.45 504.57 L120.6 507.06 L120.76 502.54 L120.91 505.63 L121.07 497.86 L121.22 509.61 L121.38 508.65 L121.53 507.27 L121.69 506.53 L121.84 505.1 L122 509.38 L122.15 494.98 L122.3 507.9 L122.46 509.42 L122.61 497.4 L122.77 507.21 L122.92 497.76 L123.08 506.8 L123.23 506.73 L123.39 505.99 L123.54 499.34 L123.7 508.36 L123.85 508.59 L124.01 508.42 L124.16 504.31 L124.31 506.5 L124.47 506.96 L124.62 507.8 L124.78 501.55 L124.93 496.93 L125.09 506.54 L125.24 505.95 L125.4 504.99 L125.55 506.55 L125.71 507.2 L125.86 505.28 L126.02 498.58 L126.17 511.47 L126.32 506.39 L126.48 505.77 L126.63 507.29 L126.79 506.53 L126.94 507.47 L127.1 504.58 L127.25 506.91 L127.41 506.43 L127.56 505.74 L127.72 507.17 L127.87 506.01 L128.03 505.36 L128.18 507.14 L128.33 508.2 L128.49 510.85 L128.64 506.53 L128.8 507.56 L128.95 501.44 L129.11 507.66 L129.26 509.79 L129.42 509.79 L129.57 508.69 L129.73 510.1 L129.88 505.83 L130.04 509.27 L130.19 501.63 L130.34 508.74 L130.5 502.85 L130.65 508.51 L130.81 502.86 L130.96 509.47 L131.12 505.88 L131.27 517.98 L131.43 506.8 L131.58 509.79 L131.74 501.62 L131.89 504.06 L132.05 518.26 L132.2 510.79 L132.35 504.99 L132.51 517.41 L132.66 504.77 L132.82 507.51 L132.97 511.29 L133.13 505.11 L133.28 506.19 L133.44 507.88 L133.59 518.59 L133.75 506.33 L133.9 507.59 L134.06 503.3 L134.21 507.86 L134.36 506.31 L134.52 505.96 L134.67 505.79 L134.83 512.58 L134.98 509.14 L135.14 504.5 L135.29 500.61 L135.45 506.61 L135.6 508.28 L135.76 510.8 L135.91 508.09 L136.07 506.6 L136.22 507.26 L136.37 504.9 L136.53 513.98 L136.68 506.55 L136.84 509.09 L136.99 506.39 L137.15 508.6 L137.3 504.4 L137.46 501.39 L137.61 516.31 L137.77 511.47 L137.92 507.15 L138.08 516.01 L138.23 509.6 L138.38 504.15 L138.54 516.24 L138.69 514.04 L138.85 505.94 L139 506.26 L139.16 505.37 L139.31 505.09 L139.47 504.19 L139.62 505.91 L139.78 507.82 L139.93 503.21 L140.09 505.68 L140.24 503.04 L140.39 502.6 L140.55 504.56 L140.7 508.44 L140.86 508.83 L141.01 506.49 L141.17 505.14 L141.32 519.41 L141.48 504.25 L141.63 509.44 L141.79 503.3 L141.94 507.13 L142.1 505.65 L142.25 504.53 L142.4 505.45 L142.56 506.8 L142.71 504.14 L142.87 506.58 L143.02 508.47 L143.18 507.13 L143.33 508.03 L143.49 515.46 L143.64 504.58 L143.8 505.79 L143.95 509.89 L144.11 510.94 L144.26 507.75 L144.41 508.35 L144.57 505.91 L144.72 495.2 L144.88 502.88 L145.03 514.18 L145.19 508.87 L145.34 506.54 L145.5 505.4 L145.65 507.73 L145.81 502.15 L145.96 504.11 L146.12 510.71 L146.27 506.38 L146.42 504.13 L146.58 507.44 L146.73 510.14 L146.89 494.56 L147.04 504.45 L147.2 505.45 L147.35 508.97 L147.51 503.1 L147.66 504.7 L147.82 503.06 L147.97 509.78 L148.13 504.25 L148.28 507.52 L148.43 505.72 L148.59 505.14 L148.74 517.05 L148.9 505.35 L149.05 504.62 L149.21 509 L149.36 495.55 L149.52 514.52 L149.67 506.83 L149.83 504 L149.98 503.88 L150.14 513.82 L150.29 504.87 L150.44 505.45 L150.6 508.42 L150.75 507.04 L150.91 505.02 L151.06 506.02 L151.22 506.46 L151.37 515.86 L151.53 517.81 L151.68 504.27 L151.84 508.29 L151.99 511.94 L152.15 500.75 L152.3 503.24" fill="none" stroke="#2a2ae6" stroke-width="0.7" stroke-linejoin="round" />
<path d="M71.9 506.6 L72.05 506.6 L72.21 506.6 L72.36 506.6 L72.52 506.6 L72.67 506.6 L72.83 506.6 L72.98 506.6 L73.14 506.6 L73.29 506.6 L73.45 506.6 L73.6 506.6 L73.76 506.6 L73.91 506.6 L74.06 506.6 L74.22 506.6 L74.37 506.6 L74.53 506.6 L74.68 506.6 L74.84 506.6 L74.99 506.6 L75.15 506.6 L75.3 506.6 L75.46 506.6 L75.61 506.6 L75.77 506.6 L75.92 506.6 L76.07 506.6 L76.23 506.6 L76.38 506.6 L76.54 506.6 L76.69 506.6 L76.85 506.6 L77 506.6 L77.16 506.6 L77.31 506.6 L77.47 506.6 L77.62 506.6 L77.78 506.6 L77.93 506.6 L78.08 506.6 L78.24 506.6 L78.39 506.6 L78.55 506.6 L78.7 506.6 L78.86 506.6 L79.01 506.6 L79.17 506.6 L79.32 506.6 L79.48 506.6 L79.63 506.6 L79.79 506.6 L79.94 506.6 L80.09 506.6 L80.25 506.6 L80.4 506.6 L80.56 506.6 L80.71 506.6 L80.87 506.6 L81.02 506.6 L81.18 506.6 L81.33 506.6 L81.49 506.6 L81.64 506.6 L81.8 506.6 L81.95 506.6 L82.1 506.6 L82.26 506.6 L82.41 506.6 L82.57 506.6 L82.72 506.6 L82.88 506.6 L83.03 506.6 L83.19 506.6 L83.34 506.6 L83.5 506.6 L83.65 506.6 L83.81 506.6 L83.96 506.6 L84.11 506.6 L84.27 506.6 L84.42 506.6 L84.58 506.6 L84.73 506.6 L84.89 506.6 L85.04 506.6 L85.2 506.6 L85.35 506.6 L85.51 506.6 L85.66 506.6 L85.82 506.6 L85.97 506.6 L86.12 506.6 L86.28 506.6 L86.43 506.6 L86.59 506.6 L86.74 506.6 L86.9 506.6 L87.05 506.6 L87.21 506.6 L87.36 506.6 L87.52 506.6 L87.67 506.6 L87.83 506.6 L87.98 506.6 L88.13 506.6 L88.29 506.6 L88.44 506.6 L88.6 506.6 L88.75 506.6 L88.91 506.6 L89.06 506.6 L89.22 506.6 L89.37 506.6 L89.53 506.6 L89.68 506.6 L89.84 506.6 L89.99 506.6 L90.14 506.6 L90.3 506.6 L90.45 506.6 L90.61 506.6 L90.76 506.6 L90.92 506.6 L91.07 506.6 L91.23 506.6 L91.38 506.6 L91.54 506.6 L91.69 506.6 L91.85 506.6 L92 506.6 L92.15 506.6 L92.31 506.6 L92.46 506.6 L92.62 506.6 L92.77 506.6 L92.93 506.6 L93.08 506.6 L93.24 506.6 L93.39 506.6 L93.55 506.6 L93.7 506.6 L93.86 506.6 L94.01 506.6 L94.16 506.6 L94.32 506.6 L94.47 506.6 L94.63 506.6 L94.78 506.6 L94.94 506.6 L95.09 506.6 L95.25 506.6 L95.4 506.6 L95.56 506.6 L95.71 506.6 L95.87 506.6 L96.02 506.6 L96.17 506.6 L96.33 506.6 L96.48 506.6 L96.64 506.6 L96.79 506.6 L96.95 506.6 L97.1 506.6 L97.26 506.6 L97.41 506.6 L97.57 506.6 L97.72 506.6 L97.88 506.6 L98.03 506.6 L98.18 506.6 L98.34 506.6 L98.49 506.6 L98.65 506.6 L98.8 506.6 L98.96 506.6 L99.11 506.6 L99.27 506.6 L99.42 506.6 L99.58 506.6 L99.73 506.6 L99.89 506.6 L100.04 506.6 L100.19 506.6 L100.35 506.6 L100.5 506.6 L100.66 506.6 L100.81 506.6 L100.97 506.6 L101.12 506.6 L101.28 506.6 L101.43 506.6 L101.59 506.6 L101.74 506.6 L101.9 506.6 L102.05 506.6 L102.2 506.6 L102.36 506.6 L102.51 506.6 L102.67 506.6 L102.82 506.6 L102.98 506.59 L103.13 506.59 L103.29 506.59 L103.44 506.58 L103.6 506.57 L103.75 506.56 L103.91 506.54 L104.06 506.52 L104.21 506.5 L104.37 506.46 L104.52 506.41 L104.68 506.34 L104.83 506.26 L104.99 506.15 L105.14 506.01 L105.3 505.84 L105.45 505.63 L105.61 505.36 L105.76 505.03 L105.92 504.64 L106.07 504.16 L106.22 503.6 L106.38 502.93 L106.53 502.15 L106.69 501.25 L106.84 500.22 L107 499.06 L107.15 497.75 L107.31 496.3 L107.46 494.72 L107.62 493 L107.77 491.16 L107.93 489.21 L108.08 487.18 L108.23 485.08 L108.39 482.96 L108.54 480.84 L108.7 478.75 L108.85 476.75 L109.01 474.85 L109.16 473.12 L109.32 471.58 L109.47 470.26 L109.63 469.2 L109.78 468.43 L109.94 467.96 L110.09 467.8 L110.24 467.96 L110.4 468.43 L110.55 469.2 L110.71 470.26 L110.86 471.58 L111.02 473.12 L111.17 474.85 L111.33 476.75 L111.48 478.75 L111.64 480.84 L111.79 482.96 L111.95 485.08 L112.1 487.18 L112.25 489.21 L112.41 491.16 L112.56 493 L112.72 494.72 L112.87 496.3 L113.03 497.75 L113.18 499.06 L113.34 500.22 L113.49 501.25 L113.65 502.15 L113.8 502.93 L113.96 503.6 L114.11 504.16 L114.26 504.64 L114.42 505.03 L114.57 505.36 L114.73 505.63 L114.88 505.84 L115.04 506.01 L115.19 506.15 L115.35 506.26 L115.5 506.34 L115.66 506.41 L115.81 506.46 L115.97 506.5 L116.12 506.52 L116.27 506.54 L116.43 506.56 L116.58 506.57 L116.74 506.58 L116.89 506.59 L117.05 506.59 L117.2 506.59 L117.36 506.6 L117.51 506.6 L117.67 506.6 L117.82 506.6 L117.98 506.6 L118.13 506.6 L118.28 506.6 L118.44 506.6 L118.59 506.6 L118.75 506.6 L118.9 506.6 L119.06 506.6 L119.21 506.6 L119.37 506.6 L119.52 506.6 L119.68 506.6 L119.83 506.6 L119.99 506.6 L120.14 506.6 L120.29 506.6 L120.45 506.6 L120.6 506.6 L120.76 506.6 L120.91 506.6 L121.07 506.6 L121.22 506.6 L121.38 506.6 L121.53 506.6 L121.69 506.6 L121.84 506.6 L122 506.6 L122.15 506.6 L122.3 506.6 L122.46 506.6 L122.61 506.6 L122.77 506.6 L122.92 506.6 L123.08 506.6 L123.23 506.6 L123.39 506.6 L123.54 506.6 L123.7 506.6 L123.85 506.6 L124.01 506.6 L124.16 506.6 L124.31 506.6 L124.47 506.6 L124.62 506.6 L124.78 506.6 L124.93 506.6 L125.09 506.6 L125.24 506.6 L125.4 506.6 L125.55 506.6 L125.71 506.6 L125.86 506.6 L126.02 506.6 L126.17 506.6 L126.32 506.6 L126.48 506.6 L126.63 506.6 L126.79 506.6 L126.94 506.6 L127.1 506.6 L127.25 506.6 L127.41 506.6 L127.56 506.6 L127.72 506.6 L127.87 506.6 L128.03 506.6 L128.18 506.6 L128.33 506.6 L128.49 506.6 L128.64 506.6 L128.8 506.6 L128.95 506.6 L129.11 506.6 L129.26 506.6 L129.42 506.6 L129.57 506.6 L129.73 506.6 L129.88 506.6 L130.04 506.6 L130.19 506.6 L130.34 506.6 L130.5 506.6 L130.65 506.6 L130.81 506.6 L130.96 506.6 L131.12 506.6 L131.27 506.6 L131.43 506.6 L131.58 506.6 L131.74 506.6 L131.89 506.6 L132.05 506.6 L132.2 506.6 L132.35 506.6 L132.51 506.6 L132.66 506.6 L132.82 506.6 L132.97 506.6 L133.13 506.6 L133.28 506.6 L133.44 506.6 L133.59 506.6 L133.75 506.6 L133.9 506.6 L134.06 506.6 L134.21 506.6 L134.36 506.6 L134.52 506.6 L134.67 506.6 L134.83 506.6 L134.98 506.6 L135.14 506.6 L135.29 506.6 L135.45 506.6 L135.6 506.6 L135.76 506.6 L135.91 506.6 L136.07 506.6 L136.22 506.6 L136.37 506.6 L136.53 506.6 L136.68 506.6 L136.84 506.6 L136.99 506.6 L137.15 506.6 L137.3 506.6 L137.46 506.6 L137.61 506.6 L137.77 506.6 L137.92 506.6 L138.08 506.6 L138.23 506.6 L138.38 506.6 L138.54 506.6 L138.69 506.6 L138.85 506.6 L139 506.6 L139.16 506.6 L139.31 506.6 L139.47 506.6 L139.62 506.6 L139.78 506.6 L139.93 506.6 L140.09 506.6 L140.24 506.6 L140.39 506.6 L140.55 506.6 L140.7 506.6 L140.86 506.6 L141.01 506.6 L141.17 506.6 L141.32 506.6 L141.48 506.6 L141.63 506.6 L141.79 506.6 L141.94 506.6 L142.1 506.6 L142.25 506.6 L142.4 506.6 L142.56 506.6 L142.71 506.6 L142.87 506.6 L143.02 506.6 L143.18 506.6 L143.33 506.6 L143.49 506.6 L143.64 506.6 L143.8 506.6 L143.95 506.6 L144.11 506.6 L144.26 506.6 L144.41 506.6 L144.57 506.6 L144.72 506.6 L144.88 506.6 L145.03 506.6 L145.19 506.6 L145.34 506.6 L145.5 506.6 L145.65 506.6 L145.81 506.6 L145.96 506.6 L146.12 506.6 L146.27 506.6 L146.42 506.6 L146.58 506.6 L146.73 506.6 L146.89 506.6 L147.04 506.6 L147.2 506.6 L147.35 506.6 L147.51 506.6 L147.66 506.6 L147.82 506.6 L147.97 506.6 L148.13 506.6 L148.28 506.6 L148.43 506.6 L148.59 506.6 L148.74 506.6 L148.9 506.6 L149.05 506.6 L149.21 506.6 L149.36 506.6 L149.52 506.6 L149.67 506.6 L149.83 506.6 L149.98 506.6 L150.14 506.6 L150.29 506.6 L150.44 506.6 L150.6 506.6 L150.75 506.6 L150.91 506.6 L151.06 506.6 L151.22 506.6 L151.37 506.6 L151.53 506.6 L151.68 506.6 L151.84 506.6 L151.99 506.6 L152.15 506.6 L152.3 506.6" fill="none" stroke="#1a1aa8" stroke-width="1.5" stroke-linejoin="round" />
<line x1="238.4" y1="451.8" x2="238.4" y2="516.4" stroke="#444" stroke-width="0.9" />
<line x1="238.4" y1="516.4" x2="319.3" y2="516.4" stroke="#444" stroke-width="0.9" />
<line x1="238.4" y1="509.9" x2="239.6" y2="509.9" stroke="#444" stroke-width="0.7" />
<line x1="238.4" y1="503.4" x2="239.6" y2="503.4" stroke="#444" stroke-width="0.7" />
<line x1="238.4" y1="496.9" x2="239.6" y2="496.9" stroke="#444" stroke-width="0.7" />
<line x1="238.4" y1="490.4" x2="239.6" y2="490.4" stroke="#444" stroke-width="0.7" />
<line x1="238.4" y1="483.9" x2="239.6" y2="483.9" stroke="#444" stroke-width="0.7" />
<line x1="238.4" y1="477.4" x2="239.6" y2="477.4" stroke="#444" stroke-width="0.7" />
<line x1="238.4" y1="470.9" x2="239.6" y2="470.9" stroke="#444" stroke-width="0.7" />
<line x1="238.4" y1="464.4" x2="239.6" y2="464.4" stroke="#444" stroke-width="0.7" />
<line x1="238.4" y1="457.9" x2="239.6" y2="457.9" stroke="#444" stroke-width="0.7" />
<line x1="238.4" y1="516.4" x2="238.4" y2="514.2" stroke="#444" stroke-width="0.9" />
<text x="238.4" y="527.1" font-size="10" text-anchor="middle" fill="#1f1f1f"  stroke="#1f1f1f" stroke-width="0.24">13</text>
<line x1="258.62" y1="516.4" x2="258.62" y2="514.2" stroke="#444" stroke-width="0.9" />
<text x="258.62" y="527.1" font-size="10" text-anchor="middle" fill="#1f1f1f"  stroke="#1f1f1f" stroke-width="0.24">14</text>
<line x1="278.85" y1="516.4" x2="278.85" y2="514.2" stroke="#444" stroke-width="0.9" />
<text x="278.85" y="527.1" font-size="10" text-anchor="middle" fill="#1f1f1f"  stroke="#1f1f1f" stroke-width="0.24">15</text>
<line x1="299.07" y1="516.4" x2="299.07" y2="514.2" stroke="#444" stroke-width="0.9" />
<text x="299.07" y="527.1" font-size="10" text-anchor="middle" fill="#1f1f1f"  stroke="#1f1f1f" stroke-width="0.24">16</text>
<line x1="319.3" y1="516.4" x2="319.3" y2="514.2" stroke="#444" stroke-width="0.9" />
<text x="319.3" y="527.1" font-size="10" text-anchor="middle" fill="#1f1f1f"  stroke="#1f1f1f" stroke-width="0.24">17</text>
<text x="279.7" y="536.4" font-size="9.2" text-anchor="middle" fill="#1f1f1f"  stroke="#1f1f1f" stroke-width="0.22">Frequency (MHz)</text>
<text x="280.4" y="459.2" font-size="9" text-anchor="middle" fill="#1f1f1f"  stroke="#1f1f1f" stroke-width="0.22">785 nm</text>
<text x="232.8" y="481.4" font-size="9.2" text-anchor="middle" fill="#1f1f1f" transform="rotate(-90 232.8 481.4)"  stroke="#1f1f1f" stroke-width="0.22">Signal</text>
<path d="M238.9 510.54 L239.05 505.96 L239.21 502.53 L239.36 498.22 L239.52 501.31 L239.67 501.16 L239.83 490.95 L239.98 499.88 L240.14 498.9 L240.29 498.52 L240.45 494.66 L240.6 503.39 L240.76 498.6 L240.91 491.08 L241.06 498 L241.22 497.47 L241.37 498.32 L241.53 498.26 L241.68 503.15 L241.84 502.52 L241.99 503.72 L242.15 500.94 L242.3 501.61 L242.46 498.67 L242.61 502.03 L242.77 501.29 L242.92 504.54 L243.07 499.66 L243.23 498.72 L243.38 501.62 L243.54 500.92 L243.69 501.96 L243.85 500.84 L244 496.8 L244.16 499.19 L244.31 506.98 L244.47 500.77 L244.62 503.58 L244.78 502.27 L244.93 504.03 L245.08 498.06 L245.24 496.64 L245.39 501.2 L245.55 487.91 L245.7 502.64 L245.86 502.09 L246.01 497.49 L246.17 501.09 L246.32 499.54 L246.48 500.6 L246.63 507.9 L246.79 504.61 L246.94 495.21 L247.09 502.5 L247.25 510.69 L247.4 488.6 L247.56 498.25 L247.71 489.68 L247.87 501.25 L248.02 500.53 L248.18 500.98 L248.33 500.46 L248.49 500.92 L248.64 503.52 L248.8 501.8 L248.95 499.47 L249.1 488.86 L249.26 501.3 L249.41 501 L249.57 499.13 L249.72 502.65 L249.88 500.92 L250.03 490.53 L250.19 499.71 L250.34 500.57 L250.5 509.77 L250.65 499.46 L250.81 500.67 L250.96 501.67 L251.11 501.18 L251.27 503.64 L251.42 503.31 L251.58 511.2 L251.73 488.28 L251.89 499.98 L252.04 508.58 L252.2 499.57 L252.35 502.76 L252.51 500.62 L252.66 490.42 L252.82 501.13 L252.97 497.86 L253.12 498.26 L253.28 501.7 L253.43 495.65 L253.59 503.56 L253.74 500.94 L253.9 501.3 L254.05 499.34 L254.21 499.85 L254.36 498.68 L254.52 499.86 L254.67 501.18 L254.83 497.41 L254.98 496.1 L255.13 503.98 L255.29 500.17 L255.44 499.91 L255.6 500.54 L255.75 502.03 L255.91 499.36 L256.06 503.31 L256.22 497.8 L256.37 509.56 L256.53 501.33 L256.68 500.74 L256.84 503.37 L256.99 501.37 L257.14 502.72 L257.3 499.19 L257.45 499.38 L257.61 499.06 L257.76 499.78 L257.92 489.83 L258.07 498.02 L258.23 502 L258.38 499.72 L258.54 501.24 L258.69 500.06 L258.85 497.93 L259 498.13 L259.15 501.05 L259.31 500.65 L259.46 490.32 L259.62 492.88 L259.77 511.01 L259.93 503.86 L260.08 496.86 L260.24 500.23 L260.39 502.5 L260.55 504.8 L260.7 500 L260.86 499.64 L261.01 501.64 L261.16 501.48 L261.32 501.23 L261.47 497.29 L261.63 492.77 L261.78 497.29 L261.94 499.56 L262.09 499.12 L262.25 491.31 L262.4 498.88 L262.56 492.06 L262.71 499.64 L262.87 498.61 L263.02 502.47 L263.17 500.13 L263.33 498.19 L263.48 503.65 L263.64 496.84 L263.79 500.8 L263.95 500.08 L264.1 500.64 L264.26 496 L264.41 500.28 L264.57 512.24 L264.72 500.57 L264.88 509.97 L265.03 507.41 L265.18 512.8 L265.34 499.6 L265.49 500.65 L265.65 498.77 L265.8 500.86 L265.96 490.65 L266.11 493.07 L266.27 494.23 L266.42 502.48 L266.58 490.48 L266.73 501.16 L266.89 508.52 L267.04 496.84 L267.19 510.9 L267.35 511.11 L267.5 501.17 L267.66 509.93 L267.81 503.49 L267.97 500.52 L268.12 511.26 L268.28 488.78 L268.43 501.64 L268.59 501.91 L268.74 500.02 L268.9 500.88 L269.05 498.31 L269.2 512.66 L269.36 488.27 L269.51 497.53 L269.67 501.3 L269.82 498.71 L269.98 500.75 L270.13 500.5 L270.29 499.49 L270.44 500.38 L270.6 500.14 L270.75 497.02 L270.91 501.18 L271.06 502.62 L271.21 499.51 L271.37 506.22 L271.52 491.57 L271.68 502.41 L271.83 500.61 L271.99 503.31 L272.14 500.3 L272.3 497.09 L272.45 498.98 L272.61 504.36 L272.76 504.14 L272.92 497.42 L273.07 499.89 L273.22 491.04 L273.38 511.92 L273.53 498.87 L273.69 499.61 L273.84 503.66 L274 512.69 L274.15 487.85 L274.31 488.04 L274.46 499.46 L274.62 502.44 L274.77 496.81 L274.93 501.2 L275.08 500.97 L275.23 501.23 L275.39 495.12 L275.54 503.56 L275.7 499.79 L275.85 498.66 L276.01 498.01 L276.16 497.07 L276.32 494.38 L276.47 496.8 L276.63 496.28 L276.78 495.36 L276.94 494.3 L277.09 492.59 L277.24 492.48 L277.4 490.64 L277.55 489.92 L277.71 488.91 L277.86 486.81 L278.02 486.1 L278.17 483.35 L278.33 481.22 L278.48 479.78 L278.64 478.23 L278.79 476.11 L278.95 474.85 L279.1 472.67 L279.25 471.56 L279.41 471 L279.56 466.96 L279.72 472.49 L279.87 469.07 L280.03 467.65 L280.18 466.48 L280.34 468.24 L280.49 469.4 L280.65 470.46 L280.8 469.57 L280.96 472.66 L281.11 473.29 L281.26 474.78 L281.42 476.37 L281.57 478.53 L281.73 479.81 L281.88 481.69 L282.04 479.48 L282.19 485.02 L282.35 486.11 L282.5 488.18 L282.66 489.73 L282.81 488.64 L282.97 489.06 L283.12 493.74 L283.27 494.46 L283.43 494.85 L283.58 497.01 L283.74 493.36 L283.89 497.18 L284.05 498.62 L284.2 500.62 L284.36 498.9 L284.51 498.83 L284.67 495.55 L284.82 502.29 L284.98 501.54 L285.13 500.9 L285.28 508.04 L285.44 502.78 L285.59 496.66 L285.75 492.23 L285.9 499.47 L286.06 499.13 L286.21 497.41 L286.37 499.05 L286.52 503.28 L286.68 500.84 L286.83 504.02 L286.99 504.07 L287.14 499.29 L287.29 500.16 L287.45 499.56 L287.6 491.69 L287.76 501.7 L287.91 503.06 L288.07 507.58 L288.22 498.23 L288.38 500.02 L288.53 500.47 L288.69 509.64 L288.84 490.88 L289 499.27 L289.15 497.3 L289.3 501.99 L289.46 500 L289.61 507.37 L289.77 498.41 L289.92 503.61 L290.08 496.2 L290.23 491.85 L290.39 509.64 L290.54 511.33 L290.7 500.25 L290.85 499.74 L291.01 496.95 L291.16 499.66 L291.31 498.51 L291.47 498.94 L291.62 501.51 L291.78 497.07 L291.93 497.61 L292.09 509.87 L292.24 501.03 L292.4 499.71 L292.55 502.69 L292.71 501.29 L292.86 501.35 L293.02 512.01 L293.17 512.09 L293.32 503.31 L293.48 499.85 L293.63 502.24 L293.79 497.59 L293.94 488.19 L294.1 504.03 L294.25 500.54 L294.41 502.17 L294.56 499.72 L294.72 500.09 L294.87 502.39 L295.03 499.53 L295.18 501.04 L295.33 497.65 L295.49 501.97 L295.64 500.47 L295.8 505.24 L295.95 499.79 L296.11 496.65 L296.26 499.1 L296.42 498.51 L296.57 498.37 L296.73 499.82 L296.88 502.67 L297.04 496.75 L297.19 503.66 L297.34 498.93 L297.5 504.54 L297.65 501.62 L297.81 498.25 L297.96 503.56 L298.12 500.75 L298.27 502.26 L298.43 512.56 L298.58 502.39 L298.74 500.64 L298.89 504.43 L299.05 501.71 L299.2 498.18 L299.35 500.61 L299.51 498.59 L299.66 499.41 L299.82 500.16 L299.97 498.25 L300.13 504.98 L300.28 509.51 L300.44 500.23 L300.59 500.85 L300.75 502.31 L300.9 499.92 L301.06 499.23 L301.21 506.95 L301.36 501.7 L301.52 500.29 L301.67 500.27 L301.83 499.28 L301.98 502.27 L302.14 501.05 L302.29 502.02 L302.45 508.11 L302.6 502.92 L302.76 500.14 L302.91 498.89 L303.07 499.7 L303.22 499.23 L303.37 496.67 L303.53 498.83 L303.68 496.78 L303.84 499.12 L303.99 501.63 L304.15 490.48 L304.3 499.61 L304.46 502.22 L304.61 502.74 L304.77 498.93 L304.92 499.28 L305.08 497.84 L305.23 488.58 L305.38 500.09 L305.54 500.86 L305.69 497.62 L305.85 500.45 L306 501.66 L306.16 500.11 L306.31 499.26 L306.47 501.19 L306.62 504.39 L306.78 500.17 L306.93 500.31 L307.09 502.55 L307.24 498.61 L307.39 501.03 L307.55 501.65 L307.7 498.99 L307.86 493.01 L308.01 498.84 L308.17 502.15 L308.32 499.15 L308.48 500.71 L308.63 499.65 L308.79 502.49 L308.94 498.21 L309.1 498.94 L309.25 497.72 L309.4 500.76 L309.56 499.01 L309.71 491.5 L309.87 502.04 L310.02 499.5 L310.18 498.26 L310.33 500.08 L310.49 500.19 L310.64 498.41 L310.8 502.76 L310.95 498.61 L311.11 501.06 L311.26 499.8 L311.41 494.95 L311.57 502.62 L311.72 497.17 L311.88 497.46 L312.03 504.77 L312.19 500.75 L312.34 501.29 L312.5 502.22 L312.65 500.63 L312.81 497.24 L312.96 503.83 L313.12 503.14 L313.27 498.95 L313.42 498.01 L313.58 502.26 L313.73 498.8 L313.89 501.88 L314.04 498.59 L314.2 499.87 L314.35 502.1 L314.51 492.44 L314.66 503.15 L314.82 499.72 L314.97 501.74 L315.13 505.02 L315.28 490.22 L315.43 499.44 L315.59 490.98 L315.74 500.25 L315.9 495.95 L316.05 489.92 L316.21 501.03 L316.36 500.48 L316.52 493.07 L316.67 501.57 L316.83 503.04 L316.98 496.38 L317.14 505 L317.29 500.27 L317.44 501.9 L317.6 499.93 L317.75 498.99 L317.91 498.17 L318.06 488.71 L318.22 503.2 L318.37 502.66 L318.53 511.09 L318.68 500.5 L318.84 503.99 L318.99 501.45 L319.15 499.81 L319.3 499.11" fill="none" stroke="#f07680" stroke-width="0.7" stroke-linejoin="round" />
<path d="M238.9 500.3 L239.05 500.3 L239.21 500.3 L239.36 500.3 L239.52 500.3 L239.67 500.3 L239.83 500.3 L239.98 500.3 L240.14 500.3 L240.29 500.3 L240.45 500.3 L240.6 500.3 L240.76 500.3 L240.91 500.3 L241.06 500.3 L241.22 500.3 L241.37 500.3 L241.53 500.3 L241.68 500.3 L241.84 500.3 L241.99 500.3 L242.15 500.3 L242.3 500.3 L242.46 500.3 L242.61 500.3 L242.77 500.3 L242.92 500.3 L243.07 500.3 L243.23 500.3 L243.38 500.3 L243.54 500.3 L243.69 500.3 L243.85 500.3 L244 500.3 L244.16 500.3 L244.31 500.3 L244.47 500.3 L244.62 500.3 L244.78 500.3 L244.93 500.3 L245.08 500.3 L245.24 500.3 L245.39 500.3 L245.55 500.3 L245.7 500.3 L245.86 500.3 L246.01 500.3 L246.17 500.3 L246.32 500.3 L246.48 500.3 L246.63 500.3 L246.79 500.3 L246.94 500.3 L247.09 500.3 L247.25 500.3 L247.4 500.3 L247.56 500.3 L247.71 500.3 L247.87 500.3 L248.02 500.3 L248.18 500.3 L248.33 500.3 L248.49 500.3 L248.64 500.3 L248.8 500.3 L248.95 500.3 L249.1 500.3 L249.26 500.3 L249.41 500.3 L249.57 500.3 L249.72 500.3 L249.88 500.3 L250.03 500.3 L250.19 500.3 L250.34 500.3 L250.5 500.3 L250.65 500.3 L250.81 500.3 L250.96 500.3 L251.11 500.3 L251.27 500.3 L251.42 500.3 L251.58 500.3 L251.73 500.3 L251.89 500.3 L252.04 500.3 L252.2 500.3 L252.35 500.3 L252.51 500.3 L252.66 500.3 L252.82 500.3 L252.97 500.3 L253.12 500.3 L253.28 500.3 L253.43 500.3 L253.59 500.3 L253.74 500.3 L253.9 500.3 L254.05 500.3 L254.21 500.3 L254.36 500.3 L254.52 500.3 L254.67 500.3 L254.83 500.3 L254.98 500.3 L255.13 500.3 L255.29 500.3 L255.44 500.3 L255.6 500.3 L255.75 500.3 L255.91 500.3 L256.06 500.3 L256.22 500.3 L256.37 500.3 L256.53 500.3 L256.68 500.3 L256.84 500.3 L256.99 500.3 L257.14 500.3 L257.3 500.3 L257.45 500.3 L257.61 500.3 L257.76 500.3 L257.92 500.3 L258.07 500.3 L258.23 500.3 L258.38 500.3 L258.54 500.3 L258.69 500.3 L258.85 500.3 L259 500.3 L259.15 500.3 L259.31 500.3 L259.46 500.3 L259.62 500.3 L259.77 500.3 L259.93 500.3 L260.08 500.3 L260.24 500.3 L260.39 500.3 L260.55 500.3 L260.7 500.3 L260.86 500.3 L261.01 500.3 L261.16 500.3 L261.32 500.3 L261.47 500.3 L261.63 500.3 L261.78 500.3 L261.94 500.3 L262.09 500.3 L262.25 500.3 L262.4 500.3 L262.56 500.3 L262.71 500.3 L262.87 500.3 L263.02 500.3 L263.17 500.3 L263.33 500.3 L263.48 500.3 L263.64 500.3 L263.79 500.3 L263.95 500.3 L264.1 500.3 L264.26 500.3 L264.41 500.3 L264.57 500.3 L264.72 500.3 L264.88 500.3 L265.03 500.3 L265.18 500.3 L265.34 500.3 L265.49 500.3 L265.65 500.3 L265.8 500.3 L265.96 500.3 L266.11 500.3 L266.27 500.3 L266.42 500.3 L266.58 500.3 L266.73 500.3 L266.89 500.3 L267.04 500.3 L267.19 500.3 L267.35 500.3 L267.5 500.3 L267.66 500.3 L267.81 500.3 L267.97 500.3 L268.12 500.3 L268.28 500.3 L268.43 500.3 L268.59 500.3 L268.74 500.3 L268.9 500.3 L269.05 500.3 L269.2 500.3 L269.36 500.3 L269.51 500.3 L269.67 500.3 L269.82 500.3 L269.98 500.3 L270.13 500.3 L270.29 500.3 L270.44 500.3 L270.6 500.3 L270.75 500.3 L270.91 500.3 L271.06 500.3 L271.21 500.3 L271.37 500.3 L271.52 500.3 L271.68 500.3 L271.83 500.3 L271.99 500.3 L272.14 500.3 L272.3 500.3 L272.45 500.3 L272.61 500.3 L272.76 500.3 L272.92 500.3 L273.07 500.29 L273.22 500.29 L273.38 500.29 L273.53 500.28 L273.69 500.27 L273.84 500.26 L274 500.25 L274.15 500.23 L274.31 500.2 L274.46 500.16 L274.62 500.12 L274.77 500.05 L274.93 499.97 L275.08 499.87 L275.23 499.75 L275.39 499.59 L275.54 499.39 L275.7 499.14 L275.85 498.84 L276.01 498.48 L276.16 498.05 L276.32 497.54 L276.47 496.94 L276.63 496.25 L276.78 495.45 L276.94 494.54 L277.09 493.51 L277.24 492.37 L277.4 491.11 L277.55 489.74 L277.71 488.26 L277.86 486.69 L278.02 485.03 L278.17 483.32 L278.33 481.56 L278.48 479.8 L278.64 478.05 L278.79 476.35 L278.95 474.72 L279.1 473.22 L279.25 471.85 L279.41 470.66 L279.56 469.68 L279.72 468.91 L279.87 468.4 L280.03 468.13 L280.18 468.13 L280.34 468.4 L280.49 468.91 L280.65 469.68 L280.8 470.66 L280.96 471.85 L281.11 473.22 L281.26 474.72 L281.42 476.35 L281.57 478.05 L281.73 479.8 L281.88 481.56 L282.04 483.32 L282.19 485.03 L282.35 486.69 L282.5 488.26 L282.66 489.74 L282.81 491.11 L282.97 492.37 L283.12 493.51 L283.27 494.54 L283.43 495.45 L283.58 496.25 L283.74 496.94 L283.89 497.54 L284.05 498.05 L284.2 498.48 L284.36 498.84 L284.51 499.14 L284.67 499.39 L284.82 499.59 L284.98 499.75 L285.13 499.87 L285.28 499.97 L285.44 500.05 L285.59 500.12 L285.75 500.16 L285.9 500.2 L286.06 500.23 L286.21 500.25 L286.37 500.26 L286.52 500.27 L286.68 500.28 L286.83 500.29 L286.99 500.29 L287.14 500.29 L287.29 500.3 L287.45 500.3 L287.6 500.3 L287.76 500.3 L287.91 500.3 L288.07 500.3 L288.22 500.3 L288.38 500.3 L288.53 500.3 L288.69 500.3 L288.84 500.3 L289 500.3 L289.15 500.3 L289.3 500.3 L289.46 500.3 L289.61 500.3 L289.77 500.3 L289.92 500.3 L290.08 500.3 L290.23 500.3 L290.39 500.3 L290.54 500.3 L290.7 500.3 L290.85 500.3 L291.01 500.3 L291.16 500.3 L291.31 500.3 L291.47 500.3 L291.62 500.3 L291.78 500.3 L291.93 500.3 L292.09 500.3 L292.24 500.3 L292.4 500.3 L292.55 500.3 L292.71 500.3 L292.86 500.3 L293.02 500.3 L293.17 500.3 L293.32 500.3 L293.48 500.3 L293.63 500.3 L293.79 500.3 L293.94 500.3 L294.1 500.3 L294.25 500.3 L294.41 500.3 L294.56 500.3 L294.72 500.3 L294.87 500.3 L295.03 500.3 L295.18 500.3 L295.33 500.3 L295.49 500.3 L295.64 500.3 L295.8 500.3 L295.95 500.3 L296.11 500.3 L296.26 500.3 L296.42 500.3 L296.57 500.3 L296.73 500.3 L296.88 500.3 L297.04 500.3 L297.19 500.3 L297.34 500.3 L297.5 500.3 L297.65 500.3 L297.81 500.3 L297.96 500.3 L298.12 500.3 L298.27 500.3 L298.43 500.3 L298.58 500.3 L298.74 500.3 L298.89 500.3 L299.05 500.3 L299.2 500.3 L299.35 500.3 L299.51 500.3 L299.66 500.3 L299.82 500.3 L299.97 500.3 L300.13 500.3 L300.28 500.3 L300.44 500.3 L300.59 500.3 L300.75 500.3 L300.9 500.3 L301.06 500.3 L301.21 500.3 L301.36 500.3 L301.52 500.3 L301.67 500.3 L301.83 500.3 L301.98 500.3 L302.14 500.3 L302.29 500.3 L302.45 500.3 L302.6 500.3 L302.76 500.3 L302.91 500.3 L303.07 500.3 L303.22 500.3 L303.37 500.3 L303.53 500.3 L303.68 500.3 L303.84 500.3 L303.99 500.3 L304.15 500.3 L304.3 500.3 L304.46 500.3 L304.61 500.3 L304.77 500.3 L304.92 500.3 L305.08 500.3 L305.23 500.3 L305.38 500.3 L305.54 500.3 L305.69 500.3 L305.85 500.3 L306 500.3 L306.16 500.3 L306.31 500.3 L306.47 500.3 L306.62 500.3 L306.78 500.3 L306.93 500.3 L307.09 500.3 L307.24 500.3 L307.39 500.3 L307.55 500.3 L307.7 500.3 L307.86 500.3 L308.01 500.3 L308.17 500.3 L308.32 500.3 L308.48 500.3 L308.63 500.3 L308.79 500.3 L308.94 500.3 L309.1 500.3 L309.25 500.3 L309.4 500.3 L309.56 500.3 L309.71 500.3 L309.87 500.3 L310.02 500.3 L310.18 500.3 L310.33 500.3 L310.49 500.3 L310.64 500.3 L310.8 500.3 L310.95 500.3 L311.11 500.3 L311.26 500.3 L311.41 500.3 L311.57 500.3 L311.72 500.3 L311.88 500.3 L312.03 500.3 L312.19 500.3 L312.34 500.3 L312.5 500.3 L312.65 500.3 L312.81 500.3 L312.96 500.3 L313.12 500.3 L313.27 500.3 L313.42 500.3 L313.58 500.3 L313.73 500.3 L313.89 500.3 L314.04 500.3 L314.2 500.3 L314.35 500.3 L314.51 500.3 L314.66 500.3 L314.82 500.3 L314.97 500.3 L315.13 500.3 L315.28 500.3 L315.43 500.3 L315.59 500.3 L315.74 500.3 L315.9 500.3 L316.05 500.3 L316.21 500.3 L316.36 500.3 L316.52 500.3 L316.67 500.3 L316.83 500.3 L316.98 500.3 L317.14 500.3 L317.29 500.3 L317.44 500.3 L317.6 500.3 L317.75 500.3 L317.91 500.3 L318.06 500.3 L318.22 500.3 L318.37 500.3 L318.53 500.3 L318.68 500.3 L318.84 500.3 L318.99 500.3 L319.15 500.3 L319.3 500.3" fill="none" stroke="#d23c48" stroke-width="1.5" stroke-linejoin="round" />
<line x1="185.5" y1="414.5" x2="185.5" y2="510" stroke="#8a8a8a" stroke-width="1.2" />
<path d="M182.3 509.5 L188.7 509.5 L185.5 516.3 Z" fill="#8a8a8a"/>
<line x1="143.4" y1="497.3" x2="161.5" y2="492.6" stroke="#2020d8" stroke-width="1.2" />
<path d="M167.6 491.1 L160.4 489.6 L162.0 495.8 Z" fill="#2020d8"/>
<line x1="238" y1="499.5" x2="210.5" y2="493.4" stroke="#f04848" stroke-width="1.2" />
<path d="M204.4 492.0 L211.6 490.3 L210.2 496.6 Z" fill="#f04848"/>
<text x="358" y="313.2" font-size="18" text-anchor="start" font-weight="bold" fill="#000" >d</text>
<line x1="407.8" y1="328.5" x2="407.8" y2="544.8" stroke="#222" stroke-width="1.3" />
<line x1="407.2" y1="544.2" x2="675.8" y2="544.2" stroke="#222" stroke-width="1.3" />
<line x1="407.8" y1="533.3" x2="412" y2="533.3" stroke="#222" stroke-width="1.3" />
<text x="402.4" y="537.8" font-size="12.7" text-anchor="end" fill="#1f1f1f"  stroke="#1f1f1f" stroke-width="0.30">0.00</text>
<line x1="407.8" y1="506" x2="412" y2="506" stroke="#222" stroke-width="1.3" />
<text x="402.4" y="510.5" font-size="12.7" text-anchor="end" fill="#1f1f1f"  stroke="#1f1f1f" stroke-width="0.30">0.05</text>
<line x1="407.8" y1="478.7" x2="412" y2="478.7" stroke="#222" stroke-width="1.3" />
<text x="402.4" y="483.2" font-size="12.7" text-anchor="end" fill="#1f1f1f"  stroke="#1f1f1f" stroke-width="0.30">0.10</text>
<line x1="407.8" y1="451.4" x2="412" y2="451.4" stroke="#222" stroke-width="1.3" />
<text x="402.4" y="455.9" font-size="12.7" text-anchor="end" fill="#1f1f1f"  stroke="#1f1f1f" stroke-width="0.30">0.15</text>
<line x1="407.8" y1="424.1" x2="412" y2="424.1" stroke="#222" stroke-width="1.3" />
<text x="402.4" y="428.6" font-size="12.7" text-anchor="end" fill="#1f1f1f"  stroke="#1f1f1f" stroke-width="0.30">0.20</text>
<line x1="407.8" y1="396.8" x2="412" y2="396.8" stroke="#222" stroke-width="1.3" />
<text x="402.4" y="401.3" font-size="12.7" text-anchor="end" fill="#1f1f1f"  stroke="#1f1f1f" stroke-width="0.30">0.25</text>
<line x1="407.8" y1="369.5" x2="412" y2="369.5" stroke="#222" stroke-width="1.3" />
<text x="402.4" y="374" font-size="12.7" text-anchor="end" fill="#1f1f1f"  stroke="#1f1f1f" stroke-width="0.30">0.30</text>
<line x1="407.8" y1="342.2" x2="412" y2="342.2" stroke="#222" stroke-width="1.3" />
<text x="402.4" y="346.7" font-size="12.7" text-anchor="end" fill="#1f1f1f"  stroke="#1f1f1f" stroke-width="0.30">0.35</text>
<line x1="412.45" y1="544.2" x2="412.45" y2="540.2" stroke="#222" stroke-width="1.3" />
<text x="411.75" y="559.5" font-size="12.7" text-anchor="middle" fill="#1f1f1f"  stroke="#1f1f1f" stroke-width="0.30">−25</text>
<line x1="438.3" y1="544.2" x2="438.3" y2="540.2" stroke="#222" stroke-width="1.3" />
<text x="437.6" y="559.5" font-size="12.7" text-anchor="middle" fill="#1f1f1f"  stroke="#1f1f1f" stroke-width="0.30">−20</text>
<line x1="464.15" y1="544.2" x2="464.15" y2="540.2" stroke="#222" stroke-width="1.3" />
<text x="463.45" y="559.5" font-size="12.7" text-anchor="middle" fill="#1f1f1f"  stroke="#1f1f1f" stroke-width="0.30">−15</text>
<line x1="490" y1="544.2" x2="490" y2="540.2" stroke="#222" stroke-width="1.3" />
<text x="489.3" y="559.5" font-size="12.7" text-anchor="middle" fill="#1f1f1f"  stroke="#1f1f1f" stroke-width="0.30">−10</text>
<line x1="515.85" y1="544.2" x2="515.85" y2="540.2" stroke="#222" stroke-width="1.3" />
<text x="515.15" y="559.5" font-size="12.7" text-anchor="middle" fill="#1f1f1f"  stroke="#1f1f1f" stroke-width="0.30">−5</text>
<line x1="541.7" y1="544.2" x2="541.7" y2="540.2" stroke="#222" stroke-width="1.3" />
<text x="541.7" y="559.5" font-size="12.7" text-anchor="middle" fill="#1f1f1f"  stroke="#1f1f1f" stroke-width="0.30">0</text>
<line x1="567.55" y1="544.2" x2="567.55" y2="540.2" stroke="#222" stroke-width="1.3" />
<text x="567.55" y="559.5" font-size="12.7" text-anchor="middle" fill="#1f1f1f"  stroke="#1f1f1f" stroke-width="0.30">5</text>
<line x1="593.4" y1="544.2" x2="593.4" y2="540.2" stroke="#222" stroke-width="1.3" />
<text x="593.4" y="559.5" font-size="12.7" text-anchor="middle" fill="#1f1f1f"  stroke="#1f1f1f" stroke-width="0.30">10</text>
<line x1="619.25" y1="544.2" x2="619.25" y2="540.2" stroke="#222" stroke-width="1.3" />
<text x="619.25" y="559.5" font-size="12.7" text-anchor="middle" fill="#1f1f1f"  stroke="#1f1f1f" stroke-width="0.30">15</text>
<line x1="645.1" y1="544.2" x2="645.1" y2="540.2" stroke="#222" stroke-width="1.3" />
<text x="645.1" y="559.5" font-size="12.7" text-anchor="middle" fill="#1f1f1f"  stroke="#1f1f1f" stroke-width="0.30">20</text>
<line x1="670.95" y1="544.2" x2="670.95" y2="540.2" stroke="#222" stroke-width="1.3" />
<text x="670.95" y="559.5" font-size="12.7" text-anchor="middle" fill="#1f1f1f"  stroke="#1f1f1f" stroke-width="0.30">25</text>
<text x="542.6" y="577.2" font-size="13" text-anchor="middle" fill="#1f1f1f"  stroke="#1f1f1f" stroke-width="0.30">Detuning (nm)</text>
<text x="368.8" y="438.3" font-size="13" text-anchor="middle" fill="#1f1f1f" transform="rotate(-90 368.8 438.3)"  stroke="#1f1f1f" stroke-width="0.30">Signal strength</text>
<path d="M407.8 440.25 L408.06 440 L408.31 439.74 L408.57 439.48 L408.83 439.22 L409.09 438.96 L409.35 438.7 L409.61 438.44 L409.87 438.18 L410.12 437.92 L410.38 437.66 L410.64 437.4 L410.9 437.14 L411.16 436.87 L411.42 436.61 L411.67 436.34 L411.93 436.08 L412.19 435.81 L412.45 435.55 L412.71 435.28 L412.97 435.01 L413.23 434.75 L413.48 434.48 L413.74 434.21 L414 433.94 L414.26 433.67 L414.52 433.4 L414.78 433.13 L415.04 432.85 L415.29 432.58 L415.55 432.31 L415.81 432.04 L416.07 431.76 L416.33 431.49 L416.59 431.21 L416.84 430.94 L417.1 430.66 L417.36 430.38 L417.62 430.11 L417.88 429.83 L418.14 429.55 L418.4 429.27 L418.65 429 L418.91 428.72 L419.17 428.44 L419.43 428.16 L419.69 427.87 L419.95 427.59 L420.21 427.31 L420.46 427.03 L420.72 426.75 L420.98 426.46 L421.24 426.18 L421.5 425.9 L421.76 425.61 L422.01 425.33 L422.27 425.04 L422.53 424.75 L422.79 424.47 L423.05 424.18 L423.31 423.89 L423.57 423.61 L423.82 423.32 L424.08 423.03 L424.34 422.74 L424.6 422.45 L424.86 422.16 L425.12 421.87 L425.38 421.58 L425.63 421.29 L425.89 421 L426.15 420.71 L426.41 420.42 L426.67 420.13 L426.93 419.83 L427.18 419.54 L427.44 419.25 L427.7 418.96 L427.96 418.66 L428.22 418.37 L428.48 418.07 L428.74 417.78 L428.99 417.49 L429.25 417.19 L429.51 416.89 L429.77 416.6 L430.03 416.3 L430.29 416.01 L430.55 415.71 L430.8 415.41 L431.06 415.12 L431.32 414.82 L431.58 414.52 L431.84 414.23 L432.1 413.93 L432.35 413.63 L432.61 413.33 L432.87 413.04 L433.13 412.74 L433.39 412.44 L433.65 412.14 L433.91 411.84 L434.16 411.54 L434.42 411.25 L434.68 410.95 L434.94 410.65 L435.2 410.35 L435.46 410.05 L435.72 409.75 L435.97 409.45 L436.23 409.15 L436.49 408.85 L436.75 408.55 L437.01 408.25 L437.27 407.96 L437.52 407.66 L437.78 407.36 L438.04 407.06 L438.3 406.76 L438.56 406.46 L438.82 406.16 L439.08 405.86 L439.33 405.56 L439.59 405.27 L439.85 404.97 L440.11 404.67 L440.37 404.37 L440.63 404.07 L440.89 403.77 L441.14 403.48 L441.4 403.18 L441.66 402.88 L441.92 402.59 L442.18 402.29 L442.44 401.99 L442.69 401.7 L442.95 401.4 L443.21 401.11 L443.47 400.81 L443.73 400.51 L443.99 400.22 L444.25 399.93 L444.5 399.63 L444.76 399.34 L445.02 399.05 L445.28 398.75 L445.54 398.46 L445.8 398.17 L446.06 397.88 L446.31 397.59 L446.57 397.3 L446.83 397.01 L447.09 396.72 L447.35 396.43 L447.61 396.14 L447.86 395.85 L448.12 395.57 L448.38 395.28 L448.64 394.99 L448.9 394.71 L449.16 394.43 L449.42 394.14 L449.67 393.86 L449.93 393.58 L450.19 393.3 L450.45 393.01 L450.71 392.74 L450.97 392.46 L451.23 392.18 L451.48 391.9 L451.74 391.62 L452 391.35 L452.26 391.07 L452.52 390.8 L452.78 390.53 L453.03 390.26 L453.29 389.98 L453.55 389.71 L453.81 389.45 L454.07 389.18 L454.33 388.91 L454.59 388.65 L454.84 388.38 L455.1 388.12 L455.36 387.86 L455.62 387.59 L455.88 387.34 L456.14 387.08 L456.4 386.82 L456.65 386.56 L456.91 386.31 L457.17 386.06 L457.43 385.8 L457.69 385.55 L457.95 385.3 L458.2 385.06 L458.46 384.81 L458.72 384.56 L458.98 384.32 L459.24 384.08 L459.5 383.84 L459.76 383.6 L460.01 383.36 L460.27 383.13 L460.53 382.89 L460.79 382.66 L461.05 382.43 L461.31 382.2 L461.57 381.98 L461.82 381.75 L462.08 381.53 L462.34 381.31 L462.6 381.09 L462.86 380.87 L463.12 380.65 L463.37 380.44 L463.63 380.23 L463.89 380.02 L464.15 379.81 L464.41 379.61 L464.67 379.4 L464.93 379.2 L465.18 379 L465.44 378.8 L465.7 378.61 L465.96 378.42 L466.22 378.23 L466.48 378.04 L466.74 377.85 L466.99 377.67 L467.25 377.49 L467.51 377.31 L467.77 377.14 L468.03 376.96 L468.29 376.79 L468.54 376.62 L468.8 376.46 L469.06 376.29 L469.32 376.13 L469.58 375.98 L469.84 375.82 L470.1 375.67 L470.35 375.52 L470.61 375.37 L470.87 375.23 L471.13 375.09 L471.39 374.95 L471.65 374.82 L471.91 374.68 L472.16 374.56 L472.42 374.43 L472.68 374.31 L472.94 374.19 L473.2 374.07 L473.46 373.96 L473.71 373.85 L473.97 373.74 L474.23 373.64 L474.49 373.54 L474.75 373.44 L475.01 373.35 L475.27 373.26 L475.52 373.17 L475.78 373.09 L476.04 373.01 L476.3 372.94 L476.56 372.86 L476.82 372.8 L477.08 372.73 L477.33 372.67 L477.59 372.61 L477.85 372.56 L478.11 372.51 L478.37 372.46 L478.63 372.42 L478.88 372.39 L479.14 372.35 L479.4 372.32 L479.66 372.3 L479.92 372.27 L480.18 372.26 L480.44 372.24 L480.69 372.24 L480.95 372.23 L481.21 372.23 L481.47 372.23 L481.73 372.24 L481.99 372.26 L482.25 372.27 L482.5 372.29 L482.76 372.32 L483.02 372.35 L483.28 372.39 L483.54 372.43 L483.8 372.47 L484.05 372.52 L484.31 372.57 L484.57 372.63 L484.83 372.7 L485.09 372.76 L485.35 372.84 L485.61 372.91 L485.86 373 L486.12 373.09 L486.38 373.18 L486.64 373.28 L486.9 373.38 L487.16 373.49 L487.42 373.6 L487.67 373.72 L487.93 373.84 L488.19 373.97 L488.45 374.11 L488.71 374.25 L488.97 374.39 L489.22 374.54 L489.48 374.7 L489.74 374.86 L490 375.03 L490.26 375.2 L490.52 375.38 L490.78 375.56 L491.03 375.75 L491.29 375.94 L491.55 376.15 L491.81 376.35 L492.07 376.56 L492.33 376.78 L492.59 377.01 L492.84 377.23 L493.1 377.47 L493.36 377.71 L493.62 377.96 L493.88 378.21 L494.14 378.47 L494.39 378.74 L494.65 379.01 L494.91 379.29 L495.17 379.57 L495.43 379.86 L495.69 380.15 L495.95 380.46 L496.2 380.76 L496.46 381.08 L496.72 381.4 L496.98 381.73 L497.24 382.06 L497.5 382.4 L497.76 382.75 L498.01 383.1 L498.27 383.46 L498.53 383.82 L498.79 384.2 L499.05 384.57 L499.31 384.96 L499.56 385.35 L499.82 385.75 L500.08 386.15 L500.34 386.56 L500.6 386.98 L500.86 387.41 L501.12 387.84 L501.37 388.28 L501.63 388.72 L501.89 389.17 L502.15 389.63 L502.41 390.09 L502.67 390.56 L502.93 391.04 L503.18 391.53 L503.44 392.02 L503.7 392.52 L503.96 393.02 L504.22 393.53 L504.48 394.05 L504.73 394.58 L504.99 395.11 L505.25 395.65 L505.51 396.2 L505.77 396.75 L506.03 397.31 L506.29 397.88 L506.54 398.45 L506.8 399.03 L507.06 399.62 L507.32 400.21 L507.58 400.81 L507.84 401.42 L508.1 402.04 L508.35 402.66 L508.61 403.29 L508.87 403.92 L509.13 404.56 L509.39 405.21 L509.65 405.87 L509.9 406.53 L510.16 407.2 L510.42 407.88 L510.68 408.56 L510.94 409.25 L511.2 409.95 L511.46 410.65 L511.71 411.36 L511.97 412.08 L512.23 412.81 L512.49 413.54 L512.75 414.28 L513.01 415.02 L513.27 415.77 L513.52 416.53 L513.78 417.29 L514.04 418.06 L514.3 418.84 L514.56 419.63 L514.82 420.42 L515.07 421.22 L515.33 422.02 L515.59 422.83 L515.85 423.65 L516.11 424.47 L516.37 425.3 L516.63 426.14 L516.88 426.98 L517.14 427.83 L517.4 428.69 L517.66 429.55 L517.92 430.42 L518.18 431.29 L518.44 432.17 L518.69 433.06 L518.95 433.95 L519.21 434.85 L519.47 435.75 L519.73 436.66 L519.99 437.58 L520.24 438.5 L520.5 439.43 L520.76 440.37 L521.02 441.31 L521.28 442.25 L521.54 443.2 L521.8 444.16 L522.05 445.13 L522.31 446.09 L522.57 447.07 L522.83 448.05 L523.09 449.03 L523.35 450.02 L523.61 451.02 L523.86 452.02 L524.12 453.03 L524.38 454.04 L524.64 455.05 L524.9 456.07 L525.16 457.1 L525.41 458.13 L525.67 459.17 L525.93 460.21 L526.19 461.26 L526.45 462.31 L526.71 463.36 L526.97 464.42 L527.22 465.49 L527.48 466.55 L527.74 467.63 L528 468.7 L528.26 469.79 L528.52 470.87 L528.78 471.96 L529.03 473.06 L529.29 474.15 L529.55 475.25 L529.81 476.36 L530.07 477.47 L530.33 478.58 L530.58 479.7 L530.84 480.82 L531.1 481.94 L531.36 483.07 L531.62 484.2 L531.88 485.33 L532.14 486.47 L532.39 487.61 L532.65 488.75 L532.91 489.9 L533.17 491.05 L533.43 492.2 L533.69 493.35 L533.95 494.51 L534.2 495.67 L534.46 496.83 L534.72 498 L534.98 499.16 L535.24 500.33 L535.5 501.5 L535.75 502.67 L536.01 503.85 L536.27 505.03 L536.53 506.2 L536.79 507.39 L537.05 508.57 L537.31 509.75 L537.56 510.94 L537.82 512.12 L538.08 513.31 L538.34 514.5 L538.6 515.69 L538.86 516.88 L539.12 518.07 L539.37 519.26 L539.63 520.46 L539.89 521.65 L540.15 522.85 L540.41 524.04 L540.67 525.24 L540.92 526.43 L541.18 527.63 L541.44 528.83 L541.7 530.02 L541.96 528.83 L542.22 527.63 L542.48 526.43 L542.73 525.24 L542.99 524.04 L543.25 522.85 L543.51 521.65 L543.77 520.46 L544.03 519.26 L544.29 518.07 L544.54 516.88 L544.8 515.69 L545.06 514.5 L545.32 513.31 L545.58 512.12 L545.84 510.94 L546.09 509.75 L546.35 508.57 L546.61 507.39 L546.87 506.2 L547.13 505.03 L547.39 503.85 L547.65 502.67 L547.9 501.5 L548.16 500.33 L548.42 499.16 L548.68 498 L548.94 496.83 L549.2 495.67 L549.46 494.51 L549.71 493.35 L549.97 492.2 L550.23 491.05 L550.49 489.9 L550.75 488.75 L551.01 487.61 L551.26 486.47 L551.52 485.33 L551.78 484.2 L552.04 483.07 L552.3 481.94 L552.56 480.82 L552.82 479.7 L553.07 478.58 L553.33 477.47 L553.59 476.36 L553.85 475.25 L554.11 474.15 L554.37 473.06 L554.63 471.96 L554.88 470.87 L555.14 469.79 L555.4 468.7 L555.66 467.63 L555.92 466.55 L556.18 465.49 L556.43 464.42 L556.69 463.36 L556.95 462.31 L557.21 461.26 L557.47 460.21 L557.73 459.17 L557.99 458.13 L558.24 457.1 L558.5 456.07 L558.76 455.05 L559.02 454.04 L559.28 453.03 L559.54 452.02 L559.8 451.02 L560.05 450.02 L560.31 449.03 L560.57 448.05 L560.83 447.07 L561.09 446.09 L561.35 445.13 L561.6 444.16 L561.86 443.2 L562.12 442.25 L562.38 441.31 L562.64 440.37 L562.9 439.43 L563.16 438.5 L563.41 437.58 L563.67 436.66 L563.93 435.75 L564.19 434.85 L564.45 433.95 L564.71 433.06 L564.97 432.17 L565.22 431.29 L565.48 430.42 L565.74 429.55 L566 428.69 L566.26 427.83 L566.52 426.98 L566.77 426.14 L567.03 425.3 L567.29 424.47 L567.55 423.65 L567.81 422.83 L568.07 422.02 L568.33 421.22 L568.58 420.42 L568.84 419.63 L569.1 418.84 L569.36 418.06 L569.62 417.29 L569.88 416.53 L570.14 415.77 L570.39 415.02 L570.65 414.28 L570.91 413.54 L571.17 412.81 L571.43 412.08 L571.69 411.36 L571.94 410.65 L572.2 409.95 L572.46 409.25 L572.72 408.56 L572.98 407.88 L573.24 407.2 L573.5 406.53 L573.75 405.87 L574.01 405.21 L574.27 404.56 L574.53 403.92 L574.79 403.29 L575.05 402.66 L575.31 402.04 L575.56 401.42 L575.82 400.81 L576.08 400.21 L576.34 399.62 L576.6 399.03 L576.86 398.45 L577.11 397.88 L577.37 397.31 L577.63 396.75 L577.89 396.2 L578.15 395.65 L578.41 395.11 L578.67 394.58 L578.92 394.05 L579.18 393.53 L579.44 393.02 L579.7 392.52 L579.96 392.02 L580.22 391.53 L580.48 391.04 L580.73 390.56 L580.99 390.09 L581.25 389.63 L581.51 389.17 L581.77 388.72 L582.03 388.28 L582.28 387.84 L582.54 387.41 L582.8 386.98 L583.06 386.56 L583.32 386.15 L583.58 385.75 L583.84 385.35 L584.09 384.96 L584.35 384.57 L584.61 384.2 L584.87 383.82 L585.13 383.46 L585.39 383.1 L585.65 382.75 L585.9 382.4 L586.16 382.06 L586.42 381.73 L586.68 381.4 L586.94 381.08 L587.2 380.76 L587.45 380.46 L587.71 380.15 L587.97 379.86 L588.23 379.57 L588.49 379.29 L588.75 379.01 L589.01 378.74 L589.26 378.47 L589.52 378.21 L589.78 377.96 L590.04 377.71 L590.3 377.47 L590.56 377.23 L590.82 377.01 L591.07 376.78 L591.33 376.56 L591.59 376.35 L591.85 376.15 L592.11 375.94 L592.37 375.75 L592.62 375.56 L592.88 375.38 L593.14 375.2 L593.4 375.03 L593.66 374.86 L593.92 374.7 L594.18 374.54 L594.43 374.39 L594.69 374.25 L594.95 374.11 L595.21 373.97 L595.47 373.84 L595.73 373.72 L595.99 373.6 L596.24 373.49 L596.5 373.38 L596.76 373.28 L597.02 373.18 L597.28 373.09 L597.54 373 L597.79 372.91 L598.05 372.84 L598.31 372.76 L598.57 372.7 L598.83 372.63 L599.09 372.57 L599.35 372.52 L599.6 372.47 L599.86 372.43 L600.12 372.39 L600.38 372.35 L600.64 372.32 L600.9 372.29 L601.16 372.27 L601.41 372.26 L601.67 372.24 L601.93 372.23 L602.19 372.23 L602.45 372.23 L602.71 372.24 L602.96 372.24 L603.22 372.26 L603.48 372.27 L603.74 372.3 L604 372.32 L604.26 372.35 L604.52 372.39 L604.77 372.42 L605.03 372.46 L605.29 372.51 L605.55 372.56 L605.81 372.61 L606.07 372.67 L606.33 372.73 L606.58 372.8 L606.84 372.86 L607.1 372.94 L607.36 373.01 L607.62 373.09 L607.88 373.17 L608.13 373.26 L608.39 373.35 L608.65 373.44 L608.91 373.54 L609.17 373.64 L609.43 373.74 L609.69 373.85 L609.94 373.96 L610.2 374.07 L610.46 374.19 L610.72 374.31 L610.98 374.43 L611.24 374.56 L611.5 374.68 L611.75 374.82 L612.01 374.95 L612.27 375.09 L612.53 375.23 L612.79 375.37 L613.05 375.52 L613.3 375.67 L613.56 375.82 L613.82 375.98 L614.08 376.13 L614.34 376.29 L614.6 376.46 L614.86 376.62 L615.11 376.79 L615.37 376.96 L615.63 377.14 L615.89 377.31 L616.15 377.49 L616.41 377.67 L616.67 377.85 L616.92 378.04 L617.18 378.23 L617.44 378.42 L617.7 378.61 L617.96 378.8 L618.22 379 L618.47 379.2 L618.73 379.4 L618.99 379.61 L619.25 379.81 L619.51 380.02 L619.77 380.23 L620.03 380.44 L620.28 380.65 L620.54 380.87 L620.8 381.09 L621.06 381.31 L621.32 381.53 L621.58 381.75 L621.84 381.98 L622.09 382.2 L622.35 382.43 L622.61 382.66 L622.87 382.89 L623.13 383.13 L623.39 383.36 L623.64 383.6 L623.9 383.84 L624.16 384.08 L624.42 384.32 L624.68 384.56 L624.94 384.81 L625.2 385.06 L625.45 385.3 L625.71 385.55 L625.97 385.8 L626.23 386.06 L626.49 386.31 L626.75 386.56 L627.01 386.82 L627.26 387.08 L627.52 387.34 L627.78 387.59 L628.04 387.86 L628.3 388.12 L628.56 388.38 L628.81 388.65 L629.07 388.91 L629.33 389.18 L629.59 389.45 L629.85 389.71 L630.11 389.98 L630.37 390.26 L630.62 390.53 L630.88 390.8 L631.14 391.07 L631.4 391.35 L631.66 391.62 L631.92 391.9 L632.18 392.18 L632.43 392.46 L632.69 392.74 L632.95 393.01 L633.21 393.3 L633.47 393.58 L633.73 393.86 L633.98 394.14 L634.24 394.43 L634.5 394.71 L634.76 394.99 L635.02 395.28 L635.28 395.57 L635.54 395.85 L635.79 396.14 L636.05 396.43 L636.31 396.72 L636.57 397.01 L636.83 397.3 L637.09 397.59 L637.35 397.88 L637.6 398.17 L637.86 398.46 L638.12 398.75 L638.38 399.05 L638.64 399.34 L638.9 399.63 L639.15 399.93 L639.41 400.22 L639.67 400.51 L639.93 400.81 L640.19 401.11 L640.45 401.4 L640.71 401.7 L640.96 401.99 L641.22 402.29 L641.48 402.59 L641.74 402.88 L642 403.18 L642.26 403.48 L642.52 403.77 L642.77 404.07 L643.03 404.37 L643.29 404.67 L643.55 404.97 L643.81 405.27 L644.07 405.56 L644.32 405.86 L644.58 406.16 L644.84 406.46 L645.1 406.76 L645.36 407.06 L645.62 407.36 L645.88 407.66 L646.13 407.96 L646.39 408.25 L646.65 408.55 L646.91 408.85 L647.17 409.15 L647.43 409.45 L647.69 409.75 L647.94 410.05 L648.2 410.35 L648.46 410.65 L648.72 410.95 L648.98 411.25 L649.24 411.54 L649.49 411.84 L649.75 412.14 L650.01 412.44 L650.27 412.74 L650.53 413.04 L650.79 413.33 L651.05 413.63 L651.3 413.93 L651.56 414.23 L651.82 414.52 L652.08 414.82 L652.34 415.12 L652.6 415.41 L652.86 415.71 L653.11 416.01 L653.37 416.3 L653.63 416.6 L653.89 416.89 L654.15 417.19 L654.41 417.49 L654.66 417.78 L654.92 418.07 L655.18 418.37 L655.44 418.66 L655.7 418.96 L655.96 419.25 L656.22 419.54 L656.47 419.83 L656.73 420.13 L656.99 420.42 L657.25 420.71 L657.51 421 L657.77 421.29 L658.03 421.58 L658.28 421.87 L658.54 422.16 L658.8 422.45 L659.06 422.74 L659.32 423.03 L659.58 423.32 L659.83 423.61 L660.09 423.89 L660.35 424.18 L660.61 424.47 L660.87 424.75 L661.13 425.04 L661.39 425.33 L661.64 425.61 L661.9 425.9 L662.16 426.18 L662.42 426.46 L662.68 426.75 L662.94 427.03 L663.2 427.31 L663.45 427.59 L663.71 427.87 L663.97 428.16 L664.23 428.44 L664.49 428.72 L664.75 429 L665 429.27 L665.26 429.55 L665.52 429.83 L665.78 430.11 L666.04 430.38 L666.3 430.66 L666.56 430.94 L666.81 431.21 L667.07 431.49 L667.33 431.76 L667.59 432.04 L667.85 432.31 L668.11 432.58 L668.37 432.85 L668.62 433.13 L668.88 433.4 L669.14 433.67 L669.4 433.94 L669.66 434.21 L669.92 434.48 L670.17 434.75 L670.43 435.01 L670.69 435.28 L670.95 435.55 L671.21 435.81 L671.47 436.08 L671.73 436.34 L671.98 436.61 L672.24 436.87 L672.5 437.14 L672.76 437.4 L673.02 437.66 L673.28 437.92 L673.54 438.18 L673.79 438.44 L674.05 438.7 L674.31 438.96 L674.57 439.22 L674.83 439.48 L675.09 439.74 L675.34 440" fill="none" stroke="#b4b4b4" stroke-width="1.5" stroke-linejoin="round" />
<line x1="490" y1="354.21" x2="490" y2="375.51" stroke="#111" stroke-width="1.2" />
<line x1="487.2" y1="354.21" x2="492.8" y2="354.21" stroke="#111" stroke-width="1.2" />
<line x1="487.2" y1="375.51" x2="492.8" y2="375.51" stroke="#111" stroke-width="1.2" />
<circle cx="490" cy="365.13" r="2.3" fill="#000"/>
<line x1="515.85" y1="419.73" x2="515.85" y2="435.57" stroke="#111" stroke-width="1.2" />
<line x1="513.05" y1="419.73" x2="518.65" y2="419.73" stroke="#111" stroke-width="1.2" />
<line x1="513.05" y1="435.57" x2="518.65" y2="435.57" stroke="#111" stroke-width="1.2" />
<circle cx="515.85" cy="427.38" r="2.3" fill="#000"/>
<line x1="541.7" y1="528.39" x2="541.7" y2="534.39" stroke="#111" stroke-width="1.2" />
<line x1="538.9" y1="528.39" x2="544.5" y2="528.39" stroke="#111" stroke-width="1.2" />
<line x1="538.9" y1="534.39" x2="544.5" y2="534.39" stroke="#111" stroke-width="1.2" />
<circle cx="541.7" cy="531.66" r="2.3" fill="#000"/>
<line x1="567.55" y1="373.32" x2="567.55" y2="396.25" stroke="#111" stroke-width="1.2" />
<line x1="564.75" y1="373.32" x2="570.35" y2="373.32" stroke="#111" stroke-width="1.2" />
<line x1="564.75" y1="396.25" x2="570.35" y2="396.25" stroke="#111" stroke-width="1.2" />
<circle cx="567.55" cy="384.79" r="2.3" fill="#000"/>
<line x1="593.4" y1="344.93" x2="593.4" y2="367.86" stroke="#111" stroke-width="1.2" />
<line x1="590.6" y1="344.93" x2="596.2" y2="344.93" stroke="#111" stroke-width="1.2" />
<line x1="590.6" y1="367.86" x2="596.2" y2="367.86" stroke="#111" stroke-width="1.2" />
<circle cx="593.4" cy="356.4" r="2.3" fill="#000"/>
<line x1="619.25" y1="392.43" x2="619.25" y2="418.64" stroke="#111" stroke-width="1.2" />
<line x1="616.45" y1="392.43" x2="622.05" y2="392.43" stroke="#111" stroke-width="1.2" />
<line x1="616.45" y1="418.64" x2="622.05" y2="418.64" stroke="#111" stroke-width="1.2" />
<circle cx="619.25" cy="405.54" r="2.3" fill="#000"/>
<line x1="645.1" y1="418.64" x2="645.1" y2="452.49" stroke="#111" stroke-width="1.2" />
<line x1="642.3" y1="418.64" x2="647.9" y2="418.64" stroke="#111" stroke-width="1.2" />
<line x1="642.3" y1="452.49" x2="647.9" y2="452.49" stroke="#111" stroke-width="1.2" />
<circle cx="645.1" cy="435.57" r="2.3" fill="#000"/>
<line x1="670.95" y1="436.66" x2="670.95" y2="459.59" stroke="#111" stroke-width="1.2" />
<line x1="668.15" y1="436.66" x2="673.75" y2="436.66" stroke="#111" stroke-width="1.2" />
<line x1="668.15" y1="459.59" x2="673.75" y2="459.59" stroke="#111" stroke-width="1.2" />
<circle cx="670.95" cy="448.12" r="2.3" fill="#000"/>
</svg>
</body></html>
